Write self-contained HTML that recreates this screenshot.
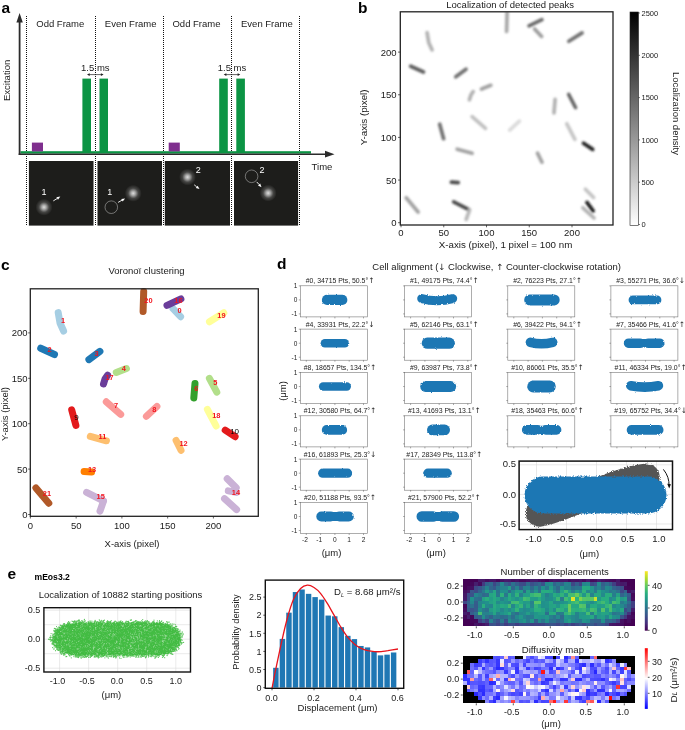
<!DOCTYPE html>
<html lang="en"><head><meta charset="utf-8"><title>Figure</title>
<style>html,body{margin:0;padding:0;background:#fff}body{width:685px;height:730px;overflow:hidden}svg{display:block}text{white-space:pre}</style>
</head><body>
<svg width="685" height="730" viewBox="0 0 685 730" font-family="'Liberation Sans', Arial, sans-serif" fill="#1a1a1a">
<defs>
<radialGradient id="spot"><stop offset="0" stop-color="#fff" stop-opacity=".85"/><stop offset=".25" stop-color="#fff" stop-opacity=".62"/><stop offset=".6" stop-color="#fff" stop-opacity=".18"/><stop offset="1" stop-color="#fff" stop-opacity="0"/></radialGradient>
<linearGradient id="gray" x1="0" y1="0" x2="0" y2="1"><stop offset="0" stop-color="#000"/><stop offset="1" stop-color="#fff"/></linearGradient>
<linearGradient id="bwr" x1="0" y1="0" x2="0" y2="1"><stop offset="0" stop-color="#f00"/><stop offset=".5" stop-color="#fff"/><stop offset="1" stop-color="#00f"/></linearGradient>
<linearGradient id="vir" x1="0" y1="1" x2="0" y2="0"><stop offset="0" stop-color="#440154"/><stop offset=".125" stop-color="#472d7b"/><stop offset=".25" stop-color="#3b528b"/><stop offset=".375" stop-color="#2c728e"/><stop offset=".5" stop-color="#21918c"/><stop offset=".625" stop-color="#28ae80"/><stop offset=".75" stop-color="#5ec962"/><stop offset=".875" stop-color="#addc30"/><stop offset="1" stop-color="#fde725"/></linearGradient>
<filter id="bl" filterUnits="userSpaceOnUse" x="395" y="5" width="225" height="225"><feGaussianBlur stdDeviation=".8"/></filter>
<filter id="rough" filterUnits="userSpaceOnUse" x="290" y="280" width="395" height="260"><feTurbulence type="fractalNoise" baseFrequency=".9" numOctaves="2" seed="3"/><feDisplacementMap in="SourceGraphic" scale="2.2" xChannelSelector="R" yChannelSelector="G"/></filter>
<filter id="rough2" filterUnits="userSpaceOnUse" x="510" y="455" width="170" height="80"><feTurbulence type="fractalNoise" baseFrequency=".7" numOctaves="2" seed="5"/><feDisplacementMap in="SourceGraphic" scale="3.6" xChannelSelector="R" yChannelSelector="G"/></filter>
</defs>
<rect x="0.00" y="0.00" width="685.00" height="730.00" fill="#fff"/>
<g id="pa">
<text x="1.6" y="13.0" font-size="15.5" font-weight="bold" fill="#000">a</text>
<line x1="26.50" y1="16.00" x2="26.50" y2="226.00" stroke="#111" stroke-width="1" stroke-dasharray="1 1" shape-rendering="crispEdges"/>
<line x1="95.50" y1="16.00" x2="95.50" y2="226.00" stroke="#111" stroke-width="1" stroke-dasharray="1 1" shape-rendering="crispEdges"/>
<line x1="163.50" y1="16.00" x2="163.50" y2="226.00" stroke="#111" stroke-width="1" stroke-dasharray="1 1" shape-rendering="crispEdges"/>
<line x1="231.50" y1="16.00" x2="231.50" y2="226.00" stroke="#111" stroke-width="1" stroke-dasharray="1 1" shape-rendering="crispEdges"/>
<line x1="299.50" y1="16.00" x2="299.50" y2="226.00" stroke="#111" stroke-width="1" stroke-dasharray="1 1" shape-rendering="crispEdges"/>
<rect x="28.90" y="161.00" width="64.60" height="64.60" fill="#1d1d1b"/>
<rect x="97.50" y="161.00" width="64.50" height="64.60" fill="#1d1d1b"/>
<rect x="164.80" y="161.00" width="65.20" height="64.60" fill="#1d1d1b"/>
<rect x="234.00" y="161.00" width="64.10" height="64.60" fill="#1d1d1b"/>
<rect x="20.50" y="151.20" width="290.50" height="2.40" fill="#0b9444"/>
<rect x="82.40" y="78.60" width="8.60" height="73.40" fill="#0b9444"/>
<rect x="99.50" y="78.60" width="8.50" height="73.40" fill="#0b9444"/>
<rect x="219.20" y="78.60" width="8.60" height="73.40" fill="#0b9444"/>
<rect x="236.30" y="78.60" width="8.60" height="73.40" fill="#0b9444"/>
<rect x="31.90" y="142.60" width="11.10" height="8.80" fill="#7f2f8e"/>
<rect x="168.70" y="142.60" width="11.10" height="8.80" fill="#7f2f8e"/>
<line x1="19.60" y1="20.00" x2="19.60" y2="155.00" stroke="#2b2b2b" stroke-width="1.8"/>
<polygon points="19.6,13 16.4,22.5 22.8,22.5" fill="#2b2b2b"/>
<line x1="18.70" y1="154.20" x2="327.00" y2="154.20" stroke="#2b2b2b" stroke-width="1.6"/>
<polygon points="334.5,154.2 325,150.8 325,157.6" fill="#2b2b2b"/>
<text x="60.3" y="27.3" font-size="9.5" text-anchor="middle">Odd Frame</text>
<text x="130.7" y="27.3" font-size="9.5" text-anchor="middle">Even Frame</text>
<text x="196.5" y="27.3" font-size="9.5" text-anchor="middle">Odd Frame</text>
<text x="266.9" y="27.3" font-size="9.5" text-anchor="middle">Even Frame</text>
<text x="95.3" y="70.7" font-size="9.5" text-anchor="middle">1.5 ms</text>
<line x1="88.30" y1="74.60" x2="102.30" y2="74.60" stroke="#222" stroke-width="0.7"/>
<polygon points="87.0,74.6 89.7,73.3 89.7,75.9" fill="#222"/>
<polygon points="103.6,74.6 100.89999999999999,73.3 100.89999999999999,75.9" fill="#222"/>
<text x="232.0" y="70.7" font-size="9.5" text-anchor="middle">1.5 ms</text>
<line x1="225.00" y1="74.60" x2="239.00" y2="74.60" stroke="#222" stroke-width="0.7"/>
<polygon points="223.7,74.6 226.4,73.3 226.4,75.9" fill="#222"/>
<polygon points="240.3,74.6 237.6,73.3 237.6,75.9" fill="#222"/>
<text x="10.5" y="80.4" font-size="9.5" text-anchor="middle" transform="rotate(-90 10.5 80.4)">Excitation</text>
<text x="322.0" y="170.4" font-size="9.5" text-anchor="middle">Time</text>
<circle cx="44" cy="207.2" r="8.5" fill="url(#spot)"/>
<text x="44.0" y="194.8" font-size="9" text-anchor="middle" fill="#fff">1</text>
<line x1="53.30" y1="200.90" x2="57.23" y2="198.48" stroke="#fff" stroke-width="0.9"/>
<polygon points="60.3,196.6 58.0,199.8 56.4,197.2" fill="#fff"/>
<circle cx="111.3" cy="207.2" r="6.3" fill="none" stroke="#ddd" stroke-width=".45"/>
<circle cx="133.2" cy="193.3" r="8.5" fill="url(#spot)"/>
<text x="109.8" y="194.8" font-size="9" text-anchor="middle" fill="#fff">1</text>
<line x1="118.10" y1="202.40" x2="121.97" y2="200.19" stroke="#fff" stroke-width="0.9"/>
<polygon points="125.1,198.4 122.7,201.5 121.2,198.9" fill="#fff"/>
<circle cx="187.5" cy="177.1" r="8.5" fill="url(#spot)"/>
<text x="198.2" y="172.8" font-size="9" text-anchor="middle" fill="#fff">2</text>
<line x1="194.20" y1="184.80" x2="196.70" y2="186.83" stroke="#fff" stroke-width="0.9"/>
<polygon points="199.5,189.1 195.8,188.0 197.6,185.7" fill="#fff"/>
<circle cx="251.6" cy="176.3" r="6.3" fill="none" stroke="#ddd" stroke-width=".45"/>
<circle cx="268.2" cy="193.1" r="8.5" fill="url(#spot)"/>
<text x="262.1" y="172.8" font-size="9" text-anchor="middle" fill="#fff">2</text>
<line x1="256.70" y1="181.90" x2="259.08" y2="184.53" stroke="#fff" stroke-width="0.9"/>
<polygon points="261.5,187.2 258.0,185.5 260.2,183.5" fill="#fff"/>
</g>
<g id="pb">
<text x="358.0" y="12.8" font-size="15.5" font-weight="bold" fill="#000">b</text>
<text x="510.2" y="7.6" font-size="9.5" text-anchor="middle">Localization of detected peaks</text>
<clipPath id="cb"><rect x="400.3" y="11.8" width="212.7" height="213.2"/></clipPath>
<g clip-path="url(#cb)" filter="url(#bl)" fill="none" stroke-linecap="round">
<path d="M534.6 29.0 L541.6 36.4" stroke="#9e9e9e" stroke-width="3.7"/>
<path d="M427.1 32.7 L428.7 42.4 L432.1 49.9" stroke="#b2b2b2" stroke-width="3.7"/>
<path d="M410.7 66.2 L423.5 72.0" stroke="#606060" stroke-width="3.7"/>
<path d="M455.8 76.8 L466.0 69.2" stroke="#727272" stroke-width="3.7"/>
<path d="M481.5 89.0 L490.8 85.3" stroke="#a3a3a3" stroke-width="3.7"/>
<path d="M568.7 94.5 L575.5 107.5" stroke="#666666" stroke-width="3.7"/>
<path d="M555.1 99.4 L554.0 112.8" stroke="#b2b2b2" stroke-width="3.7"/>
<path d="M472.1 116.7 L485.5 128.4" stroke="#c1c1c1" stroke-width="3.7"/>
<path d="M509.7 130.1 L519.4 121.1" stroke="#dbdbdb" stroke-width="3.7"/>
<path d="M439.7 124.2 L443.6 138.7" stroke="#727272" stroke-width="3.7"/>
<path d="M583.5 143.3 L592.7 149.4" stroke="#262626" stroke-width="3.7"/>
<path d="M457.2 149.2 L472.1 153.3" stroke="#a3a3a3" stroke-width="3.7"/>
<path d="M537.5 153.1 L542.0 162.2" stroke="#a3a3a3" stroke-width="3.7"/>
<path d="M451.4 182.2 L458.2 182.7" stroke="#4c4c4c" stroke-width="3.7"/>
<path d="M585.4 189.2 L593.6 197.5" stroke="#c4c4c4" stroke-width="3.7"/>
<path d="M587.0 202.5 L593.1 210.9" stroke="#1c1c1c" stroke-width="3.7"/>
<path d="M582.9 207.8 L594.0 218.0" stroke="#b4b4b4" stroke-width="3.7"/>
<path d="M453.7 201.9 L469.3 209.8" stroke="#4a4a4a" stroke-width="3.7"/>
<path d="M469.5 210.2 L466.2 219.4" stroke="#b8b8b8" stroke-width="3.7"/>
<path d="M529.0 25.8 L541.9 19.7" stroke="#6b6b6b" stroke-width="3.7"/>
<path d="M469.4 99.8 L470.9 95.1 L473.2 91.6" stroke="#b2b2b2" stroke-width="3.7"/>
<path d="M566.8 123.8 L574.9 139.3" stroke="#c6c6c6" stroke-width="3.7"/>
<path d="M568.8 41.2 L582.1 32.9" stroke="#727272" stroke-width="3.7"/>
<path d="M507.1 12.7 L506.6 31.5" stroke="#a8a8a8" stroke-width="3.7"/>
<path d="M406.2 197.8 L418.1 212.0" stroke="#a3a3a3" stroke-width="3.7"/>
</g>
<rect x="400.3" y="11.8" width="212.7" height="213.2" fill="none" stroke="#222" stroke-width="1.3"/>
<line x1="401.00" y1="225.00" x2="401.00" y2="227.30" stroke="#222" stroke-width="0.7"/>
<line x1="398.00" y1="222.70" x2="400.30" y2="222.70" stroke="#222" stroke-width="0.7"/>
<text x="401.0" y="236.4" font-size="9.5" text-anchor="middle">0</text>
<text x="396.5" y="226.1" font-size="9.5" text-anchor="end">0</text>
<line x1="443.75" y1="225.00" x2="443.75" y2="227.30" stroke="#222" stroke-width="0.7"/>
<line x1="398.00" y1="180.05" x2="400.30" y2="180.05" stroke="#222" stroke-width="0.7"/>
<text x="443.8" y="236.4" font-size="9.5" text-anchor="middle">50</text>
<text x="396.5" y="183.5" font-size="9.5" text-anchor="end">50</text>
<line x1="486.50" y1="225.00" x2="486.50" y2="227.30" stroke="#222" stroke-width="0.7"/>
<line x1="398.00" y1="137.40" x2="400.30" y2="137.40" stroke="#222" stroke-width="0.7"/>
<text x="486.5" y="236.4" font-size="9.5" text-anchor="middle">100</text>
<text x="396.5" y="140.8" font-size="9.5" text-anchor="end">100</text>
<line x1="529.25" y1="225.00" x2="529.25" y2="227.30" stroke="#222" stroke-width="0.7"/>
<line x1="398.00" y1="94.75" x2="400.30" y2="94.75" stroke="#222" stroke-width="0.7"/>
<text x="529.2" y="236.4" font-size="9.5" text-anchor="middle">150</text>
<text x="396.5" y="98.2" font-size="9.5" text-anchor="end">150</text>
<line x1="572.00" y1="225.00" x2="572.00" y2="227.30" stroke="#222" stroke-width="0.7"/>
<line x1="398.00" y1="52.10" x2="400.30" y2="52.10" stroke="#222" stroke-width="0.7"/>
<text x="572.0" y="236.4" font-size="9.5" text-anchor="middle">200</text>
<text x="396.5" y="55.5" font-size="9.5" text-anchor="end">200</text>
<text x="367.5" y="117.3" font-size="9.8" text-anchor="middle" transform="rotate(-90 367.5 117.3)">Y-axis (pixel)</text>
<text x="505.5" y="247.9" font-size="9.75" text-anchor="middle">X-axis (pixel), 1 pixel = 100 nm</text>
<rect x="630" y="12" width="8.5" height="213.5" fill="url(#gray)" stroke="#222" stroke-width=".6"/>
<line x1="638.50" y1="13.00" x2="640.00" y2="13.00" stroke="#222" stroke-width="0.6"/>
<text x="641.5" y="15.7" font-size="7.5">2500</text>
<line x1="638.50" y1="55.30" x2="640.00" y2="55.30" stroke="#222" stroke-width="0.6"/>
<text x="641.5" y="58.0" font-size="7.5">2000</text>
<line x1="638.50" y1="97.60" x2="640.00" y2="97.60" stroke="#222" stroke-width="0.6"/>
<text x="641.5" y="100.3" font-size="7.5">1500</text>
<line x1="638.50" y1="139.90" x2="640.00" y2="139.90" stroke="#222" stroke-width="0.6"/>
<text x="641.5" y="142.6" font-size="7.5">1000</text>
<line x1="638.50" y1="182.20" x2="640.00" y2="182.20" stroke="#222" stroke-width="0.6"/>
<text x="641.5" y="184.9" font-size="7.5">500</text>
<line x1="638.50" y1="224.50" x2="640.00" y2="224.50" stroke="#222" stroke-width="0.6"/>
<text x="641.5" y="227.2" font-size="7.5">0</text>
<text x="673.0" y="113.5" font-size="9.5" text-anchor="middle" transform="rotate(90 673.0 113.5)">Localization density</text>
</g>
<g id="pc">
<text x="1.0" y="269.5" font-size="15.5" font-weight="bold" fill="#000">c</text>
<text x="146.5" y="273.9" font-size="9.5" text-anchor="middle">Voronoï clustering</text>
<g fill="none" stroke-linecap="round" stroke-linejoin="round">
<path d="M173.0 308.7 L180.6 316.7" stroke="#a6cee3" stroke-width="7"/>
<path d="M58.2 312.6 L60.0 323.0 L63.6 331.0" stroke="#a6cee3" stroke-width="7"/>
<path d="M40.7 348.2 L54.5 354.5" stroke="#1f78b4" stroke-width="7"/>
<path d="M88.9 359.6 L99.9 351.4" stroke="#1f78b4" stroke-width="7"/>
<path d="M116.3 372.5 L126.4 368.5" stroke="#b2df8a" stroke-width="7"/>
<path d="M209.4 378.3 L216.8 392.2" stroke="#b2df8a" stroke-width="7"/>
<path d="M195.0 383.4 L193.8 397.9" stroke="#33a02c" stroke-width="7"/>
<path d="M106.3 401.8 L120.7 414.4" stroke="#fb9a99" stroke-width="7"/>
<path d="M146.4 416.3 L156.9 406.5" stroke="#fb9a99" stroke-width="7"/>
<path d="M71.7 409.8 L75.9 425.4" stroke="#e31a1c" stroke-width="7"/>
<path d="M225.2 430.1 L235.1 436.7" stroke="#e31a1c" stroke-width="7"/>
<path d="M90.3 436.4 L106.4 440.8" stroke="#fdbf6f" stroke-width="7"/>
<path d="M176.1 440.5 L181.0 450.3" stroke="#fdbf6f" stroke-width="7"/>
<path d="M84.1 471.5 L91.6 472.0" stroke="#ff7f00" stroke-width="7"/>
<path d="M227.2 478.8 L236.2 487.8" stroke="#cab2d6" stroke-width="7"/>
<path d="M228.3 490.9 L236.1 492.4" stroke="#cab2d6" stroke-width="7"/>
<path d="M224.5 498.6 L236.6 509.6" stroke="#cab2d6" stroke-width="7"/>
<path d="M86.6 492.4 L103.4 500.8" stroke="#cab2d6" stroke-width="7"/>
<path d="M103.5 501.1 L100.0 511.1" stroke="#cab2d6" stroke-width="7"/>
<path d="M167.0 305.4 L180.9 298.9" stroke="#6a3d9a" stroke-width="7"/>
<path d="M103.5 384.0 L105.0 379.0 L107.6 375.2" stroke="#6a3d9a" stroke-width="7"/>
<path d="M207.4 409.4 L216.1 426.0" stroke="#ffff99" stroke-width="7"/>
<path d="M209.5 321.8 L223.8 312.8" stroke="#ffff99" stroke-width="7"/>
<path d="M143.7 291.4 L143.1 311.5" stroke="#b15928" stroke-width="7"/>
<path d="M35.9 488.0 L48.8 503.2" stroke="#b15928" stroke-width="7"/>
</g>
<text x="179.5" y="313.4" font-size="7.4" text-anchor="middle" font-weight="bold" fill="#f2141e">0</text>
<text x="63.1" y="322.7" font-size="7.4" text-anchor="middle" font-weight="bold" fill="#f2141e">1</text>
<text x="49.5" y="352.3" font-size="7.4" text-anchor="middle" font-weight="bold" fill="#f2141e">2</text>
<text x="96.6" y="356.2" font-size="7.4" text-anchor="middle" font-weight="bold" fill="#f2141e">3</text>
<text x="123.7" y="371.3" font-size="7.4" text-anchor="middle" font-weight="bold" fill="#f2141e">4</text>
<text x="215.4" y="385.3" font-size="7.4" text-anchor="middle" font-weight="bold" fill="#f2141e">5</text>
<text x="196.4" y="391.4" font-size="7.4" text-anchor="middle" font-weight="bold" fill="#f2141e">6</text>
<text x="116.0" y="408.1" font-size="7.4" text-anchor="middle" font-weight="bold" fill="#f2141e">7</text>
<text x="154.3" y="411.9" font-size="7.4" text-anchor="middle" font-weight="bold" fill="#f2141e">8</text>
<text x="76.5" y="420.4" font-size="8" text-anchor="middle" fill="#000">9</text>
<text x="234.6" y="434.0" font-size="8" text-anchor="middle" fill="#000">10</text>
<text x="102.4" y="439.4" font-size="7.4" text-anchor="middle" font-weight="bold" fill="#f2141e">11</text>
<text x="183.5" y="445.8" font-size="7.4" text-anchor="middle" font-weight="bold" fill="#f2141e">12</text>
<text x="92.0" y="472.3" font-size="7.4" text-anchor="middle" font-weight="bold" fill="#f2141e">13</text>
<text x="235.9" y="495.1" font-size="7.4" text-anchor="middle" font-weight="bold" fill="#f2141e">14</text>
<text x="100.7" y="499.2" font-size="7.4" text-anchor="middle" font-weight="bold" fill="#f2141e">15</text>
<text x="178.4" y="302.5" font-size="7.4" text-anchor="middle" font-weight="bold" fill="#f2141e">16</text>
<text x="109.5" y="380.3" font-size="7.4" text-anchor="middle" font-weight="bold" fill="#f2141e">17</text>
<text x="216.3" y="417.5" font-size="7.4" text-anchor="middle" font-weight="bold" fill="#f2141e">18</text>
<text x="221.4" y="318.3" font-size="7.4" text-anchor="middle" font-weight="bold" fill="#f2141e">19</text>
<text x="148.4" y="302.5" font-size="7.4" text-anchor="middle" font-weight="bold" fill="#f2141e">20</text>
<text x="46.9" y="496.2" font-size="7.4" text-anchor="middle" font-weight="bold" fill="#f2141e">21</text>
<rect x="30.3" y="288.8" width="228.0" height="227.49999999999994" fill="none" stroke="#222" stroke-width="1.3"/>
<line x1="30.40" y1="516.30" x2="30.40" y2="518.50" stroke="#222" stroke-width="0.7"/>
<line x1="28.10" y1="514.50" x2="30.30" y2="514.50" stroke="#222" stroke-width="0.7"/>
<text x="30.4" y="528.9" font-size="9.5" text-anchor="middle">0</text>
<text x="27.5" y="517.9" font-size="9.5" text-anchor="end">0</text>
<line x1="76.15" y1="516.30" x2="76.15" y2="518.50" stroke="#222" stroke-width="0.7"/>
<line x1="28.10" y1="469.10" x2="30.30" y2="469.10" stroke="#222" stroke-width="0.7"/>
<text x="76.2" y="528.9" font-size="9.5" text-anchor="middle">50</text>
<text x="27.5" y="472.5" font-size="9.5" text-anchor="end">50</text>
<line x1="121.90" y1="516.30" x2="121.90" y2="518.50" stroke="#222" stroke-width="0.7"/>
<line x1="28.10" y1="423.70" x2="30.30" y2="423.70" stroke="#222" stroke-width="0.7"/>
<text x="121.9" y="528.9" font-size="9.5" text-anchor="middle">100</text>
<text x="27.5" y="427.1" font-size="9.5" text-anchor="end">100</text>
<line x1="167.65" y1="516.30" x2="167.65" y2="518.50" stroke="#222" stroke-width="0.7"/>
<line x1="28.10" y1="378.30" x2="30.30" y2="378.30" stroke="#222" stroke-width="0.7"/>
<text x="167.7" y="528.9" font-size="9.5" text-anchor="middle">150</text>
<text x="27.5" y="381.7" font-size="9.5" text-anchor="end">150</text>
<line x1="213.40" y1="516.30" x2="213.40" y2="518.50" stroke="#222" stroke-width="0.7"/>
<line x1="28.10" y1="332.90" x2="30.30" y2="332.90" stroke="#222" stroke-width="0.7"/>
<text x="213.4" y="528.9" font-size="9.5" text-anchor="middle">200</text>
<text x="27.5" y="336.3" font-size="9.5" text-anchor="end">200</text>
<text x="7.6" y="414.0" font-size="9.5" text-anchor="middle" transform="rotate(-90 7.6 414.0)">Y-axis (pixel)</text>
<text x="132.0" y="547.0" font-size="9.5" text-anchor="middle">X-axis (pixel)</text>
</g>
<g id="pd">
<text x="277.0" y="269.2" font-size="15.5" font-weight="bold" fill="#000">d</text>
<text x="496.7" y="269.7" font-size="9.5" text-anchor="middle">Cell alignment (<tspan font-family="DejaVu Sans, sans-serif" font-size="8.5">↓</tspan> Clockwise, <tspan font-family="DejaVu Sans, sans-serif" font-size="8.5">↑</tspan> Counter-clockwise rotation)</text>
<rect x="300.3" y="285.8" width="67.0" height="31.1" fill="#fff" stroke="#777" stroke-width=".6"/>
<line x1="306.30" y1="316.90" x2="306.30" y2="318.40" stroke="#555" stroke-width="0.5"/>
<line x1="320.60" y1="316.90" x2="320.60" y2="318.40" stroke="#555" stroke-width="0.5"/>
<line x1="334.90" y1="316.90" x2="334.90" y2="318.40" stroke="#555" stroke-width="0.5"/>
<line x1="349.20" y1="316.90" x2="349.20" y2="318.40" stroke="#555" stroke-width="0.5"/>
<line x1="363.50" y1="316.90" x2="363.50" y2="318.40" stroke="#555" stroke-width="0.5"/>
<line x1="298.80" y1="285.90" x2="300.30" y2="285.90" stroke="#555" stroke-width="0.5"/>
<text x="297.3" y="288.2" font-size="6.5" text-anchor="end" fill="#222">1</text>
<line x1="298.80" y1="299.90" x2="300.30" y2="299.90" stroke="#555" stroke-width="0.5"/>
<text x="297.3" y="302.2" font-size="6.5" text-anchor="end" fill="#222">0</text>
<line x1="298.80" y1="313.90" x2="300.30" y2="313.90" stroke="#555" stroke-width="0.5"/>
<text x="297.3" y="316.2" font-size="6.5" text-anchor="end" fill="#222">-1</text>
<text x="340.1" y="283.3" font-size="6.9" text-anchor="middle" fill="#222">#0, 34715 Pts, 50.5°<tspan font-family="DejaVu Sans, sans-serif" font-size="7.6">↑</tspan></text>
<rect x="404.6" y="285.8" width="67.0" height="31.1" fill="#fff" stroke="#777" stroke-width=".6"/>
<line x1="410.60" y1="316.90" x2="410.60" y2="318.40" stroke="#555" stroke-width="0.5"/>
<line x1="424.90" y1="316.90" x2="424.90" y2="318.40" stroke="#555" stroke-width="0.5"/>
<line x1="439.20" y1="316.90" x2="439.20" y2="318.40" stroke="#555" stroke-width="0.5"/>
<line x1="453.50" y1="316.90" x2="453.50" y2="318.40" stroke="#555" stroke-width="0.5"/>
<line x1="467.80" y1="316.90" x2="467.80" y2="318.40" stroke="#555" stroke-width="0.5"/>
<line x1="403.10" y1="285.90" x2="404.60" y2="285.90" stroke="#555" stroke-width="0.5"/>
<line x1="403.10" y1="299.90" x2="404.60" y2="299.90" stroke="#555" stroke-width="0.5"/>
<line x1="403.10" y1="313.90" x2="404.60" y2="313.90" stroke="#555" stroke-width="0.5"/>
<text x="444.4" y="283.3" font-size="6.9" text-anchor="middle" fill="#222">#1, 49175 Pts, 74.4°<tspan font-family="DejaVu Sans, sans-serif" font-size="7.6">↑</tspan></text>
<rect x="507.8" y="285.8" width="67.0" height="31.1" fill="#fff" stroke="#777" stroke-width=".6"/>
<line x1="513.80" y1="316.90" x2="513.80" y2="318.40" stroke="#555" stroke-width="0.5"/>
<line x1="528.10" y1="316.90" x2="528.10" y2="318.40" stroke="#555" stroke-width="0.5"/>
<line x1="542.40" y1="316.90" x2="542.40" y2="318.40" stroke="#555" stroke-width="0.5"/>
<line x1="556.70" y1="316.90" x2="556.70" y2="318.40" stroke="#555" stroke-width="0.5"/>
<line x1="571.00" y1="316.90" x2="571.00" y2="318.40" stroke="#555" stroke-width="0.5"/>
<line x1="506.30" y1="285.90" x2="507.80" y2="285.90" stroke="#555" stroke-width="0.5"/>
<line x1="506.30" y1="299.90" x2="507.80" y2="299.90" stroke="#555" stroke-width="0.5"/>
<line x1="506.30" y1="313.90" x2="507.80" y2="313.90" stroke="#555" stroke-width="0.5"/>
<text x="547.6" y="283.3" font-size="6.9" text-anchor="middle" fill="#222">#2, 76223 Pts, 27.1°<tspan font-family="DejaVu Sans, sans-serif" font-size="7.6">↑</tspan></text>
<rect x="610.9" y="285.8" width="67.0" height="31.1" fill="#fff" stroke="#777" stroke-width=".6"/>
<line x1="616.90" y1="316.90" x2="616.90" y2="318.40" stroke="#555" stroke-width="0.5"/>
<line x1="631.20" y1="316.90" x2="631.20" y2="318.40" stroke="#555" stroke-width="0.5"/>
<line x1="645.50" y1="316.90" x2="645.50" y2="318.40" stroke="#555" stroke-width="0.5"/>
<line x1="659.80" y1="316.90" x2="659.80" y2="318.40" stroke="#555" stroke-width="0.5"/>
<line x1="674.10" y1="316.90" x2="674.10" y2="318.40" stroke="#555" stroke-width="0.5"/>
<line x1="609.40" y1="285.90" x2="610.90" y2="285.90" stroke="#555" stroke-width="0.5"/>
<line x1="609.40" y1="299.90" x2="610.90" y2="299.90" stroke="#555" stroke-width="0.5"/>
<line x1="609.40" y1="313.90" x2="610.90" y2="313.90" stroke="#555" stroke-width="0.5"/>
<text x="650.7" y="283.3" font-size="6.9" text-anchor="middle" fill="#222">#3, 55271 Pts, 36.6°<tspan font-family="DejaVu Sans, sans-serif" font-size="7.6">↓</tspan></text>
<rect x="300.3" y="329.1" width="67.0" height="31.1" fill="#fff" stroke="#777" stroke-width=".6"/>
<line x1="306.30" y1="360.22" x2="306.30" y2="361.72" stroke="#555" stroke-width="0.5"/>
<line x1="320.60" y1="360.22" x2="320.60" y2="361.72" stroke="#555" stroke-width="0.5"/>
<line x1="334.90" y1="360.22" x2="334.90" y2="361.72" stroke="#555" stroke-width="0.5"/>
<line x1="349.20" y1="360.22" x2="349.20" y2="361.72" stroke="#555" stroke-width="0.5"/>
<line x1="363.50" y1="360.22" x2="363.50" y2="361.72" stroke="#555" stroke-width="0.5"/>
<line x1="298.80" y1="329.22" x2="300.30" y2="329.22" stroke="#555" stroke-width="0.5"/>
<text x="297.3" y="331.6" font-size="6.5" text-anchor="end" fill="#222">1</text>
<line x1="298.80" y1="343.22" x2="300.30" y2="343.22" stroke="#555" stroke-width="0.5"/>
<text x="297.3" y="345.6" font-size="6.5" text-anchor="end" fill="#222">0</text>
<line x1="298.80" y1="357.22" x2="300.30" y2="357.22" stroke="#555" stroke-width="0.5"/>
<text x="297.3" y="359.6" font-size="6.5" text-anchor="end" fill="#222">-1</text>
<text x="340.1" y="326.6" font-size="6.9" text-anchor="middle" fill="#222">#4, 33931 Pts, 22.2°<tspan font-family="DejaVu Sans, sans-serif" font-size="7.6">↓</tspan></text>
<rect x="404.6" y="329.1" width="67.0" height="31.1" fill="#fff" stroke="#777" stroke-width=".6"/>
<line x1="410.60" y1="360.22" x2="410.60" y2="361.72" stroke="#555" stroke-width="0.5"/>
<line x1="424.90" y1="360.22" x2="424.90" y2="361.72" stroke="#555" stroke-width="0.5"/>
<line x1="439.20" y1="360.22" x2="439.20" y2="361.72" stroke="#555" stroke-width="0.5"/>
<line x1="453.50" y1="360.22" x2="453.50" y2="361.72" stroke="#555" stroke-width="0.5"/>
<line x1="467.80" y1="360.22" x2="467.80" y2="361.72" stroke="#555" stroke-width="0.5"/>
<line x1="403.10" y1="329.22" x2="404.60" y2="329.22" stroke="#555" stroke-width="0.5"/>
<line x1="403.10" y1="343.22" x2="404.60" y2="343.22" stroke="#555" stroke-width="0.5"/>
<line x1="403.10" y1="357.22" x2="404.60" y2="357.22" stroke="#555" stroke-width="0.5"/>
<text x="444.4" y="326.6" font-size="6.9" text-anchor="middle" fill="#222">#5, 62146 Pts, 63.1°<tspan font-family="DejaVu Sans, sans-serif" font-size="7.6">↑</tspan></text>
<rect x="507.8" y="329.1" width="67.0" height="31.1" fill="#fff" stroke="#777" stroke-width=".6"/>
<line x1="513.80" y1="360.22" x2="513.80" y2="361.72" stroke="#555" stroke-width="0.5"/>
<line x1="528.10" y1="360.22" x2="528.10" y2="361.72" stroke="#555" stroke-width="0.5"/>
<line x1="542.40" y1="360.22" x2="542.40" y2="361.72" stroke="#555" stroke-width="0.5"/>
<line x1="556.70" y1="360.22" x2="556.70" y2="361.72" stroke="#555" stroke-width="0.5"/>
<line x1="571.00" y1="360.22" x2="571.00" y2="361.72" stroke="#555" stroke-width="0.5"/>
<line x1="506.30" y1="329.22" x2="507.80" y2="329.22" stroke="#555" stroke-width="0.5"/>
<line x1="506.30" y1="343.22" x2="507.80" y2="343.22" stroke="#555" stroke-width="0.5"/>
<line x1="506.30" y1="357.22" x2="507.80" y2="357.22" stroke="#555" stroke-width="0.5"/>
<text x="547.6" y="326.6" font-size="6.9" text-anchor="middle" fill="#222">#6, 39422 Pts, 94.1°<tspan font-family="DejaVu Sans, sans-serif" font-size="7.6">↑</tspan></text>
<rect x="610.9" y="329.1" width="67.0" height="31.1" fill="#fff" stroke="#777" stroke-width=".6"/>
<line x1="616.90" y1="360.22" x2="616.90" y2="361.72" stroke="#555" stroke-width="0.5"/>
<line x1="631.20" y1="360.22" x2="631.20" y2="361.72" stroke="#555" stroke-width="0.5"/>
<line x1="645.50" y1="360.22" x2="645.50" y2="361.72" stroke="#555" stroke-width="0.5"/>
<line x1="659.80" y1="360.22" x2="659.80" y2="361.72" stroke="#555" stroke-width="0.5"/>
<line x1="674.10" y1="360.22" x2="674.10" y2="361.72" stroke="#555" stroke-width="0.5"/>
<line x1="609.40" y1="329.22" x2="610.90" y2="329.22" stroke="#555" stroke-width="0.5"/>
<line x1="609.40" y1="343.22" x2="610.90" y2="343.22" stroke="#555" stroke-width="0.5"/>
<line x1="609.40" y1="357.22" x2="610.90" y2="357.22" stroke="#555" stroke-width="0.5"/>
<text x="650.7" y="326.6" font-size="6.9" text-anchor="middle" fill="#222">#7, 35466 Pts, 41.6°<tspan font-family="DejaVu Sans, sans-serif" font-size="7.6">↑</tspan></text>
<rect x="300.3" y="372.4" width="67.0" height="31.1" fill="#fff" stroke="#777" stroke-width=".6"/>
<line x1="306.30" y1="403.54" x2="306.30" y2="405.04" stroke="#555" stroke-width="0.5"/>
<line x1="320.60" y1="403.54" x2="320.60" y2="405.04" stroke="#555" stroke-width="0.5"/>
<line x1="334.90" y1="403.54" x2="334.90" y2="405.04" stroke="#555" stroke-width="0.5"/>
<line x1="349.20" y1="403.54" x2="349.20" y2="405.04" stroke="#555" stroke-width="0.5"/>
<line x1="363.50" y1="403.54" x2="363.50" y2="405.04" stroke="#555" stroke-width="0.5"/>
<line x1="298.80" y1="372.54" x2="300.30" y2="372.54" stroke="#555" stroke-width="0.5"/>
<text x="297.3" y="374.9" font-size="6.5" text-anchor="end" fill="#222">1</text>
<line x1="298.80" y1="386.54" x2="300.30" y2="386.54" stroke="#555" stroke-width="0.5"/>
<text x="297.3" y="388.9" font-size="6.5" text-anchor="end" fill="#222">0</text>
<line x1="298.80" y1="400.54" x2="300.30" y2="400.54" stroke="#555" stroke-width="0.5"/>
<text x="297.3" y="402.9" font-size="6.5" text-anchor="end" fill="#222">-1</text>
<text x="340.1" y="369.9" font-size="6.9" text-anchor="middle" fill="#222">#8, 18657 Pts, 134.5°<tspan font-family="DejaVu Sans, sans-serif" font-size="7.6">↑</tspan></text>
<rect x="404.6" y="372.4" width="67.0" height="31.1" fill="#fff" stroke="#777" stroke-width=".6"/>
<line x1="410.60" y1="403.54" x2="410.60" y2="405.04" stroke="#555" stroke-width="0.5"/>
<line x1="424.90" y1="403.54" x2="424.90" y2="405.04" stroke="#555" stroke-width="0.5"/>
<line x1="439.20" y1="403.54" x2="439.20" y2="405.04" stroke="#555" stroke-width="0.5"/>
<line x1="453.50" y1="403.54" x2="453.50" y2="405.04" stroke="#555" stroke-width="0.5"/>
<line x1="467.80" y1="403.54" x2="467.80" y2="405.04" stroke="#555" stroke-width="0.5"/>
<line x1="403.10" y1="372.54" x2="404.60" y2="372.54" stroke="#555" stroke-width="0.5"/>
<line x1="403.10" y1="386.54" x2="404.60" y2="386.54" stroke="#555" stroke-width="0.5"/>
<line x1="403.10" y1="400.54" x2="404.60" y2="400.54" stroke="#555" stroke-width="0.5"/>
<text x="444.4" y="369.9" font-size="6.9" text-anchor="middle" fill="#222">#9, 63987 Pts, 73.8°<tspan font-family="DejaVu Sans, sans-serif" font-size="7.6">↑</tspan></text>
<rect x="507.8" y="372.4" width="67.0" height="31.1" fill="#fff" stroke="#777" stroke-width=".6"/>
<line x1="513.80" y1="403.54" x2="513.80" y2="405.04" stroke="#555" stroke-width="0.5"/>
<line x1="528.10" y1="403.54" x2="528.10" y2="405.04" stroke="#555" stroke-width="0.5"/>
<line x1="542.40" y1="403.54" x2="542.40" y2="405.04" stroke="#555" stroke-width="0.5"/>
<line x1="556.70" y1="403.54" x2="556.70" y2="405.04" stroke="#555" stroke-width="0.5"/>
<line x1="571.00" y1="403.54" x2="571.00" y2="405.04" stroke="#555" stroke-width="0.5"/>
<line x1="506.30" y1="372.54" x2="507.80" y2="372.54" stroke="#555" stroke-width="0.5"/>
<line x1="506.30" y1="386.54" x2="507.80" y2="386.54" stroke="#555" stroke-width="0.5"/>
<line x1="506.30" y1="400.54" x2="507.80" y2="400.54" stroke="#555" stroke-width="0.5"/>
<text x="547.6" y="369.9" font-size="6.9" text-anchor="middle" fill="#222">#10, 86061 Pts, 35.5°<tspan font-family="DejaVu Sans, sans-serif" font-size="7.6">↑</tspan></text>
<rect x="610.9" y="372.4" width="67.0" height="31.1" fill="#fff" stroke="#777" stroke-width=".6"/>
<line x1="616.90" y1="403.54" x2="616.90" y2="405.04" stroke="#555" stroke-width="0.5"/>
<line x1="631.20" y1="403.54" x2="631.20" y2="405.04" stroke="#555" stroke-width="0.5"/>
<line x1="645.50" y1="403.54" x2="645.50" y2="405.04" stroke="#555" stroke-width="0.5"/>
<line x1="659.80" y1="403.54" x2="659.80" y2="405.04" stroke="#555" stroke-width="0.5"/>
<line x1="674.10" y1="403.54" x2="674.10" y2="405.04" stroke="#555" stroke-width="0.5"/>
<line x1="609.40" y1="372.54" x2="610.90" y2="372.54" stroke="#555" stroke-width="0.5"/>
<line x1="609.40" y1="386.54" x2="610.90" y2="386.54" stroke="#555" stroke-width="0.5"/>
<line x1="609.40" y1="400.54" x2="610.90" y2="400.54" stroke="#555" stroke-width="0.5"/>
<text x="650.7" y="369.9" font-size="6.9" text-anchor="middle" fill="#222">#11, 46334 Pts, 19.0°<tspan font-family="DejaVu Sans, sans-serif" font-size="7.6">↑</tspan></text>
<rect x="300.3" y="415.8" width="67.0" height="31.1" fill="#fff" stroke="#777" stroke-width=".6"/>
<line x1="306.30" y1="446.86" x2="306.30" y2="448.36" stroke="#555" stroke-width="0.5"/>
<line x1="320.60" y1="446.86" x2="320.60" y2="448.36" stroke="#555" stroke-width="0.5"/>
<line x1="334.90" y1="446.86" x2="334.90" y2="448.36" stroke="#555" stroke-width="0.5"/>
<line x1="349.20" y1="446.86" x2="349.20" y2="448.36" stroke="#555" stroke-width="0.5"/>
<line x1="363.50" y1="446.86" x2="363.50" y2="448.36" stroke="#555" stroke-width="0.5"/>
<line x1="298.80" y1="415.86" x2="300.30" y2="415.86" stroke="#555" stroke-width="0.5"/>
<text x="297.3" y="418.2" font-size="6.5" text-anchor="end" fill="#222">1</text>
<line x1="298.80" y1="429.86" x2="300.30" y2="429.86" stroke="#555" stroke-width="0.5"/>
<text x="297.3" y="432.2" font-size="6.5" text-anchor="end" fill="#222">0</text>
<line x1="298.80" y1="443.86" x2="300.30" y2="443.86" stroke="#555" stroke-width="0.5"/>
<text x="297.3" y="446.2" font-size="6.5" text-anchor="end" fill="#222">-1</text>
<text x="340.1" y="413.2" font-size="6.9" text-anchor="middle" fill="#222">#12, 30580 Pts, 64.7°<tspan font-family="DejaVu Sans, sans-serif" font-size="7.6">↑</tspan></text>
<rect x="404.6" y="415.8" width="67.0" height="31.1" fill="#fff" stroke="#777" stroke-width=".6"/>
<line x1="410.60" y1="446.86" x2="410.60" y2="448.36" stroke="#555" stroke-width="0.5"/>
<line x1="424.90" y1="446.86" x2="424.90" y2="448.36" stroke="#555" stroke-width="0.5"/>
<line x1="439.20" y1="446.86" x2="439.20" y2="448.36" stroke="#555" stroke-width="0.5"/>
<line x1="453.50" y1="446.86" x2="453.50" y2="448.36" stroke="#555" stroke-width="0.5"/>
<line x1="467.80" y1="446.86" x2="467.80" y2="448.36" stroke="#555" stroke-width="0.5"/>
<line x1="403.10" y1="415.86" x2="404.60" y2="415.86" stroke="#555" stroke-width="0.5"/>
<line x1="403.10" y1="429.86" x2="404.60" y2="429.86" stroke="#555" stroke-width="0.5"/>
<line x1="403.10" y1="443.86" x2="404.60" y2="443.86" stroke="#555" stroke-width="0.5"/>
<text x="444.4" y="413.2" font-size="6.9" text-anchor="middle" fill="#222">#13, 41693 Pts, 13.1°<tspan font-family="DejaVu Sans, sans-serif" font-size="7.6">↑</tspan></text>
<rect x="507.8" y="415.8" width="67.0" height="31.1" fill="#fff" stroke="#777" stroke-width=".6"/>
<line x1="513.80" y1="446.86" x2="513.80" y2="448.36" stroke="#555" stroke-width="0.5"/>
<line x1="528.10" y1="446.86" x2="528.10" y2="448.36" stroke="#555" stroke-width="0.5"/>
<line x1="542.40" y1="446.86" x2="542.40" y2="448.36" stroke="#555" stroke-width="0.5"/>
<line x1="556.70" y1="446.86" x2="556.70" y2="448.36" stroke="#555" stroke-width="0.5"/>
<line x1="571.00" y1="446.86" x2="571.00" y2="448.36" stroke="#555" stroke-width="0.5"/>
<line x1="506.30" y1="415.86" x2="507.80" y2="415.86" stroke="#555" stroke-width="0.5"/>
<line x1="506.30" y1="429.86" x2="507.80" y2="429.86" stroke="#555" stroke-width="0.5"/>
<line x1="506.30" y1="443.86" x2="507.80" y2="443.86" stroke="#555" stroke-width="0.5"/>
<text x="547.6" y="413.2" font-size="6.9" text-anchor="middle" fill="#222">#18, 35463 Pts, 60.6°<tspan font-family="DejaVu Sans, sans-serif" font-size="7.6">↑</tspan></text>
<rect x="610.9" y="415.8" width="67.0" height="31.1" fill="#fff" stroke="#777" stroke-width=".6"/>
<line x1="616.90" y1="446.86" x2="616.90" y2="448.36" stroke="#555" stroke-width="0.5"/>
<line x1="631.20" y1="446.86" x2="631.20" y2="448.36" stroke="#555" stroke-width="0.5"/>
<line x1="645.50" y1="446.86" x2="645.50" y2="448.36" stroke="#555" stroke-width="0.5"/>
<line x1="659.80" y1="446.86" x2="659.80" y2="448.36" stroke="#555" stroke-width="0.5"/>
<line x1="674.10" y1="446.86" x2="674.10" y2="448.36" stroke="#555" stroke-width="0.5"/>
<line x1="609.40" y1="415.86" x2="610.90" y2="415.86" stroke="#555" stroke-width="0.5"/>
<line x1="609.40" y1="429.86" x2="610.90" y2="429.86" stroke="#555" stroke-width="0.5"/>
<line x1="609.40" y1="443.86" x2="610.90" y2="443.86" stroke="#555" stroke-width="0.5"/>
<text x="650.7" y="413.2" font-size="6.9" text-anchor="middle" fill="#222">#19, 65752 Pts, 34.4°<tspan font-family="DejaVu Sans, sans-serif" font-size="7.6">↓</tspan></text>
<rect x="300.3" y="459.1" width="67.0" height="31.1" fill="#fff" stroke="#777" stroke-width=".6"/>
<line x1="306.30" y1="490.18" x2="306.30" y2="491.68" stroke="#555" stroke-width="0.5"/>
<line x1="320.60" y1="490.18" x2="320.60" y2="491.68" stroke="#555" stroke-width="0.5"/>
<line x1="334.90" y1="490.18" x2="334.90" y2="491.68" stroke="#555" stroke-width="0.5"/>
<line x1="349.20" y1="490.18" x2="349.20" y2="491.68" stroke="#555" stroke-width="0.5"/>
<line x1="363.50" y1="490.18" x2="363.50" y2="491.68" stroke="#555" stroke-width="0.5"/>
<line x1="298.80" y1="459.18" x2="300.30" y2="459.18" stroke="#555" stroke-width="0.5"/>
<text x="297.3" y="461.5" font-size="6.5" text-anchor="end" fill="#222">1</text>
<line x1="298.80" y1="473.18" x2="300.30" y2="473.18" stroke="#555" stroke-width="0.5"/>
<text x="297.3" y="475.5" font-size="6.5" text-anchor="end" fill="#222">0</text>
<line x1="298.80" y1="487.18" x2="300.30" y2="487.18" stroke="#555" stroke-width="0.5"/>
<text x="297.3" y="489.5" font-size="6.5" text-anchor="end" fill="#222">-1</text>
<text x="340.1" y="456.6" font-size="6.9" text-anchor="middle" fill="#222">#16, 61893 Pts, 25.3°<tspan font-family="DejaVu Sans, sans-serif" font-size="7.6">↓</tspan></text>
<rect x="404.6" y="459.1" width="67.0" height="31.1" fill="#fff" stroke="#777" stroke-width=".6"/>
<line x1="410.60" y1="490.18" x2="410.60" y2="491.68" stroke="#555" stroke-width="0.5"/>
<line x1="424.90" y1="490.18" x2="424.90" y2="491.68" stroke="#555" stroke-width="0.5"/>
<line x1="439.20" y1="490.18" x2="439.20" y2="491.68" stroke="#555" stroke-width="0.5"/>
<line x1="453.50" y1="490.18" x2="453.50" y2="491.68" stroke="#555" stroke-width="0.5"/>
<line x1="467.80" y1="490.18" x2="467.80" y2="491.68" stroke="#555" stroke-width="0.5"/>
<line x1="403.10" y1="459.18" x2="404.60" y2="459.18" stroke="#555" stroke-width="0.5"/>
<line x1="403.10" y1="473.18" x2="404.60" y2="473.18" stroke="#555" stroke-width="0.5"/>
<line x1="403.10" y1="487.18" x2="404.60" y2="487.18" stroke="#555" stroke-width="0.5"/>
<text x="444.4" y="456.6" font-size="6.9" text-anchor="middle" fill="#222">#17, 28349 Pts, 113.8°<tspan font-family="DejaVu Sans, sans-serif" font-size="7.6">↑</tspan></text>
<rect x="300.3" y="502.4" width="67.0" height="31.1" fill="#fff" stroke="#777" stroke-width=".6"/>
<line x1="306.30" y1="533.50" x2="306.30" y2="535.00" stroke="#555" stroke-width="0.5"/>
<text x="305.0" y="542.3" font-size="6.6" text-anchor="middle" fill="#222">-2</text>
<line x1="320.60" y1="533.50" x2="320.60" y2="535.00" stroke="#555" stroke-width="0.5"/>
<text x="319.3" y="542.3" font-size="6.6" text-anchor="middle" fill="#222">-1</text>
<line x1="334.90" y1="533.50" x2="334.90" y2="535.00" stroke="#555" stroke-width="0.5"/>
<text x="334.9" y="542.3" font-size="6.6" text-anchor="middle" fill="#222">0</text>
<line x1="349.20" y1="533.50" x2="349.20" y2="535.00" stroke="#555" stroke-width="0.5"/>
<text x="349.2" y="542.3" font-size="6.6" text-anchor="middle" fill="#222">1</text>
<line x1="363.50" y1="533.50" x2="363.50" y2="535.00" stroke="#555" stroke-width="0.5"/>
<text x="363.5" y="542.3" font-size="6.6" text-anchor="middle" fill="#222">2</text>
<line x1="298.80" y1="502.50" x2="300.30" y2="502.50" stroke="#555" stroke-width="0.5"/>
<text x="297.3" y="504.8" font-size="6.5" text-anchor="end" fill="#222">1</text>
<line x1="298.80" y1="516.50" x2="300.30" y2="516.50" stroke="#555" stroke-width="0.5"/>
<text x="297.3" y="518.8" font-size="6.5" text-anchor="end" fill="#222">0</text>
<line x1="298.80" y1="530.50" x2="300.30" y2="530.50" stroke="#555" stroke-width="0.5"/>
<text x="297.3" y="532.8" font-size="6.5" text-anchor="end" fill="#222">-1</text>
<text x="340.1" y="499.9" font-size="6.9" text-anchor="middle" fill="#222">#20, 51188 Pts, 93.5°<tspan font-family="DejaVu Sans, sans-serif" font-size="7.6">↑</tspan></text>
<rect x="404.6" y="502.4" width="67.0" height="31.1" fill="#fff" stroke="#777" stroke-width=".6"/>
<line x1="410.60" y1="533.50" x2="410.60" y2="535.00" stroke="#555" stroke-width="0.5"/>
<text x="409.3" y="542.3" font-size="6.6" text-anchor="middle" fill="#222">-2</text>
<line x1="424.90" y1="533.50" x2="424.90" y2="535.00" stroke="#555" stroke-width="0.5"/>
<text x="423.6" y="542.3" font-size="6.6" text-anchor="middle" fill="#222">-1</text>
<line x1="439.20" y1="533.50" x2="439.20" y2="535.00" stroke="#555" stroke-width="0.5"/>
<text x="439.2" y="542.3" font-size="6.6" text-anchor="middle" fill="#222">0</text>
<line x1="453.50" y1="533.50" x2="453.50" y2="535.00" stroke="#555" stroke-width="0.5"/>
<text x="453.5" y="542.3" font-size="6.6" text-anchor="middle" fill="#222">1</text>
<line x1="467.80" y1="533.50" x2="467.80" y2="535.00" stroke="#555" stroke-width="0.5"/>
<text x="467.8" y="542.3" font-size="6.6" text-anchor="middle" fill="#222">2</text>
<line x1="403.10" y1="502.50" x2="404.60" y2="502.50" stroke="#555" stroke-width="0.5"/>
<line x1="403.10" y1="516.50" x2="404.60" y2="516.50" stroke="#555" stroke-width="0.5"/>
<line x1="403.10" y1="530.50" x2="404.60" y2="530.50" stroke="#555" stroke-width="0.5"/>
<text x="444.4" y="499.9" font-size="6.9" text-anchor="middle" fill="#222">#21, 57900 Pts, 52.2°<tspan font-family="DejaVu Sans, sans-serif" font-size="7.6">↑</tspan></text>
<g filter="url(#rough)" stroke="#1f77b4" stroke-linecap="round" fill="none"><path d="M327.0 299.9 L342.3 299.9" stroke-width="10.2"/><path d="M421.7 298.6 Q437.2 303.1 452.7 298.6" stroke-width="9.0"/><path d="M529.7 299.9 L554.2 299.9" stroke-width="11.0"/><path d="M632.9 299.9 L657.1 299.9" stroke-width="8.6"/><path d="M324.9 343.2 L344.8 343.2" stroke-width="8.6"/><path d="M427.3 343.2 L449.3 343.2" stroke-width="11.2"/><path d="M530.4 342.4 Q541.5 345.2 552.7 342.4" stroke-width="9.6"/><path d="M628.6 343.2 L659.7 343.2" stroke-width="8.4"/><path d="M628.6 343.2 L640.0 343.2 M648.3 343.2 L659.7 343.2" stroke-width="9.6"/><path d="M323.1 386.5 L346.8 386.5" stroke-width="8.4"/><path d="M425.6 386.5 L450.7 386.5" stroke-width="10.8"/><path d="M533.2 386.5 L549.8 386.5" stroke-width="11.8"/><path d="M630.8 385.7 Q644.6 388.5 658.4 385.7" stroke-width="9.6"/><path d="M326.7 429.9 L342.2 429.9" stroke-width="9.8"/><path d="M432.3 429.9 L444.7 429.9" stroke-width="10.6"/><path d="M526.7 429.9 L556.6 429.9" stroke-width="8.4"/><path d="M526.7 429.9 L537.5 429.9 M545.8 429.9 L556.6 429.9" stroke-width="9.6"/><path d="M631.6 429.9 L658.6 429.9" stroke-width="9.8"/><path d="M322.7 473.2 L347.6 473.2" stroke-width="9.2"/><path d="M427.9 473.2 L447.2 473.2" stroke-width="9.2"/><path d="M321.3 516.5 L348.8 516.5" stroke-width="8.8"/><path d="M321.3 516.5 L330.7 516.5 M339.4 516.5 L348.8 516.5" stroke-width="10.0"/><path d="M421.7 516.5 L453.9 516.5" stroke-width="9.200000000000001"/><path d="M421.7 516.5 L433.2 516.5 M442.4 516.5 L453.9 516.5" stroke-width="10.4"/></g>
<text x="286.4" y="391.0" font-size="9.5" text-anchor="middle" transform="rotate(-90 286.4 391.0)">(μm)</text>
<text x="331.5" y="555.9" font-size="9.5" text-anchor="middle">(μm)</text>
<text x="436.0" y="555.9" font-size="9.5" text-anchor="middle">(μm)</text>
<rect x="519.10" y="461.10" width="153.40" height="68.50" fill="#fff"/>
<line x1="536.50" y1="461.10" x2="536.50" y2="529.60" stroke="#d9d9d9" stroke-width="0.6"/>
<line x1="566.50" y1="461.10" x2="566.50" y2="529.60" stroke="#d9d9d9" stroke-width="0.6"/>
<line x1="596.50" y1="461.10" x2="596.50" y2="529.60" stroke="#d9d9d9" stroke-width="0.6"/>
<line x1="626.50" y1="461.10" x2="626.50" y2="529.60" stroke="#d9d9d9" stroke-width="0.6"/>
<line x1="656.50" y1="461.10" x2="656.50" y2="529.60" stroke="#d9d9d9" stroke-width="0.6"/>
<line x1="519.10" y1="464.80" x2="672.50" y2="464.80" stroke="#d9d9d9" stroke-width="0.6"/>
<line x1="519.10" y1="494.40" x2="672.50" y2="494.40" stroke="#d9d9d9" stroke-width="0.6"/>
<line x1="519.10" y1="524.00" x2="672.50" y2="524.00" stroke="#d9d9d9" stroke-width="0.6"/>
<clipPath id="cg"><rect x="519.1" y="461.1" width="153.4" height="68.5"/></clipPath>
<g clip-path="url(#cg)">
<path d="M539.5 513 C566 509 612 481 646 477.3" stroke="#555" stroke-width="27.5" stroke-linecap="round" fill="none" filter="url(#rough2)"/>
<path d="M543 495 L648 495" stroke="#1f77b4" stroke-width="37" stroke-linecap="round" fill="none" filter="url(#rough2)"/>
</g>
<path d="M663.4 469.4 Q669.5 477 669 486" stroke="#111" stroke-width="1" fill="none"/>
<polygon points="669.2,488.5 667.2,483.8 670.9,484.2" fill="#111"/>
<rect x="519.1" y="461.1" width="153.39999999999998" height="68.5" fill="none" stroke="#111" stroke-width="1.5"/>
<text x="533.7" y="541.6" font-size="9.5" text-anchor="middle">-1.0</text>
<text x="565.0" y="541.6" font-size="9.5" text-anchor="middle">-0.5</text>
<text x="596.3" y="541.6" font-size="9.5" text-anchor="middle">0.0</text>
<text x="627.6" y="541.6" font-size="9.5" text-anchor="middle">0.5</text>
<text x="658.9" y="541.6" font-size="9.5" text-anchor="middle">1.0</text>
<text x="516.0" y="466.9" font-size="9.5" text-anchor="end">0.5</text>
<text x="516.0" y="497.8" font-size="9.5" text-anchor="end">0.0</text>
<text x="516.0" y="527.4" font-size="9.5" text-anchor="end">-0.5</text>
<text x="589.3" y="556.9" font-size="9.5" text-anchor="middle">(μm)</text>
</g>
<g id="pe">
<text x="7.5" y="579.0" font-size="15.5" font-weight="bold" fill="#000">e</text>
<text x="34.5" y="580.0" font-size="8.6" font-weight="bold" fill="#000">mEos3.2</text>
<text x="120.5" y="598.2" font-size="9.5" text-anchor="middle">Localization of 10882 starting positions</text>
<rect x="43.90" y="607.70" width="146.60" height="64.30" fill="#fff"/>
<line x1="59.60" y1="607.70" x2="59.60" y2="672.00" stroke="#dcdcdc" stroke-width="0.6"/>
<line x1="88.65" y1="607.70" x2="88.65" y2="672.00" stroke="#dcdcdc" stroke-width="0.6"/>
<line x1="117.70" y1="607.70" x2="117.70" y2="672.00" stroke="#dcdcdc" stroke-width="0.6"/>
<line x1="146.75" y1="607.70" x2="146.75" y2="672.00" stroke="#dcdcdc" stroke-width="0.6"/>
<line x1="175.80" y1="607.70" x2="175.80" y2="672.00" stroke="#dcdcdc" stroke-width="0.6"/>
<line x1="43.90" y1="610.20" x2="190.50" y2="610.20" stroke="#dcdcdc" stroke-width="0.6"/>
<line x1="43.90" y1="624.70" x2="190.50" y2="624.70" stroke="#dcdcdc" stroke-width="0.6"/>
<line x1="43.90" y1="639.20" x2="190.50" y2="639.20" stroke="#dcdcdc" stroke-width="0.6"/>
<line x1="43.90" y1="653.70" x2="190.50" y2="653.70" stroke="#dcdcdc" stroke-width="0.6"/>
<line x1="43.90" y1="668.20" x2="190.50" y2="668.20" stroke="#dcdcdc" stroke-width="0.6"/>
<rect x="52.4" y="622.5" width="129.0" height="33.0" rx="26.0" ry="16.5" fill="#35b835" opacity=".5"/>
<path d="M92.4 624.3h0M57.5 640.5h0M55.5 639.3h0M107.7 620.9h0M106.4 652.7h0M78.4 644.4h0M127.6 634.7h0M67.5 622.9h0M160.8 625.6h0M136.2 633.6h0M142.0 636.0h0M128.8 637.0h0M157.8 647.4h0M127.2 640.1h0M148.8 630.1h0M63.8 635.6h0M68.5 638.5h0M140.3 650.1h0M169.1 631.2h0M130.0 642.4h0M87.0 634.2h0M50.5 637.4h0M65.4 628.4h0M167.5 629.7h0M68.4 625.4h0M79.8 638.4h0M98.7 641.8h0M143.4 639.7h0M155.8 654.7h0M101.9 634.8h0M135.6 620.6h0M76.4 624.8h0M61.5 633.3h0M168.9 643.8h0M82.5 632.6h0M112.2 638.3h0M61.6 632.4h0M162.6 624.8h0M179.6 640.2h0M83.7 633.4h0M154.7 640.4h0M93.2 627.4h0M161.1 649.1h0M119.4 632.9h0M98.1 627.3h0M74.7 626.6h0M138.2 651.6h0M151.7 638.1h0M157.1 632.0h0M179.0 648.4h0M159.5 624.1h0M123.7 623.5h0M177.2 636.2h0M162.2 626.9h0M88.1 628.1h0M83.5 635.6h0M173.9 632.9h0M128.5 656.0h0M175.0 639.1h0M71.4 637.9h0M124.8 631.7h0M124.6 650.9h0M125.3 628.4h0M154.7 639.3h0M132.5 639.2h0M143.7 637.0h0M57.5 628.1h0M140.5 650.9h0M68.9 648.1h0M69.8 636.1h0M94.5 626.2h0M134.1 639.5h0M62.0 629.2h0M155.7 629.4h0M83.3 624.3h0M126.7 647.4h0M55.4 646.9h0M94.5 641.2h0M84.6 623.4h0M80.5 622.6h0M89.8 649.9h0M116.9 625.5h0M149.3 641.1h0M113.4 657.3h0M161.2 636.2h0M163.4 634.5h0M163.1 647.7h0M103.7 632.6h0M82.9 624.9h0M86.6 628.2h0M111.3 624.6h0M123.4 628.3h0M90.4 633.0h0M100.4 637.9h0M75.3 639.2h0M84.1 621.8h0M79.8 642.6h0M151.7 645.6h0M169.6 634.4h0M171.4 644.3h0M160.3 623.9h0M117.5 653.1h0M162.3 642.5h0M142.3 647.1h0M134.7 644.3h0M151.4 639.1h0M82.5 621.1h0M148.8 626.6h0M114.0 646.7h0M133.2 645.0h0M67.9 628.7h0M89.7 641.8h0M143.6 646.4h0M119.2 637.5h0M111.2 652.4h0M109.9 629.3h0M67.1 640.0h0M65.8 652.4h0M170.7 647.5h0M172.2 638.4h0M89.4 623.9h0M91.3 653.3h0M151.8 653.2h0M87.7 633.6h0M106.9 629.6h0M61.5 653.1h0M177.4 628.5h0M118.4 626.0h0M123.7 648.2h0M149.2 636.9h0M137.0 630.0h0M95.2 630.5h0M89.2 641.4h0M70.7 624.8h0M173.3 638.9h0M66.8 626.1h0M94.9 621.8h0M83.3 641.9h0M151.6 635.3h0M120.3 633.8h0M64.9 639.1h0M167.3 627.1h0M81.9 634.8h0M171.9 637.9h0M81.9 622.6h0M120.0 646.6h0M147.7 645.2h0M111.0 641.2h0M156.1 627.8h0M137.1 630.8h0M82.4 644.7h0M128.4 634.3h0M170.2 638.0h0M141.2 635.6h0M140.2 656.9h0M142.3 626.3h0M150.1 639.2h0M79.5 627.3h0M73.4 627.4h0M102.1 626.9h0M93.2 625.8h0M100.0 633.7h0M161.6 652.5h0M54.2 637.9h0M160.2 650.2h0M83.1 649.4h0M94.5 629.4h0M133.2 629.0h0M91.4 629.6h0M101.1 628.5h0M116.0 657.0h0M159.0 649.0h0M154.8 643.5h0M91.8 633.2h0M81.8 620.7h0M124.2 631.7h0M146.1 636.8h0M105.3 644.1h0M151.4 653.6h0M64.2 653.3h0M126.2 633.7h0M75.1 628.4h0M92.8 634.6h0M117.9 627.7h0M113.4 652.4h0M167.8 636.9h0M155.5 657.7h0M130.3 644.0h0M98.7 623.9h0M82.8 643.2h0M141.7 625.8h0M75.7 651.4h0M123.9 644.8h0M70.2 647.2h0M86.8 630.9h0M90.8 641.8h0M98.0 626.3h0M106.3 652.5h0M170.1 637.4h0M98.9 639.2h0M86.8 639.9h0M62.5 638.6h0M173.1 644.1h0M69.7 651.0h0M103.6 653.5h0M72.8 627.2h0M119.4 634.1h0M81.7 648.4h0M130.7 641.1h0M90.0 635.6h0M106.6 645.7h0M115.4 627.9h0M155.8 637.2h0M113.2 622.5h0M107.3 621.9h0M160.7 626.1h0M70.4 651.1h0M56.5 632.7h0M69.5 655.7h0M160.8 624.0h0M175.3 626.7h0M117.7 631.4h0M72.7 624.8h0M141.9 655.6h0M156.5 622.8h0M135.8 633.1h0M124.6 642.4h0M102.2 651.5h0M153.7 636.6h0M82.7 644.8h0M128.8 645.9h0M133.0 636.2h0M96.7 622.5h0M78.6 642.5h0M75.8 644.2h0M168.5 650.9h0M125.6 632.7h0M81.9 655.9h0M121.3 635.1h0M55.5 650.7h0M124.0 657.5h0M75.1 643.5h0M136.6 652.2h0M90.4 630.6h0M171.0 650.9h0M112.1 649.2h0M78.8 622.4h0M144.0 653.5h0M84.4 641.3h0M157.0 640.0h0M80.2 649.2h0M151.1 631.7h0M93.1 628.0h0M135.1 647.1h0M144.4 654.0h0M148.1 642.0h0M76.9 644.2h0M174.0 624.1h0M143.7 644.6h0M97.9 652.3h0M76.0 622.7h0M165.2 652.1h0M162.1 644.5h0M75.9 631.4h0M146.9 633.5h0M108.1 650.5h0M145.3 640.6h0M115.6 638.6h0M73.0 638.8h0M163.0 628.9h0M86.8 627.0h0M116.7 622.6h0M156.8 644.4h0M103.2 634.6h0M76.1 629.1h0M117.1 633.9h0M79.9 637.4h0M152.3 649.6h0M95.8 631.7h0M164.6 645.8h0M71.0 636.4h0M127.9 623.3h0M170.4 628.0h0M89.3 647.5h0M68.9 624.6h0M92.8 639.9h0M93.0 625.9h0M61.5 634.1h0M157.9 648.8h0M74.7 644.8h0M76.1 634.3h0M102.9 651.2h0M117.0 644.6h0M67.1 643.4h0M150.4 656.1h0M127.2 649.5h0M79.2 648.3h0M155.0 647.4h0M141.9 644.9h0M90.9 644.4h0M105.7 650.9h0M134.9 628.5h0M110.7 644.1h0M141.3 657.1h0M138.4 650.7h0M122.9 624.8h0M178.1 639.8h0M127.3 640.7h0M118.6 644.8h0M119.9 635.2h0M76.6 646.7h0M105.9 647.3h0M84.3 627.4h0M178.1 640.1h0M158.8 634.5h0M65.4 650.6h0M135.6 637.7h0M136.2 652.4h0M112.5 630.4h0M64.8 653.0h0M165.6 629.2h0M82.6 635.9h0M81.5 630.7h0M107.0 644.8h0M156.4 623.9h0M179.7 645.6h0M155.3 632.6h0M173.1 651.3h0M171.3 643.6h0M164.0 626.3h0M121.2 649.2h0M170.1 641.3h0M80.0 623.9h0M55.5 637.6h0M115.7 638.9h0M112.4 641.6h0M164.2 633.7h0M134.3 632.2h0M98.3 637.9h0M154.5 626.9h0M106.1 641.3h0M88.1 652.8h0M117.4 629.4h0M93.4 631.3h0M128.9 644.7h0M132.0 645.6h0M173.9 643.7h0M134.5 647.2h0M142.1 626.9h0M111.0 650.0h0M174.5 645.5h0M161.7 651.0h0M83.3 630.7h0M91.7 636.1h0M76.9 624.4h0M81.1 648.8h0M166.3 648.6h0M134.8 647.8h0M137.8 652.3h0M90.6 648.6h0M167.1 638.4h0M98.5 642.1h0M141.5 624.1h0M97.9 645.1h0M105.5 634.2h0M145.2 652.8h0M131.0 631.0h0M170.8 633.8h0M106.1 642.6h0M160.2 654.4h0M85.5 653.7h0M142.6 656.4h0M59.2 641.3h0M75.3 649.5h0M79.9 643.5h0M112.1 626.7h0M151.8 651.2h0M79.8 642.3h0M170.4 639.9h0M129.3 625.9h0M72.5 647.4h0M125.9 634.9h0M99.4 622.5h0M156.8 624.6h0M95.3 639.8h0M115.0 641.8h0M155.7 635.9h0M154.0 652.4h0M72.5 621.5h0M124.9 654.6h0M130.5 634.7h0M102.0 636.8h0M67.5 649.7h0M141.5 630.5h0M152.7 622.4h0M83.1 623.2h0M70.8 628.0h0M134.7 637.0h0M161.8 638.1h0M67.2 627.3h0M146.6 641.2h0M168.4 629.2h0M69.0 629.4h0M93.9 625.0h0M91.6 655.9h0M140.3 626.9h0M87.2 628.8h0M159.6 632.3h0M73.2 636.3h0M77.7 642.0h0M72.4 650.4h0M74.7 621.3h0M132.0 638.8h0M76.0 643.7h0M160.2 642.5h0M56.5 648.8h0M94.0 653.4h0M113.6 654.6h0M73.3 652.9h0M70.1 633.6h0M119.1 623.1h0M160.9 654.3h0M146.3 634.0h0M116.2 639.6h0M78.5 625.7h0M82.2 652.3h0M60.8 647.4h0M120.1 647.5h0M168.3 648.1h0M64.5 638.7h0M86.3 623.1h0M66.4 642.9h0M67.9 642.1h0M70.2 652.7h0M101.4 635.7h0M120.5 634.6h0M155.4 632.2h0M94.0 636.3h0M106.1 644.6h0M135.4 652.0h0M84.3 646.5h0M82.2 639.9h0M137.4 623.1h0M180.3 639.6h0M112.2 640.4h0M64.6 623.5h0M103.9 630.1h0M59.6 640.9h0M132.2 641.9h0M75.4 647.8h0M123.6 643.7h0M90.6 628.2h0M118.6 634.1h0M80.6 641.4h0M154.7 624.7h0M168.5 636.5h0M101.3 636.5h0M150.1 624.5h0M96.4 646.4h0M165.5 652.5h0M150.1 649.2h0M113.5 651.0h0M105.5 650.9h0M131.8 633.9h0M111.0 648.4h0M101.7 641.3h0M92.2 651.1h0M116.8 636.6h0M89.7 624.1h0M92.4 653.4h0M125.9 638.9h0M154.9 640.6h0M119.3 639.7h0M101.5 633.0h0M120.4 622.2h0M103.1 641.6h0M108.6 644.2h0M95.1 640.3h0M71.1 631.4h0M162.2 639.5h0M171.7 647.0h0M69.1 630.2h0M117.6 625.9h0M135.0 643.3h0M104.6 651.1h0M164.5 642.6h0M74.7 638.9h0M84.4 645.2h0M120.0 652.6h0M159.5 620.6h0M154.5 631.6h0M96.6 625.1h0M95.9 636.9h0M166.2 631.2h0M160.8 630.8h0M81.2 634.4h0M78.2 631.0h0M114.7 651.3h0M71.5 633.1h0M63.4 640.4h0M103.4 620.7h0M162.2 632.8h0M74.0 629.9h0M69.1 647.6h0M84.9 653.1h0M109.0 653.1h0M69.5 632.8h0M179.6 639.2h0M110.3 623.5h0M98.6 628.3h0M76.9 654.6h0M118.7 640.8h0M154.7 634.2h0M126.3 631.1h0M92.0 645.8h0M125.5 633.2h0M78.9 623.3h0M86.6 634.9h0M65.8 629.6h0M141.9 645.9h0M104.7 645.7h0M81.9 653.6h0M134.8 625.6h0M174.3 648.8h0M74.9 630.7h0M72.4 653.3h0M147.0 628.7h0M142.5 632.7h0M163.4 650.6h0M157.4 626.8h0M102.1 649.4h0M150.1 652.9h0M106.9 639.5h0M65.1 650.0h0M145.1 651.8h0M123.0 628.5h0M97.1 635.3h0M90.6 623.7h0M140.6 628.0h0M119.0 636.7h0M96.3 630.6h0M67.1 641.7h0M160.7 641.0h0M70.9 646.0h0M111.5 650.2h0M63.3 630.2h0M74.8 647.5h0M63.1 631.6h0M97.9 625.1h0M125.7 622.6h0M107.8 626.0h0M82.3 628.3h0M88.6 625.8h0M156.5 652.9h0M92.8 625.8h0M91.9 633.5h0M98.7 652.9h0M161.3 647.6h0M178.7 638.8h0M69.3 630.6h0M58.6 646.9h0M53.0 636.5h0M166.3 651.1h0M86.8 645.8h0M105.9 632.2h0M140.0 652.7h0M70.3 630.4h0M125.7 632.6h0M59.2 631.6h0M132.1 630.5h0M179.8 638.2h0M89.0 632.4h0M99.1 642.4h0M121.1 641.7h0M82.4 638.5h0M78.9 642.1h0M118.7 642.7h0M167.4 641.1h0M101.9 625.2h0M125.7 650.5h0M77.0 630.6h0M106.6 655.3h0M168.6 641.6h0M94.9 650.1h0M162.2 623.2h0M53.4 643.4h0M123.7 651.7h0M176.0 646.4h0M74.2 636.8h0M128.2 622.8h0M62.7 651.6h0M124.4 630.2h0M100.3 624.1h0M122.2 647.0h0M68.4 639.1h0M161.1 646.5h0M113.5 624.6h0M102.1 654.7h0M57.9 631.8h0M171.7 642.7h0M71.0 633.2h0M127.6 634.3h0M85.3 629.5h0M83.8 641.9h0M125.3 650.4h0M155.0 644.6h0M97.8 629.8h0M89.7 650.1h0M118.1 644.7h0M124.0 635.1h0M94.3 631.6h0M114.3 633.4h0M80.0 632.7h0M109.3 641.9h0M90.3 648.5h0M128.5 621.4h0M155.0 636.0h0M56.8 638.3h0M85.7 628.8h0M70.3 629.3h0M77.7 634.8h0M131.2 654.3h0M74.7 648.8h0M169.1 632.3h0M73.6 640.6h0M136.3 656.8h0M92.8 649.5h0M103.7 646.5h0M55.4 635.4h0M134.5 632.0h0M130.5 628.8h0M148.1 631.8h0M122.3 642.7h0M138.8 643.3h0M150.4 628.8h0M153.5 650.6h0M86.1 640.0h0M138.5 650.5h0M55.8 639.1h0M68.2 625.5h0M175.5 624.8h0M155.6 628.2h0M116.8 644.7h0M158.7 637.3h0M56.5 645.1h0M134.6 627.4h0M83.9 636.2h0M75.6 649.9h0M126.6 624.6h0M168.2 629.2h0M161.8 629.9h0M114.9 655.4h0M142.3 643.1h0M127.9 655.1h0M170.2 633.1h0M167.4 625.7h0M59.9 632.3h0M79.6 636.1h0M66.3 636.0h0M142.7 624.2h0M117.0 622.7h0M116.4 656.6h0M149.1 629.5h0M84.2 620.9h0M118.1 635.1h0M138.2 640.8h0M147.2 634.8h0M101.0 635.2h0M99.8 628.1h0M92.5 645.1h0M151.1 653.8h0M134.9 649.2h0M146.4 634.5h0M132.6 646.4h0M134.8 640.8h0M132.5 629.1h0M113.2 648.3h0M113.6 627.3h0M176.3 640.2h0M120.7 652.2h0M71.4 652.5h0M136.4 652.8h0M163.1 652.3h0M68.8 628.6h0M97.0 651.7h0M110.3 621.7h0M113.9 651.5h0M68.2 646.6h0M119.8 628.0h0M94.7 634.0h0M75.3 642.0h0M72.2 648.2h0M92.4 628.2h0M60.1 644.7h0M75.4 635.8h0M133.3 633.6h0M108.9 633.4h0M88.4 635.1h0M160.1 632.8h0M127.8 656.8h0M139.9 631.8h0M152.5 633.9h0M111.6 653.3h0M113.2 655.4h0M115.7 639.5h0M140.6 649.1h0M154.3 650.3h0M146.2 638.3h0M143.5 635.6h0M67.6 632.0h0M83.9 631.1h0M166.8 641.3h0M167.9 651.7h0M83.1 626.5h0M122.0 633.7h0M115.4 642.5h0M158.8 626.4h0M121.5 635.2h0M92.4 629.5h0M87.9 647.8h0M129.7 637.1h0M109.2 654.9h0M107.7 644.8h0M158.7 638.9h0M141.2 630.4h0M76.2 622.2h0M139.0 628.8h0M142.7 624.5h0M88.2 627.8h0M91.7 641.5h0M174.2 631.6h0M68.5 651.6h0M136.5 627.4h0M60.4 637.5h0M107.2 646.5h0M87.8 632.6h0M116.4 657.1h0M114.8 654.3h0M122.6 621.7h0M79.0 656.8h0M178.7 645.6h0M93.7 636.9h0M150.6 625.5h0M60.7 641.2h0M130.2 637.4h0M65.7 642.3h0M99.5 645.9h0M164.5 654.7h0M63.7 638.8h0M63.7 637.6h0M121.8 639.3h0M74.9 635.0h0M65.1 628.1h0M117.1 655.4h0M178.5 638.5h0M126.7 646.9h0M151.7 624.5h0M88.0 655.4h0M127.8 627.8h0M156.4 647.9h0M81.6 643.2h0M160.6 632.4h0M111.6 656.7h0M178.1 635.3h0M141.8 624.4h0M66.9 626.3h0M157.4 638.1h0M135.9 626.4h0M165.0 651.0h0M147.1 632.7h0M173.2 649.3h0M158.9 642.8h0M162.1 650.9h0M156.9 628.6h0M79.7 626.3h0M80.3 638.7h0M142.7 647.8h0M156.4 651.3h0M59.5 645.4h0M94.6 643.0h0M105.6 643.4h0M94.0 627.0h0M164.8 644.0h0M59.6 629.4h0M108.8 645.8h0M64.2 646.7h0M161.8 625.7h0M180.5 633.2h0M171.1 643.6h0M102.2 639.0h0M162.9 624.8h0M110.6 652.0h0M96.4 622.2h0M167.3 639.6h0M58.0 644.2h0M135.2 633.8h0M163.4 646.7h0M109.6 649.5h0M148.7 649.5h0M92.6 623.8h0M151.3 644.9h0M153.4 630.2h0M159.3 646.4h0M86.0 624.8h0M162.2 651.3h0M66.8 639.7h0M69.9 649.0h0M73.4 631.0h0M74.8 631.5h0M62.5 628.9h0M75.8 656.2h0M163.8 644.8h0M91.2 624.4h0M112.8 641.5h0M152.0 629.6h0M174.9 640.2h0M135.0 628.9h0M152.2 646.5h0M159.7 622.7h0M143.6 650.5h0M102.0 651.8h0M73.2 654.6h0M119.8 646.1h0M66.0 632.2h0M104.8 639.1h0M140.2 642.3h0M127.1 629.5h0M157.0 653.2h0M140.7 649.7h0M161.5 645.3h0M65.6 647.6h0M132.5 629.6h0M131.3 652.6h0M77.0 627.4h0M97.4 647.4h0M164.0 631.7h0M134.9 623.8h0M55.6 636.7h0M62.8 627.4h0M94.7 631.9h0M77.7 651.3h0M164.1 652.0h0M117.5 635.8h0M135.0 648.4h0M103.0 639.5h0M66.0 637.1h0M145.9 637.1h0M73.8 634.9h0M74.4 648.9h0M108.4 626.3h0M74.7 629.2h0M147.4 620.6h0M135.0 629.1h0M70.1 644.6h0M110.7 622.3h0M68.8 650.7h0M113.6 652.5h0M62.5 641.7h0M76.5 628.6h0M173.7 647.8h0M100.8 652.1h0M128.8 633.9h0M162.8 651.0h0M57.3 631.6h0M170.5 638.4h0M76.0 628.2h0M100.6 622.4h0M64.9 626.4h0M128.8 644.7h0M54.9 637.8h0M140.9 648.0h0M137.7 647.1h0M79.2 634.5h0M161.9 644.6h0M80.8 657.1h0M175.2 629.0h0M159.6 624.8h0M124.7 652.5h0M133.6 643.0h0M87.8 634.7h0M160.2 637.2h0M137.8 626.7h0M165.5 653.6h0M98.5 630.7h0M67.9 643.5h0M63.2 647.1h0M119.7 637.1h0M132.3 645.2h0M149.2 651.5h0M163.8 648.1h0M142.0 653.7h0M108.8 647.7h0M89.2 632.6h0M60.6 636.6h0M85.5 628.5h0M175.4 631.8h0M91.0 644.3h0M121.2 645.3h0M177.8 635.1h0M76.9 630.1h0M142.9 647.0h0M152.1 628.4h0M129.6 645.6h0M144.0 630.8h0M154.4 625.5h0M89.5 635.2h0M109.2 648.6h0M177.0 632.4h0M166.2 651.7h0M129.0 645.8h0M100.6 645.4h0M78.4 620.7h0M97.9 648.4h0M156.9 628.6h0M120.1 622.7h0M158.0 630.0h0M153.7 627.4h0M77.8 634.1h0M136.6 637.8h0M63.5 637.3h0M71.6 627.7h0M120.4 628.1h0M167.6 626.9h0M91.6 626.6h0M114.3 625.6h0M138.2 639.6h0M112.8 649.1h0M79.9 639.0h0M137.9 624.1h0M98.5 655.9h0M78.9 643.1h0M58.8 627.1h0M108.4 623.9h0M151.5 642.5h0M103.3 646.5h0M163.3 626.5h0M110.9 627.5h0M92.1 635.1h0M69.9 652.8h0M131.8 628.8h0M125.5 647.9h0M68.1 623.8h0M128.2 655.2h0M80.0 625.0h0M110.3 635.2h0M139.4 654.1h0M121.0 653.7h0M138.2 639.5h0M81.3 645.6h0M126.7 625.6h0M82.9 627.9h0M120.2 646.5h0M150.4 644.2h0M140.8 651.6h0M113.5 646.5h0M137.4 625.6h0M156.6 627.8h0M149.6 633.1h0M154.0 623.4h0M77.3 629.2h0M66.3 635.1h0M58.2 642.5h0M127.6 632.9h0M108.2 625.4h0M163.5 645.0h0M153.9 630.6h0M161.6 643.2h0M169.0 642.7h0M85.3 620.9h0M71.5 647.2h0M79.4 629.1h0M94.0 639.9h0M105.4 638.1h0M60.1 644.2h0M84.0 651.3h0M94.9 638.7h0M176.5 641.5h0M68.8 647.1h0M147.1 627.6h0M74.0 647.7h0M157.4 627.7h0M139.6 641.7h0M74.2 642.5h0M135.5 628.1h0M106.3 640.4h0M87.8 644.9h0M132.8 655.9h0M90.6 645.8h0M69.3 627.5h0M162.4 648.1h0M157.8 631.0h0M111.6 626.3h0M117.8 639.9h0M147.0 640.2h0M114.6 628.6h0M78.2 631.4h0M146.4 650.4h0M133.4 622.4h0M135.9 629.7h0M112.2 644.0h0M108.2 621.6h0M87.4 650.3h0M121.3 653.0h0M71.5 650.1h0M94.4 623.2h0M87.5 637.5h0M149.4 623.4h0M94.5 628.4h0M166.2 631.5h0M150.9 632.3h0M105.6 652.5h0M92.9 653.6h0M84.4 633.4h0M96.5 633.9h0M79.0 656.2h0M160.4 628.6h0M100.3 653.3h0M122.3 632.1h0M95.4 653.4h0M150.9 646.4h0M110.7 632.3h0M156.1 654.5h0M94.7 628.5h0M79.0 621.0h0M150.4 626.3h0M103.3 651.7h0M90.5 644.6h0M90.7 654.7h0M62.1 642.7h0M119.5 638.3h0M169.8 646.0h0M97.8 633.3h0M147.1 636.0h0M120.2 652.5h0M97.0 627.3h0M158.8 627.2h0M146.1 657.1h0M89.3 631.8h0M73.4 641.0h0M140.3 624.0h0M153.0 654.5h0M175.8 626.7h0M125.2 624.0h0M159.1 635.8h0M83.4 629.6h0M118.7 637.7h0M151.4 628.0h0M119.2 625.4h0M147.6 649.5h0M146.2 629.4h0M108.9 621.6h0M158.2 646.5h0M111.3 644.8h0M94.1 650.2h0M75.0 624.8h0M133.3 630.7h0M77.8 621.6h0M91.3 639.2h0M114.1 636.5h0M74.9 642.9h0M106.5 632.8h0M101.9 624.4h0M148.7 632.9h0M175.3 634.9h0M88.9 641.3h0M98.3 653.8h0M129.4 646.4h0M178.7 641.1h0M114.1 638.8h0M171.8 632.7h0M176.6 644.8h0M93.6 634.3h0M156.6 628.9h0M101.3 633.2h0M122.3 629.6h0M161.6 624.7h0M159.4 624.2h0M124.0 656.7h0M176.0 636.2h0M151.4 654.1h0M145.9 644.5h0M69.9 625.6h0M82.6 627.8h0M72.4 624.4h0M157.3 642.2h0M169.9 643.2h0M174.6 641.6h0M71.7 634.1h0M105.0 646.1h0M148.6 635.2h0M91.4 633.8h0M91.6 649.8h0M132.3 624.7h0M115.3 629.6h0M68.1 650.0h0M173.5 642.6h0M61.7 629.6h0M168.5 636.6h0M83.1 648.7h0M61.0 638.7h0M77.2 645.5h0M159.8 649.9h0M167.4 634.9h0M113.1 623.0h0M67.5 646.5h0M65.6 644.7h0M82.0 652.2h0M112.6 648.2h0M95.1 657.2h0M66.4 652.2h0M73.2 639.0h0M156.6 628.5h0M121.5 653.9h0M142.2 649.3h0M111.8 652.6h0M124.4 635.0h0M66.5 637.8h0M84.6 633.4h0M153.3 642.8h0M170.6 633.4h0M64.6 629.9h0M122.9 654.2h0M97.5 643.4h0M76.0 639.3h0M163.7 646.1h0M172.9 642.8h0M84.6 655.0h0M85.0 624.2h0M69.8 648.5h0M97.3 655.8h0M67.1 624.6h0M129.2 651.6h0M117.3 642.1h0M104.8 640.8h0M55.5 635.8h0M152.6 628.2h0M81.0 621.9h0M101.3 632.1h0M78.3 646.1h0M110.3 639.1h0M131.4 625.6h0M58.8 631.9h0M137.6 635.8h0M68.9 630.8h0M173.9 647.7h0M165.2 645.2h0M147.0 639.4h0M140.5 636.2h0M78.4 634.7h0M59.6 646.9h0M94.0 629.2h0M78.3 634.8h0M107.3 624.5h0M61.3 639.1h0M74.4 646.1h0M159.8 630.3h0M160.6 637.9h0M114.6 623.3h0M144.3 642.3h0M63.1 631.5h0M128.4 648.4h0M144.1 633.4h0M167.6 644.7h0M168.6 648.1h0M100.3 646.2h0M156.7 654.3h0M126.1 626.3h0M114.5 632.2h0M118.4 642.7h0M86.0 639.1h0M105.6 645.9h0M121.3 629.6h0M145.2 650.8h0M99.5 630.2h0M145.9 652.4h0M149.0 626.9h0M97.2 630.9h0M152.3 648.8h0M79.9 650.9h0M141.4 644.7h0M79.3 632.2h0M158.0 649.0h0M98.7 629.3h0M168.0 636.4h0M69.3 629.8h0M165.9 631.9h0M171.2 635.9h0M154.8 633.7h0M172.9 636.5h0M130.1 628.7h0M101.6 633.9h0M99.1 650.0h0M141.9 644.2h0M88.2 626.4h0M173.8 627.8h0M127.3 631.5h0M92.6 645.1h0M118.3 623.1h0M90.7 635.5h0M80.8 654.0h0M129.0 633.8h0M158.1 652.0h0M155.3 638.1h0M55.0 634.0h0M134.3 650.7h0M123.6 634.3h0M61.9 628.9h0M111.6 626.9h0M107.5 639.3h0M145.0 639.7h0M70.9 639.4h0M99.1 654.2h0M169.4 633.0h0M132.9 641.7h0M63.3 645.6h0M92.9 631.8h0M94.5 635.5h0M97.6 634.9h0M139.5 645.9h0M103.8 627.8h0M111.0 652.9h0M116.5 637.8h0M71.4 645.1h0M83.4 645.1h0M132.6 625.2h0M91.0 641.1h0M114.6 643.9h0M90.3 646.5h0M133.1 650.8h0M78.3 636.6h0M126.2 649.6h0M138.1 622.5h0M148.6 629.2h0M72.0 652.8h0M162.8 646.9h0M167.3 626.5h0M64.2 624.7h0M158.0 629.8h0M160.1 648.8h0M132.5 654.2h0M144.6 637.5h0M110.8 626.3h0M86.5 649.3h0M81.8 647.2h0M78.5 627.1h0M98.6 639.4h0M169.2 633.0h0M95.7 648.8h0M103.8 640.0h0M175.1 637.8h0M156.8 626.3h0M96.5 652.1h0M85.8 644.7h0M99.8 642.3h0M82.7 652.9h0M131.0 644.3h0M155.4 630.3h0M156.7 646.5h0M108.1 646.3h0M73.7 622.2h0M118.2 624.3h0M167.9 634.3h0M72.8 642.3h0M113.4 640.6h0M117.4 653.1h0M176.7 626.4h0M154.1 641.9h0M77.6 650.8h0M148.4 627.6h0M137.5 633.6h0M56.5 645.0h0M68.7 641.1h0M54.4 628.4h0M82.2 630.6h0M99.0 651.1h0M63.3 627.4h0M176.8 634.5h0M108.7 636.4h0M162.9 638.0h0M103.9 655.4h0M139.3 641.5h0M127.3 628.3h0M134.6 644.5h0M112.7 623.5h0M146.5 648.6h0M136.7 645.6h0M130.4 632.1h0M140.6 630.1h0M89.9 640.9h0M63.5 648.7h0M98.6 625.5h0M117.1 635.4h0M120.1 630.6h0M100.7 636.3h0M163.1 634.5h0M86.2 622.6h0M109.8 654.7h0M108.6 650.0h0M68.6 639.8h0M125.4 635.5h0M109.2 656.5h0M128.9 647.8h0M65.0 637.9h0M68.4 627.3h0M66.4 652.5h0M82.4 628.1h0M53.9 649.2h0M178.7 635.1h0M167.4 622.2h0M143.8 642.7h0M86.0 638.9h0M108.2 629.8h0M89.0 629.5h0M79.2 622.8h0M117.4 648.2h0M104.7 655.5h0M132.5 626.6h0M137.4 652.0h0M83.4 643.9h0M111.7 648.0h0M139.2 622.4h0M137.7 646.9h0M106.5 633.7h0M150.3 645.3h0M126.6 639.6h0M80.9 649.2h0M84.6 651.1h0M90.8 633.5h0M164.5 653.5h0M71.1 624.5h0M76.9 632.1h0M68.9 648.1h0M165.3 631.8h0M89.5 629.2h0M146.1 642.4h0M81.6 630.0h0M64.7 653.6h0M146.2 652.0h0M123.8 652.1h0M122.4 629.2h0M74.0 647.7h0M155.7 644.4h0M61.6 632.0h0M176.9 645.1h0M111.6 649.9h0M62.7 644.0h0M81.9 646.7h0M109.3 651.3h0M58.0 637.0h0M114.2 635.3h0M104.9 653.7h0M128.9 628.0h0M115.7 634.6h0M117.6 631.6h0M106.2 653.1h0M83.8 644.1h0M122.8 633.8h0M158.6 643.1h0M139.8 629.6h0M162.2 655.6h0M127.6 633.9h0M153.2 643.9h0M174.4 641.8h0M113.8 644.6h0M145.4 657.8h0M91.9 654.8h0M158.6 628.0h0M78.9 647.6h0M131.6 631.7h0M81.8 639.7h0M95.5 651.7h0M125.0 650.5h0M102.6 641.0h0M56.3 631.8h0M66.0 630.8h0M128.1 623.1h0M117.9 624.0h0M161.5 627.1h0M160.0 627.6h0M168.0 652.7h0M153.9 650.5h0M142.4 646.7h0M126.2 629.6h0M122.8 623.7h0M171.0 628.2h0M141.0 623.1h0M153.9 630.9h0M86.6 650.4h0M160.7 624.7h0M95.9 655.0h0M57.6 649.6h0M140.2 621.5h0M139.6 654.7h0M81.0 651.1h0M156.4 640.3h0M65.1 634.2h0M86.6 649.0h0M92.6 629.9h0M136.1 638.2h0M126.2 654.2h0M83.4 622.3h0M154.2 624.6h0M164.1 655.5h0M64.6 644.7h0M175.7 645.7h0M119.0 630.1h0M176.2 638.1h0M168.7 635.4h0M99.4 652.8h0M152.0 637.7h0M74.7 651.6h0M99.6 635.4h0M98.2 622.5h0M119.5 642.5h0M105.5 625.2h0M129.5 640.8h0M82.2 631.2h0M95.5 650.9h0M80.3 650.8h0M122.1 640.4h0M56.6 646.0h0M138.4 627.4h0M134.3 629.7h0M79.8 625.8h0M160.8 637.0h0M95.7 651.9h0M138.3 634.5h0M121.4 644.8h0M93.9 627.7h0M156.2 648.2h0M79.7 647.6h0M147.9 632.7h0M127.1 652.2h0M101.4 650.3h0M76.3 650.9h0M152.4 638.6h0M154.6 627.2h0M153.6 644.7h0M149.3 646.1h0M121.8 643.1h0M74.9 631.1h0M60.7 632.6h0M127.7 625.3h0M63.6 649.6h0M60.8 628.6h0M86.8 649.5h0M125.4 628.7h0M92.0 626.3h0M85.3 626.9h0M98.4 623.0h0M82.2 642.3h0M89.8 640.1h0M148.0 632.4h0M157.4 641.6h0M93.2 623.6h0M80.5 640.5h0M96.1 638.9h0M74.1 644.3h0M68.1 640.2h0M167.1 623.3h0M153.7 637.7h0M94.4 634.7h0M75.2 640.9h0M151.6 643.2h0M147.9 631.3h0M104.5 649.5h0M177.1 634.1h0M112.9 652.1h0M148.5 643.4h0M175.8 636.4h0M160.6 629.6h0M175.7 629.4h0M76.6 624.2h0M139.8 642.5h0M104.9 657.8h0M115.9 638.6h0M118.6 651.7h0M169.2 635.6h0M80.6 637.3h0M126.6 655.4h0M64.6 635.6h0M175.4 638.3h0M144.4 648.7h0M89.3 648.6h0M124.5 643.0h0M70.7 632.5h0M151.0 645.2h0M119.1 641.6h0M137.5 645.6h0M116.1 649.8h0M65.3 635.9h0M107.5 641.6h0M101.8 635.9h0M147.7 634.6h0M129.7 633.4h0M87.1 637.5h0M80.9 628.7h0M158.1 637.7h0M79.9 651.5h0M105.9 628.5h0M148.9 623.1h0M95.0 642.1h0M108.5 652.2h0M147.5 631.9h0M62.8 635.2h0M136.1 632.4h0M64.7 641.5h0M89.9 644.0h0M119.0 628.7h0M85.7 650.9h0M83.8 636.4h0M70.4 626.1h0M77.1 632.0h0M153.0 635.0h0M102.5 650.5h0M106.5 656.7h0M100.4 629.4h0M170.5 633.1h0M111.4 640.1h0M72.0 632.1h0M107.6 620.9h0M76.8 652.6h0M92.8 628.4h0M86.3 632.5h0M157.0 647.3h0M138.3 622.8h0M70.2 628.8h0M161.7 642.6h0M83.0 653.6h0M138.2 633.0h0M88.7 622.2h0M142.2 629.8h0M132.5 632.7h0M108.0 657.1h0M70.3 644.4h0M118.4 625.5h0M62.8 625.3h0M118.8 638.0h0M148.5 655.5h0M91.6 624.0h0M156.1 623.4h0M165.7 646.9h0M142.8 651.3h0M69.0 645.7h0M66.0 624.9h0M65.0 634.2h0M124.1 635.0h0M59.6 631.9h0M121.9 651.1h0M63.7 628.7h0M169.0 631.5h0M158.0 651.4h0M91.5 624.1h0M143.8 633.6h0M68.8 652.9h0M160.3 632.3h0M118.7 649.3h0M96.5 647.1h0M167.1 649.9h0M97.8 629.5h0M158.7 630.8h0M160.0 640.2h0M122.4 635.2h0M66.7 646.2h0M159.5 647.1h0M155.7 624.4h0M154.5 624.6h0M172.6 649.4h0M114.0 629.7h0M156.2 646.6h0M149.1 638.4h0M98.0 655.0h0M110.0 641.6h0M121.0 658.3h0M172.1 648.0h0M165.5 624.3h0M146.6 652.6h0M92.1 629.0h0M125.1 636.7h0M131.2 632.6h0M64.9 635.7h0M55.3 640.2h0M141.1 641.6h0M89.1 648.9h0M146.7 637.8h0M133.1 625.8h0M115.3 625.4h0M94.4 656.2h0M89.8 625.4h0M129.3 652.7h0M122.9 648.8h0M84.1 641.5h0M169.3 628.8h0M82.8 633.4h0M80.3 647.8h0M144.2 632.6h0M111.2 651.4h0M176.2 640.4h0M140.5 653.4h0M125.1 653.6h0M127.3 624.1h0M108.5 625.8h0M129.6 636.0h0M60.2 648.0h0M82.9 651.9h0M169.9 625.3h0M152.2 643.2h0M57.8 647.2h0M78.4 636.4h0M92.5 631.3h0M70.0 634.9h0M92.4 651.4h0M61.5 644.3h0M140.5 633.6h0M132.4 649.8h0M113.1 646.8h0M106.2 625.8h0M124.8 631.8h0M135.0 649.0h0M177.9 636.3h0M167.9 626.5h0M113.6 649.3h0M176.6 646.1h0M75.5 654.0h0M122.7 629.0h0M170.0 639.0h0M89.0 643.6h0M62.6 650.7h0M120.3 635.7h0M149.7 647.4h0M135.1 631.1h0M175.4 640.3h0M94.7 632.7h0M148.3 652.0h0M157.5 623.1h0M119.1 627.9h0M64.1 631.6h0M158.8 642.4h0M58.8 649.5h0M92.5 632.3h0M55.8 636.3h0M119.7 650.2h0M104.9 649.3h0M170.8 631.0h0M149.9 642.1h0M126.2 621.2h0M90.7 623.2h0M147.0 648.7h0M76.0 648.3h0M133.5 627.6h0M102.3 629.3h0M167.6 644.6h0M71.3 629.1h0M136.0 642.6h0M157.5 623.3h0M78.3 645.6h0M50.2 638.8h0M83.4 634.1h0M92.5 635.4h0M150.0 638.7h0M79.8 655.8h0M75.9 652.4h0M64.4 639.0h0M63.7 631.4h0M141.0 644.4h0M99.9 620.9h0M58.0 650.3h0M95.5 626.4h0M161.2 653.0h0M141.0 627.8h0M61.3 651.5h0M66.3 629.7h0M136.0 640.0h0M152.0 626.8h0M70.9 628.2h0M58.1 632.7h0M138.6 621.7h0M129.6 640.2h0M60.5 641.8h0M58.6 650.5h0M129.3 640.2h0M178.9 634.6h0M122.5 653.3h0M154.4 640.6h0M153.0 627.1h0M108.5 627.7h0M78.1 647.8h0M106.7 647.7h0M84.1 646.1h0M178.1 636.8h0M90.3 622.4h0M95.8 639.0h0M101.4 623.6h0M96.3 631.4h0M116.0 651.4h0M65.8 626.7h0M102.9 634.2h0M108.5 642.2h0M136.6 643.0h0M121.7 642.4h0M151.0 633.7h0M86.8 656.6h0M85.7 655.5h0M85.1 638.5h0M63.5 626.8h0M57.8 635.4h0M146.5 651.3h0M171.1 633.0h0M113.0 655.4h0M83.2 624.3h0M127.2 654.3h0M114.2 637.7h0M118.1 643.6h0M180.0 643.0h0M168.6 624.9h0M66.4 639.5h0M111.4 637.7h0M147.2 640.6h0M109.9 628.8h0M62.0 637.2h0M156.6 625.8h0M60.6 649.5h0M79.0 620.0h0M58.0 634.3h0M96.7 648.1h0M119.1 640.7h0M128.0 636.7h0M162.8 647.0h0M153.3 637.9h0M130.7 623.0h0M65.4 643.6h0M172.0 641.6h0M154.6 639.7h0M78.3 645.4h0M62.3 628.5h0M123.4 633.0h0M128.2 628.0h0M166.3 633.5h0M72.6 642.4h0M113.2 647.9h0M118.0 631.2h0M161.5 637.6h0M87.5 628.8h0M121.4 627.4h0M116.8 632.9h0M94.2 636.5h0M69.7 633.3h0M142.0 642.6h0M77.6 628.8h0M136.4 642.1h0M119.3 629.8h0M177.6 638.5h0M96.6 626.3h0M118.2 638.0h0M153.4 621.7h0M144.8 643.1h0M163.5 643.3h0M70.3 647.7h0M167.7 645.1h0M59.6 637.5h0M94.9 624.0h0M72.7 631.9h0M177.5 638.7h0M145.3 625.3h0M122.4 655.9h0M92.8 645.8h0M111.4 629.6h0M146.7 627.6h0M114.7 645.6h0M154.7 630.8h0M115.0 654.5h0M114.4 645.9h0M72.8 647.2h0M90.5 653.8h0M118.4 647.8h0M100.8 641.2h0M173.6 645.5h0M166.3 629.9h0M137.9 643.4h0M84.6 653.0h0M152.6 653.3h0M104.5 633.2h0M169.1 646.8h0M123.2 655.0h0M97.1 646.8h0M116.5 628.9h0M140.6 632.3h0M118.9 622.4h0M57.8 639.1h0M153.4 633.3h0M137.2 634.3h0M132.0 640.1h0M171.8 631.7h0M155.6 645.2h0M98.0 637.9h0M74.5 644.7h0M125.4 649.0h0M123.5 652.6h0M134.8 646.1h0M94.4 631.7h0M156.0 630.2h0M101.4 653.9h0M135.0 636.5h0M113.9 623.9h0M117.8 651.5h0M67.7 628.9h0M152.4 636.3h0M103.3 639.9h0M123.7 632.8h0M176.3 630.6h0M91.5 640.4h0M140.5 635.3h0M87.9 637.2h0M147.3 645.4h0M73.0 625.7h0M94.8 656.1h0M81.6 625.7h0M142.2 642.3h0M160.0 646.4h0M131.9 645.6h0M60.1 633.3h0M99.3 644.8h0M155.0 654.3h0M99.1 639.5h0M76.6 623.4h0M168.9 643.9h0M108.0 635.8h0M123.6 629.5h0M168.4 642.1h0M88.3 642.2h0M162.9 626.8h0M124.5 631.7h0M115.1 640.0h0M75.6 625.8h0M158.9 627.8h0M116.5 622.7h0M178.1 634.4h0M105.8 639.2h0M170.1 642.3h0M86.9 625.9h0M164.3 633.9h0M124.2 626.4h0M149.6 624.8h0M138.2 643.7h0M139.2 639.9h0M77.5 635.1h0M128.1 627.2h0M71.5 647.0h0M142.3 634.7h0M162.1 650.1h0M141.8 653.3h0M110.6 634.6h0M138.4 640.7h0M60.9 653.4h0M170.0 627.5h0M152.2 646.5h0M130.3 641.2h0M118.0 640.7h0M104.6 647.0h0M122.9 632.8h0M60.2 640.6h0M167.8 625.7h0M159.6 638.2h0M73.4 632.1h0M148.4 636.8h0M167.9 634.5h0M78.5 638.3h0M97.7 645.8h0M165.7 639.7h0M85.2 639.5h0M90.0 656.0h0M79.8 643.1h0M119.7 645.2h0M123.6 631.0h0M72.8 625.8h0M86.7 637.6h0M125.2 649.3h0M86.0 644.0h0M113.3 640.3h0M70.8 653.2h0M90.9 653.7h0M98.4 658.0h0M153.3 624.8h0M59.1 637.8h0M150.1 638.7h0M164.6 625.2h0M171.8 641.7h0M71.0 631.5h0M74.7 643.8h0M154.1 642.1h0M135.3 628.0h0M103.8 648.3h0M66.9 630.6h0M146.7 631.8h0M113.7 649.5h0M118.3 628.9h0M83.5 626.7h0M171.8 633.3h0M149.6 629.3h0M63.0 639.8h0M140.6 630.2h0M170.4 630.8h0M167.0 655.0h0M163.7 628.4h0M142.8 637.6h0M127.1 648.9h0M103.0 638.9h0M77.4 629.0h0M165.0 647.3h0M118.3 642.1h0M76.0 637.6h0M82.8 652.6h0M158.4 651.5h0M142.0 622.6h0M74.1 647.9h0M156.8 642.4h0M94.6 623.4h0M150.2 641.6h0M80.9 638.0h0M53.6 636.9h0M157.9 631.2h0M90.5 635.7h0M138.0 655.1h0M117.8 653.7h0M130.5 651.0h0M84.8 643.5h0M110.8 640.6h0M171.2 629.9h0M82.1 639.1h0M82.7 637.9h0M68.9 623.2h0M158.6 654.9h0M159.2 653.4h0M89.1 652.4h0M174.6 649.7h0M60.5 645.1h0M140.0 646.2h0M113.6 626.9h0M135.1 647.0h0M119.0 642.8h0M152.4 640.4h0M119.2 627.0h0M119.8 654.6h0M76.5 639.3h0M127.9 637.3h0M143.1 655.0h0M156.4 646.6h0M83.4 631.2h0M115.7 630.4h0M149.4 633.6h0M159.1 631.4h0M159.5 635.5h0M111.9 648.6h0M174.8 650.2h0M94.7 625.4h0M65.7 645.4h0M81.7 646.8h0M169.5 630.3h0M144.2 624.1h0M138.2 641.0h0M86.8 635.8h0M67.5 642.9h0M151.5 625.5h0M52.9 641.2h0M73.6 625.3h0M157.2 630.0h0M69.6 623.9h0M123.0 651.5h0M117.9 650.1h0M86.2 626.9h0M145.1 624.5h0M52.8 637.6h0M153.7 648.2h0M172.1 633.2h0M119.1 650.3h0M52.0 641.0h0M94.0 634.6h0M90.8 649.4h0M110.8 653.5h0M119.1 649.3h0M101.2 625.1h0M132.1 645.4h0M63.1 642.0h0M171.1 645.9h0M126.6 649.6h0M148.4 646.0h0M115.1 650.3h0M57.7 635.6h0M177.9 632.4h0M67.6 627.2h0M179.9 635.9h0M65.8 652.0h0M89.1 640.1h0M103.7 621.9h0M122.4 633.0h0M145.7 643.4h0M108.1 640.1h0M125.8 621.8h0M152.1 652.1h0M100.4 647.9h0M71.7 632.8h0M137.5 650.6h0M59.0 640.0h0M142.9 625.5h0M105.5 637.6h0M57.8 629.7h0M172.4 633.2h0M146.3 636.8h0M125.8 631.1h0M53.3 644.7h0M105.8 640.8h0M180.3 640.1h0M74.9 651.1h0M144.0 641.1h0M111.2 620.6h0M79.1 627.1h0M128.3 638.5h0M164.9 652.0h0M115.8 639.0h0M63.7 627.4h0M115.7 637.0h0M176.8 635.0h0M62.0 649.6h0M70.7 654.8h0M74.2 638.0h0M66.7 629.2h0M94.1 657.0h0M80.5 631.0h0M61.6 646.3h0M114.6 627.2h0M81.2 648.9h0M65.5 630.0h0M82.8 626.0h0M130.1 639.8h0M121.0 631.2h0M66.8 649.4h0M164.0 646.1h0M128.0 643.0h0M159.0 632.2h0M131.8 649.3h0M110.1 623.2h0M84.2 629.0h0M133.3 649.4h0M108.1 637.0h0M97.1 650.7h0M88.8 647.9h0M92.0 649.9h0M85.5 633.9h0M120.7 630.4h0M135.1 648.1h0M102.5 654.0h0M120.1 627.6h0M118.0 640.6h0M120.2 650.9h0M122.4 641.9h0M94.9 643.5h0M100.4 646.6h0M98.7 640.1h0M164.0 629.3h0M102.0 645.4h0M129.0 637.3h0M81.7 632.2h0M71.6 638.4h0M125.9 646.9h0M151.7 644.2h0M138.7 638.3h0M79.4 645.3h0M162.1 636.7h0M116.6 633.6h0M143.6 644.3h0M88.2 642.3h0M78.7 625.2h0M86.9 646.3h0M90.5 623.6h0M97.9 648.5h0M65.8 643.6h0M170.4 623.9h0M172.8 647.3h0M56.8 644.0h0M149.8 651.4h0M133.7 633.4h0M108.9 631.1h0M103.1 635.7h0M121.3 634.3h0M120.6 632.9h0M141.0 646.3h0M113.8 641.6h0M116.1 638.0h0M149.7 648.9h0M155.3 633.8h0M155.5 634.0h0M107.6 643.4h0M123.2 657.0h0M171.3 642.0h0M147.9 648.2h0M169.3 648.3h0M116.8 639.6h0M115.4 637.2h0M72.1 650.4h0M130.4 641.6h0M89.2 646.5h0M156.2 638.7h0M171.9 640.0h0M162.8 655.4h0M163.0 633.2h0M98.3 632.4h0M157.3 641.5h0M89.0 650.1h0M100.5 639.0h0M82.2 653.8h0M109.6 644.9h0M73.1 640.8h0M83.9 649.1h0M150.6 649.5h0M128.0 646.8h0M133.1 635.1h0M171.9 643.0h0M134.1 635.3h0M90.6 628.6h0M62.2 629.2h0M99.3 644.9h0M140.5 624.3h0M128.0 648.4h0M54.1 646.1h0M176.1 647.0h0M104.3 620.3h0M152.1 644.8h0M118.4 645.5h0M102.7 653.1h0M103.8 646.5h0M95.3 636.2h0M76.6 632.9h0M73.5 638.1h0M127.8 650.5h0M115.0 625.9h0M141.6 627.3h0M89.5 631.8h0M168.9 651.2h0M111.0 626.5h0M74.6 653.5h0M118.8 651.6h0M150.8 629.0h0M147.6 638.7h0M58.2 641.3h0M112.7 651.2h0M122.0 642.6h0M161.1 647.6h0M82.6 639.2h0M109.7 624.7h0M124.7 649.1h0M134.0 656.4h0M93.7 624.9h0M71.6 640.7h0M82.6 621.8h0M68.4 634.8h0M111.8 624.9h0M169.1 631.6h0M152.6 638.3h0M67.9 648.3h0M118.5 653.6h0M107.7 622.4h0M130.2 629.9h0M143.5 648.6h0M74.3 622.0h0M106.9 625.7h0M131.8 654.2h0M143.0 645.2h0M160.3 644.3h0M114.9 639.2h0M151.6 640.9h0M78.1 645.3h0M136.8 632.6h0M161.8 653.3h0M109.5 640.5h0M176.1 643.5h0M139.0 626.2h0M142.8 624.9h0M158.8 637.9h0M177.8 647.2h0M99.2 647.6h0M70.6 637.2h0M77.0 657.3h0M135.1 645.0h0M134.6 641.1h0M73.1 638.0h0M133.3 628.2h0M118.7 636.1h0M88.0 637.0h0M74.8 631.3h0M91.6 639.9h0M117.7 653.6h0M140.9 623.5h0M103.9 641.3h0M63.9 632.1h0M150.0 650.9h0M72.5 637.4h0M71.7 632.7h0M111.5 640.2h0M60.7 643.1h0M152.4 648.0h0M68.5 650.1h0M125.7 649.3h0M81.4 647.0h0M84.4 655.9h0M170.3 650.8h0M111.1 642.7h0M105.3 655.8h0M119.8 624.1h0M133.6 634.6h0M123.3 646.7h0M165.5 623.7h0M99.9 646.2h0M86.0 631.8h0M140.6 642.9h0M100.4 635.0h0M108.9 648.0h0M74.3 652.2h0M130.8 620.3h0M87.3 655.0h0M83.1 634.9h0M145.9 630.0h0M117.4 628.0h0M151.3 639.2h0M95.9 642.0h0M101.3 641.5h0M72.8 654.7h0M123.2 635.2h0M170.2 631.4h0M75.2 654.9h0M152.2 634.4h0M143.3 641.9h0M69.7 632.4h0M173.5 637.6h0M62.6 644.9h0M143.8 630.5h0M84.8 648.4h0M174.3 635.4h0M159.8 628.8h0M115.4 636.7h0M78.9 649.4h0M170.0 651.9h0M68.2 642.4h0M100.5 637.5h0M71.2 646.0h0M78.4 629.8h0M115.6 655.9h0M127.2 644.2h0M96.8 636.7h0M155.4 638.2h0M97.1 652.3h0M101.7 644.8h0M137.5 646.8h0M105.4 654.0h0M121.1 632.5h0M101.7 632.5h0M112.3 633.4h0M98.4 646.6h0M122.8 629.3h0M94.8 641.1h0M143.8 652.6h0M133.4 623.9h0M136.4 645.2h0M153.5 640.1h0M164.1 647.2h0M107.8 639.0h0M112.2 651.8h0M103.0 628.5h0M96.6 643.5h0M104.5 622.8h0M163.5 637.7h0M113.2 642.1h0M137.2 644.8h0M60.4 630.4h0M87.7 627.0h0M159.6 629.6h0M160.5 651.4h0M128.9 653.7h0M131.4 635.9h0M121.6 632.8h0M112.9 625.9h0M163.4 645.5h0M103.7 650.2h0M117.7 646.7h0M70.5 643.3h0M151.4 654.7h0M147.5 633.9h0M144.5 635.2h0M108.3 637.6h0M170.8 624.1h0M129.5 628.1h0M75.2 648.4h0M142.8 623.6h0M138.5 652.7h0M139.9 644.6h0M110.7 656.6h0M69.0 638.7h0M101.3 651.0h0M162.7 627.8h0M85.5 635.2h0M81.7 652.6h0M108.6 649.1h0M83.7 634.9h0M102.1 649.6h0M73.1 640.6h0M137.2 622.6h0M79.2 652.1h0M109.1 654.9h0M122.4 645.2h0M134.8 635.7h0M124.8 648.5h0M144.3 634.4h0M97.9 631.7h0M154.3 640.0h0M145.3 620.8h0M104.1 632.4h0M154.3 637.4h0M150.6 638.7h0M126.4 641.5h0M126.0 657.0h0M155.1 628.7h0M86.6 643.0h0M81.3 630.9h0M150.4 625.5h0M79.5 644.6h0M153.4 648.5h0M129.3 624.1h0M137.4 627.9h0M175.6 646.1h0M149.2 643.8h0M143.7 649.9h0M95.3 626.0h0M115.5 624.1h0M104.1 647.8h0M113.9 626.9h0M167.5 633.4h0M177.3 633.5h0M66.9 635.3h0M162.0 652.4h0M79.5 620.2h0M137.8 640.9h0M146.4 627.2h0M105.4 623.9h0M73.0 651.6h0M108.1 637.0h0M66.8 647.2h0M125.6 633.5h0M70.1 650.0h0M68.6 654.7h0M79.3 624.6h0M145.0 652.9h0M108.1 621.9h0M168.4 630.0h0M163.3 656.7h0M106.2 653.0h0M123.9 626.9h0M135.4 625.3h0M168.6 635.6h0M126.7 630.4h0M146.0 641.5h0M81.8 648.4h0M96.3 642.6h0M112.1 642.4h0M131.5 640.8h0M63.9 635.4h0M123.3 642.9h0M170.5 643.5h0M129.6 652.8h0M107.8 624.7h0M146.6 651.4h0M154.8 627.8h0M147.8 626.0h0M126.1 623.7h0M154.7 627.4h0M141.4 643.3h0M96.3 634.6h0M170.0 630.0h0M126.3 629.9h0M82.9 630.6h0M144.8 647.1h0M63.8 643.0h0M123.9 645.5h0M59.5 627.4h0M163.2 631.0h0M174.4 632.8h0M173.0 629.5h0M154.5 642.1h0M107.7 636.8h0M85.5 654.7h0M172.0 651.7h0M141.7 630.0h0M72.8 629.1h0M126.8 631.2h0M169.3 633.5h0M133.4 640.7h0M122.9 635.4h0M70.8 627.5h0M60.7 639.8h0M164.0 631.7h0M94.4 645.3h0M142.0 646.4h0M146.9 632.8h0M61.3 641.2h0M86.6 630.5h0M123.7 634.8h0M160.6 640.0h0M96.2 625.8h0M59.8 629.9h0M105.2 642.1h0M152.5 637.0h0M107.2 651.4h0M64.2 641.1h0M151.2 633.6h0M82.3 657.1h0M104.5 636.2h0M59.1 627.0h0M84.8 644.1h0M61.2 629.3h0M129.0 634.8h0M55.5 639.1h0M132.2 648.9h0M107.7 632.2h0M128.8 646.0h0M115.8 645.9h0M89.7 625.5h0M106.7 636.2h0M114.2 642.1h0M139.0 647.8h0M141.2 635.3h0M131.5 619.9h0M109.4 628.9h0M137.2 650.1h0M59.3 629.6h0M154.6 634.8h0M171.1 647.6h0M87.2 634.6h0M168.8 645.9h0M90.6 642.4h0M140.1 630.6h0M179.2 634.1h0M92.1 632.8h0M115.4 645.7h0M86.9 633.1h0M70.2 628.7h0M161.4 639.2h0M142.9 636.5h0M65.1 628.2h0M97.0 645.7h0M80.4 654.7h0M177.0 650.7h0M115.2 653.0h0M79.1 638.3h0M140.1 636.8h0M120.7 632.5h0M150.5 650.4h0M154.4 652.8h0M178.3 637.0h0M59.8 648.7h0M99.7 629.5h0M136.5 630.5h0M73.2 651.7h0M153.9 643.9h0M144.0 637.5h0M126.2 630.0h0M158.4 652.4h0M142.8 639.2h0M145.4 645.3h0M151.3 634.1h0M172.3 629.6h0M152.9 645.7h0M82.1 646.3h0M181.8 639.6h0M173.3 644.2h0M137.7 624.4h0M170.3 637.5h0M77.2 637.8h0M158.9 643.1h0M100.8 626.9h0M143.4 631.1h0M101.0 637.0h0M101.0 634.9h0M147.6 637.3h0M78.7 624.4h0M136.4 622.4h0M71.5 643.3h0M140.0 650.9h0M100.6 621.3h0M133.8 651.9h0M122.3 646.2h0M98.3 648.3h0M108.1 641.6h0M112.8 630.4h0M120.3 647.5h0M116.8 646.1h0M126.4 647.2h0M102.9 632.4h0M157.4 654.3h0M125.9 637.3h0M149.4 640.3h0M62.6 652.0h0M142.9 625.4h0M119.0 636.9h0M156.4 627.5h0M101.0 637.5h0M79.0 630.7h0M73.7 654.7h0M125.3 652.1h0M164.1 631.8h0M144.4 640.9h0M157.3 653.1h0M95.1 656.1h0M156.9 627.4h0M154.5 640.2h0M87.6 636.9h0M159.9 634.2h0M135.5 623.9h0M166.0 625.8h0M127.9 645.6h0M119.0 632.0h0M62.6 644.2h0M73.6 636.7h0M136.5 650.7h0M96.2 630.1h0M92.3 643.1h0M147.3 638.8h0M128.9 643.4h0M117.8 649.5h0M149.5 646.6h0M104.3 639.4h0M153.9 622.3h0M84.5 624.8h0M133.6 648.8h0M125.8 654.6h0M100.0 627.2h0M102.2 656.7h0M107.1 633.7h0M68.1 648.3h0M158.7 642.4h0M143.0 635.4h0M165.7 648.1h0M106.8 646.7h0M83.2 640.1h0M60.6 628.6h0M136.6 623.8h0M66.3 639.0h0M172.5 639.5h0M72.8 638.5h0M130.8 655.1h0M111.8 652.1h0M99.1 653.6h0M105.1 628.0h0M95.0 624.3h0M85.6 644.0h0M167.9 636.1h0M61.5 640.0h0M117.0 622.5h0M164.3 642.8h0M135.2 621.5h0M67.6 646.3h0M109.9 642.5h0M161.2 646.8h0M145.2 623.9h0M72.9 638.3h0M149.3 631.7h0M133.5 650.2h0M159.6 624.0h0M146.2 642.4h0M155.0 631.9h0M138.8 622.7h0M85.7 634.8h0M135.5 643.9h0M171.7 647.6h0M132.5 645.2h0M151.1 644.7h0M101.1 626.8h0M164.3 649.7h0M75.4 626.7h0M82.3 655.3h0M74.2 635.4h0M148.3 641.8h0M147.0 643.3h0M108.9 653.6h0M101.8 642.2h0M81.1 653.6h0M175.3 630.6h0M164.1 644.6h0M74.1 639.8h0M80.7 653.4h0M153.8 626.2h0M85.6 649.7h0M141.5 628.8h0M93.1 646.1h0M100.3 626.4h0M139.7 632.7h0M158.5 648.9h0M131.5 623.9h0M175.6 640.3h0M91.5 629.8h0M159.9 650.1h0M180.0 644.9h0M171.2 643.1h0M128.4 623.8h0M110.2 650.9h0M157.8 632.0h0M94.1 644.3h0M147.9 629.9h0M147.9 652.8h0M71.5 626.9h0M141.1 648.1h0M79.9 638.9h0M96.4 643.2h0M157.9 626.9h0M142.5 627.3h0M138.1 652.5h0M167.3 646.0h0M163.9 643.0h0M69.8 627.9h0M62.8 634.5h0M125.6 652.8h0M171.7 653.0h0M129.4 626.3h0M78.0 626.6h0M166.6 633.7h0M144.8 640.3h0M120.4 629.2h0M117.2 629.1h0M105.6 652.1h0M122.2 652.0h0M110.0 653.3h0M123.9 639.6h0M96.5 623.5h0M124.6 651.5h0M119.9 627.5h0M105.8 635.0h0M106.3 652.7h0M75.5 638.1h0M83.2 650.4h0M134.3 630.7h0M156.0 650.5h0M132.2 625.3h0M163.2 650.9h0M135.1 625.2h0M103.0 647.4h0M82.0 623.1h0M81.4 650.3h0M85.0 623.8h0M86.9 642.0h0M78.8 623.5h0M103.0 636.8h0M135.6 646.9h0M118.7 626.3h0M121.5 637.2h0M159.2 623.2h0M85.2 627.8h0M102.5 645.0h0M108.1 651.3h0M147.8 639.9h0M96.0 630.5h0M163.3 655.3h0M70.5 625.2h0M105.5 634.1h0M54.9 638.2h0M127.5 653.4h0M65.7 649.9h0M112.4 623.4h0M127.1 647.8h0M105.2 632.4h0M100.3 636.9h0M143.5 634.3h0M67.9 651.3h0M88.7 624.9h0M121.6 626.7h0M146.3 657.0h0M80.5 624.0h0M78.8 635.5h0M139.6 628.1h0M105.6 625.1h0M132.8 630.9h0M106.8 631.5h0M69.1 624.0h0M75.2 639.4h0M116.5 649.1h0M109.6 626.9h0M143.7 633.4h0M113.0 653.6h0M81.9 627.5h0M80.3 643.1h0M112.1 635.8h0M78.5 620.0h0M175.7 640.8h0M85.5 625.5h0M114.4 652.6h0M172.2 633.2h0M168.6 626.2h0M174.9 642.0h0M159.7 636.6h0M143.6 636.5h0M98.5 646.4h0M165.8 628.1h0M83.0 651.7h0M129.6 650.6h0M58.4 642.6h0M107.2 629.4h0M79.7 652.1h0M146.6 641.1h0M86.3 646.2h0M61.2 625.9h0M67.6 633.8h0M86.3 642.1h0M71.3 629.6h0M135.0 643.3h0M89.0 650.0h0M73.1 635.7h0M141.2 630.1h0M174.4 637.7h0M142.7 654.7h0M82.2 646.3h0M63.7 632.3h0M88.3 631.0h0M161.8 620.8h0M56.2 632.1h0M166.8 636.8h0M115.2 633.6h0M108.9 653.0h0M56.5 626.6h0M150.3 647.9h0M157.3 620.9h0M138.9 625.2h0M122.8 653.6h0M70.4 631.9h0M137.7 646.1h0M75.4 646.8h0M75.4 645.5h0M70.6 626.3h0M75.8 639.3h0M51.0 636.0h0M70.6 642.7h0M112.7 641.5h0M63.8 623.5h0M97.7 635.4h0M177.7 636.0h0M104.5 634.1h0M158.5 646.8h0M104.5 625.9h0M121.8 638.7h0M105.5 636.1h0M171.2 630.1h0M116.9 637.9h0M54.9 631.6h0M61.8 643.2h0M121.3 647.8h0M116.6 644.8h0M143.4 653.2h0M78.6 652.2h0M115.1 656.9h0M173.6 633.0h0M158.2 625.0h0M77.9 635.9h0M177.0 639.3h0M85.2 637.5h0M129.4 647.7h0M128.6 631.0h0M178.5 637.2h0M137.4 643.9h0M172.3 631.3h0M91.3 646.7h0M136.0 630.6h0M139.8 634.3h0M63.5 649.4h0M49.8 637.3h0M127.2 644.0h0M68.8 631.7h0M75.4 638.8h0M153.1 624.0h0M120.1 646.9h0M76.1 623.3h0M100.1 651.5h0M94.7 649.3h0M91.3 629.9h0M76.6 651.0h0M146.4 634.8h0M104.3 649.1h0M56.2 639.6h0M110.9 653.8h0M84.4 626.9h0M118.2 656.0h0M112.2 636.8h0M73.3 634.1h0M74.4 631.5h0M178.1 638.3h0M52.2 639.8h0M63.5 637.9h0M96.2 648.9h0M131.5 641.4h0M95.3 648.1h0M120.9 627.6h0M145.0 637.6h0M145.2 635.6h0M63.7 643.4h0M154.3 624.4h0M136.0 623.4h0M176.3 644.5h0M125.6 650.2h0M137.7 643.3h0M155.3 646.1h0M171.1 643.3h0M90.6 622.5h0M171.9 632.0h0M127.6 631.5h0M133.2 622.2h0M62.9 638.7h0M91.3 646.3h0M161.3 646.5h0M157.7 634.2h0M154.0 638.9h0M120.4 625.9h0M58.4 630.7h0M68.4 640.0h0M62.1 632.6h0M157.1 631.7h0M65.1 638.0h0M125.1 644.8h0M73.3 621.8h0M162.9 626.8h0M100.3 653.9h0M89.0 640.1h0M83.3 648.5h0M112.6 642.6h0M174.9 641.8h0M113.8 636.7h0M92.5 638.3h0M108.5 622.9h0M129.1 638.4h0M88.7 640.4h0M132.4 626.0h0M119.8 649.5h0M145.6 633.7h0M149.4 642.6h0M100.8 632.7h0M109.4 636.5h0M87.8 644.3h0M74.5 645.3h0M136.0 645.9h0M138.2 632.7h0M110.4 647.1h0M130.1 627.5h0M98.1 627.5h0M80.6 655.0h0M170.1 632.0h0M97.5 629.0h0M61.7 630.6h0M118.0 624.6h0M76.2 649.2h0M169.5 631.1h0M68.3 626.6h0M102.1 649.6h0M71.7 625.7h0M111.6 626.6h0M94.5 628.5h0M60.0 634.2h0M138.1 626.1h0M161.0 626.4h0M164.7 630.0h0M118.7 649.5h0M145.3 623.2h0M148.3 639.5h0M93.6 637.7h0M105.9 636.7h0M89.8 621.1h0M116.9 650.1h0M174.6 650.7h0M55.1 638.3h0M155.0 648.5h0M154.3 641.1h0M65.0 642.4h0M74.4 641.2h0M94.1 623.0h0M116.7 639.0h0M106.7 642.4h0M56.3 645.6h0M135.6 626.6h0M106.2 625.5h0M122.7 634.8h0M67.4 649.0h0M61.8 633.9h0M120.9 647.9h0M107.2 625.0h0M122.8 655.1h0M82.0 653.7h0M143.1 630.3h0M70.7 653.7h0M54.7 645.7h0M130.3 656.9h0M112.9 627.1h0M151.5 648.3h0M162.8 648.0h0M153.6 650.2h0M98.6 657.4h0M79.0 636.5h0M149.7 653.1h0M92.4 642.4h0M123.7 640.3h0M164.9 652.1h0M159.6 643.9h0M106.6 627.5h0M89.3 634.0h0M92.4 647.9h0M137.4 653.8h0M74.9 649.8h0M139.8 645.5h0M132.8 631.8h0M137.1 644.5h0M146.2 621.2h0M121.0 640.5h0M181.8 636.3h0M122.1 635.8h0M175.6 644.0h0M121.7 623.4h0M161.2 646.3h0M103.1 634.7h0M85.6 623.9h0M119.4 636.1h0M117.3 624.8h0M125.0 646.0h0M151.1 633.0h0M128.4 628.7h0M134.4 653.6h0M160.9 652.6h0M81.5 630.4h0M85.4 638.3h0M158.1 651.0h0M158.6 642.6h0M88.0 637.5h0M124.6 641.9h0M166.0 640.0h0M117.3 626.0h0M147.4 649.7h0M73.2 643.6h0M57.7 645.6h0M66.9 646.5h0M57.0 649.5h0M149.0 656.1h0M92.2 626.1h0M61.9 644.6h0M138.3 623.4h0M63.6 646.1h0M128.6 634.2h0M56.2 640.9h0M175.0 650.7h0M100.6 643.0h0M66.9 624.4h0M87.0 646.3h0M76.2 627.6h0M130.6 655.4h0M84.5 648.5h0M127.8 637.5h0M73.5 626.8h0M103.5 639.0h0M112.4 649.2h0M73.6 634.1h0M177.3 630.6h0M57.3 633.5h0M123.3 655.5h0M136.9 635.9h0M109.9 623.9h0M134.6 646.7h0M138.1 635.6h0M127.4 632.3h0M161.6 653.7h0M140.3 630.5h0M159.0 633.2h0M115.0 654.4h0M171.1 638.4h0M120.7 648.6h0M140.4 622.6h0M168.6 638.0h0M137.0 626.0h0M139.8 639.1h0M69.8 630.8h0M65.8 633.7h0M74.0 641.5h0M124.2 643.1h0M80.5 646.0h0M142.2 645.6h0M82.7 642.1h0M160.9 626.5h0M130.4 653.7h0M172.3 647.6h0M132.9 630.6h0M70.5 632.8h0M67.1 651.9h0M122.4 629.4h0M63.6 638.7h0M163.6 646.2h0M148.9 643.2h0M172.4 630.6h0M135.6 626.3h0M155.6 652.9h0M110.3 647.7h0M83.2 647.5h0M134.8 649.8h0M67.7 628.7h0M152.2 635.6h0M93.9 631.2h0M104.9 642.4h0M161.1 646.0h0M139.3 646.6h0M74.5 645.4h0M59.9 640.0h0M88.5 649.5h0M56.7 643.1h0M78.1 631.7h0M69.6 628.7h0M160.2 650.4h0M154.0 644.8h0M82.7 630.8h0M164.9 637.8h0M80.1 623.9h0M66.1 631.4h0M88.4 653.9h0M118.1 653.7h0M148.5 640.8h0M171.2 651.4h0M146.5 625.6h0M127.3 630.9h0M168.1 641.8h0M144.6 648.3h0M179.9 638.0h0M55.2 630.6h0M107.1 639.5h0M159.9 648.7h0M70.6 649.5h0M58.7 635.6h0M143.8 626.5h0M132.1 651.5h0M142.4 646.2h0M85.4 633.7h0M130.2 629.7h0M149.6 632.5h0M114.1 646.3h0M120.1 625.4h0M104.9 649.2h0M74.9 645.0h0M163.0 649.7h0M119.2 634.7h0M74.1 630.0h0M144.3 645.2h0M99.8 630.3h0M116.0 624.3h0M62.0 626.0h0M55.7 635.3h0M55.4 630.4h0M143.2 628.9h0M172.6 644.7h0M76.9 651.0h0M80.7 653.7h0M80.9 626.5h0M89.3 642.4h0M173.8 639.6h0M157.8 640.0h0M146.3 637.9h0M89.0 624.4h0M182.4 642.8h0M73.5 642.5h0M142.6 651.5h0M161.4 632.2h0M133.5 654.2h0M144.3 624.1h0M91.6 645.4h0M139.1 623.0h0M86.0 641.0h0M166.6 642.8h0M146.8 623.5h0M77.9 636.9h0M167.1 655.6h0M97.9 644.4h0M94.6 638.0h0M69.1 651.4h0M145.0 636.0h0M83.1 626.6h0M107.9 636.5h0M65.4 630.5h0M178.0 643.2h0M77.7 652.7h0M155.3 641.7h0M52.4 643.0h0M119.6 650.5h0M108.1 640.7h0M75.4 643.6h0M68.6 627.3h0M87.1 632.6h0M90.9 631.4h0M179.5 635.4h0M99.2 653.8h0M55.9 628.5h0M96.1 631.4h0M72.0 647.1h0M141.3 627.3h0M164.6 637.6h0M133.0 633.0h0M67.0 637.2h0M60.2 646.0h0M122.4 638.6h0M54.4 637.5h0M150.4 630.8h0M67.7 641.4h0M160.0 652.6h0M139.8 622.8h0M116.2 635.0h0M129.9 629.0h0M110.0 650.6h0M154.7 627.6h0M160.4 647.2h0M158.6 626.4h0M124.3 646.0h0M170.9 627.8h0M129.8 627.9h0M80.9 640.4h0M123.0 629.8h0M144.3 629.0h0M103.7 629.0h0M172.7 633.6h0M134.2 630.0h0M104.2 633.3h0M123.1 646.0h0M169.9 628.9h0M77.7 646.3h0M128.2 635.1h0M93.4 653.6h0M157.4 635.8h0M127.2 629.8h0M159.6 646.1h0M65.4 642.4h0M152.3 643.0h0M182.2 636.9h0M111.7 632.8h0M107.8 656.7h0M144.9 623.2h0M96.7 632.1h0M48.7 639.5h0M123.2 625.0h0M91.7 640.0h0M78.8 649.3h0M167.2 631.8h0M110.7 621.6h0M120.1 642.1h0M72.4 639.9h0M114.3 646.2h0M145.1 624.4h0M146.7 621.6h0M78.7 644.9h0M168.6 652.5h0M59.8 634.8h0M132.5 639.2h0M58.4 637.5h0M103.8 637.8h0M144.4 647.7h0M71.3 654.5h0M76.0 626.0h0M133.8 622.2h0M127.3 646.8h0M148.5 629.3h0M160.3 639.6h0M103.2 621.3h0M82.3 631.0h0M175.5 634.2h0M157.8 632.9h0M99.4 647.1h0M108.8 635.3h0M91.0 624.1h0M168.3 640.9h0M79.1 626.2h0M110.1 626.3h0M151.8 630.1h0M86.8 634.6h0M155.3 657.9h0M74.6 634.0h0M111.0 648.2h0M111.5 633.8h0M136.5 641.7h0M58.6 629.8h0M161.3 625.8h0M59.7 632.7h0M146.8 640.0h0M143.7 634.1h0M101.5 654.6h0M72.5 628.3h0M159.9 646.8h0M78.4 657.6h0M161.4 642.0h0M78.2 632.4h0M89.6 627.0h0M62.9 644.6h0M112.8 654.6h0M148.9 654.5h0M161.4 651.3h0M126.5 636.4h0M102.8 631.4h0M144.1 633.2h0M83.9 639.0h0M95.2 635.6h0M90.7 632.8h0M88.5 623.7h0M170.5 649.9h0M173.6 634.9h0M60.1 634.8h0M59.2 636.4h0M77.2 641.2h0M178.4 631.5h0M110.9 656.1h0M95.4 636.4h0M86.7 624.5h0M100.2 646.9h0M158.3 640.2h0M114.3 640.7h0M175.1 647.1h0M73.6 645.7h0M111.5 624.4h0M133.4 645.5h0M87.0 626.9h0M88.4 642.7h0M116.4 650.9h0M65.3 638.4h0M105.8 625.5h0M153.2 639.4h0M142.4 650.0h0M98.2 656.6h0M155.4 637.4h0M165.3 648.2h0M84.4 643.3h0M64.7 638.7h0M169.3 644.2h0M115.0 638.9h0M75.5 642.9h0M88.8 638.9h0M136.7 622.8h0M55.1 640.7h0M67.5 646.1h0M160.4 638.1h0M129.5 627.4h0M58.8 628.0h0M69.5 635.5h0M130.0 641.1h0M132.7 637.8h0M67.1 629.5h0M164.5 641.6h0M172.7 631.9h0M176.0 635.6h0M116.5 630.6h0M159.3 649.2h0M137.5 647.0h0M92.8 637.1h0M86.1 628.6h0M130.6 648.0h0M146.8 642.1h0M148.7 650.1h0M68.6 647.3h0M97.9 636.4h0M119.4 645.9h0M116.4 632.6h0M123.4 647.3h0M144.2 655.2h0M144.3 655.2h0M161.5 629.7h0M165.9 641.2h0M130.6 628.8h0M172.3 628.6h0M120.8 648.1h0M154.1 621.8h0M152.5 646.7h0M116.9 622.0h0M66.8 632.1h0M63.2 651.7h0M75.3 655.5h0M120.7 635.0h0M103.3 651.5h0M95.9 653.5h0M117.9 635.0h0M69.2 637.9h0M167.5 651.0h0M156.7 640.8h0M80.6 650.4h0M155.7 628.9h0M165.5 625.0h0M87.8 629.5h0M155.7 644.8h0M142.3 652.1h0M167.6 639.9h0M167.0 627.0h0M122.7 636.9h0M65.3 637.3h0M76.5 636.6h0M141.1 623.4h0M133.9 633.2h0M90.7 652.3h0M121.4 634.1h0M129.2 623.0h0M174.4 642.5h0M113.0 651.4h0M107.5 623.7h0M81.8 655.8h0M125.0 636.7h0M96.7 639.6h0M94.3 622.6h0M86.0 647.0h0M111.9 641.2h0M53.5 642.8h0M78.7 631.5h0M88.5 627.4h0M129.5 641.6h0M90.9 626.8h0M178.9 643.2h0M167.6 649.9h0M63.8 635.8h0M88.1 642.3h0M135.8 652.4h0M81.5 625.8h0M175.0 631.5h0M154.4 623.3h0M127.3 641.5h0M119.9 627.9h0M107.2 629.0h0M153.6 652.6h0M52.5 644.1h0M119.2 653.7h0M86.3 633.4h0M142.8 654.0h0M104.7 626.4h0M112.9 652.9h0M131.0 649.3h0M104.4 626.4h0M91.8 623.2h0M68.9 627.1h0M158.2 644.4h0M173.1 646.2h0M177.6 637.1h0M75.1 642.1h0M108.7 626.2h0M152.9 653.0h0M152.2 651.4h0M91.5 642.2h0M81.7 633.1h0M131.0 622.8h0M129.1 638.3h0M160.1 626.0h0M84.9 625.9h0M71.7 625.4h0M99.1 655.1h0M115.6 644.3h0M98.9 636.5h0M89.9 642.0h0M154.5 653.8h0M108.3 642.0h0M63.7 627.8h0M164.5 627.6h0M158.9 628.0h0M148.1 641.5h0M118.5 646.0h0M149.8 649.5h0M107.7 624.1h0M88.6 641.6h0M90.6 624.2h0M75.3 652.6h0M97.0 649.4h0M125.6 631.9h0M79.3 625.9h0M101.7 620.4h0M157.2 634.3h0M130.8 628.3h0M163.5 622.6h0M113.3 629.7h0M145.1 645.1h0M114.1 632.7h0M164.1 651.2h0M105.3 641.4h0M126.5 631.5h0M119.6 627.9h0M155.5 638.9h0M123.0 647.0h0M170.6 635.2h0M119.6 649.9h0M72.9 638.5h0M107.8 623.4h0M98.2 655.6h0M86.3 644.8h0M118.8 634.0h0M161.3 636.4h0M152.9 654.5h0M120.7 622.2h0M73.9 650.4h0M66.3 642.3h0M165.3 633.8h0M121.2 635.6h0M83.7 643.2h0M59.1 634.5h0M159.3 637.1h0M66.8 651.5h0M77.7 646.1h0M97.3 627.7h0M134.0 634.6h0M92.4 647.6h0M114.3 650.4h0M64.8 646.4h0M132.0 656.1h0M118.3 637.0h0M93.3 628.1h0M161.9 649.2h0M157.1 647.1h0M93.5 652.6h0M166.5 648.8h0M169.7 631.5h0M159.8 636.0h0M75.1 638.4h0M115.2 648.2h0M158.0 631.7h0M172.1 649.0h0M157.7 635.8h0M120.0 653.6h0M144.9 637.9h0M111.6 628.5h0M90.9 627.0h0M126.5 649.0h0M121.0 638.1h0M90.5 632.0h0M109.2 641.0h0M91.4 643.6h0M110.1 637.3h0M114.0 632.5h0M105.2 645.8h0M121.3 622.4h0M86.2 649.1h0M137.2 647.6h0M180.2 641.4h0M139.9 632.9h0M71.7 634.7h0M117.4 644.7h0M97.2 629.3h0M90.5 638.9h0M77.2 635.1h0M80.2 650.7h0M70.4 651.2h0M160.7 632.6h0M83.6 657.1h0M102.1 630.8h0M153.6 640.3h0M88.0 642.7h0M111.9 642.6h0M143.5 649.4h0M64.4 647.0h0M160.7 639.3h0M155.7 646.2h0M141.2 647.5h0M100.6 633.3h0M76.3 640.7h0M147.5 647.2h0M126.0 644.1h0M157.0 649.9h0M176.6 635.5h0M79.7 633.7h0M119.2 638.3h0M174.8 644.7h0M85.5 635.5h0M106.3 639.1h0M102.9 653.8h0M145.9 623.1h0M157.7 639.0h0M153.8 631.7h0M85.5 627.6h0M85.4 656.3h0M79.4 644.2h0M58.9 634.3h0M158.4 628.1h0M141.2 635.5h0M121.8 622.5h0M164.0 655.6h0M95.4 632.3h0M89.6 637.7h0M85.6 623.6h0M165.0 642.9h0M168.9 645.6h0M146.1 629.4h0M134.6 650.6h0M152.3 640.8h0M60.7 640.1h0M135.0 651.3h0M107.7 644.2h0M78.5 647.6h0M94.7 632.4h0M163.1 637.1h0M63.8 641.4h0M64.6 632.2h0M101.5 656.9h0M151.7 655.8h0M99.5 644.1h0M116.7 637.3h0M150.2 629.8h0M63.4 646.0h0M92.7 627.2h0M79.3 655.2h0M123.3 631.4h0M130.6 625.1h0M77.1 636.0h0M154.9 651.0h0M74.8 645.4h0M174.9 631.8h0M89.2 648.2h0M107.4 655.0h0M150.0 627.6h0M118.5 641.8h0M126.1 641.5h0M98.4 624.9h0M161.4 627.6h0M101.6 625.6h0M86.6 639.4h0M128.1 637.9h0M141.7 644.9h0M94.1 650.6h0M80.5 640.1h0M84.4 637.2h0M178.7 637.3h0M150.5 624.9h0M151.3 651.2h0M100.5 633.5h0M176.3 633.8h0M157.7 647.2h0M85.7 630.2h0M111.7 627.4h0M160.0 626.0h0M75.7 654.1h0M116.0 637.7h0M164.7 657.7h0M125.9 651.0h0M136.9 654.9h0M107.5 622.6h0M91.2 626.9h0M87.5 638.5h0M103.8 642.9h0M116.6 638.4h0M171.8 642.6h0M89.4 624.8h0M66.7 650.2h0M136.7 627.2h0M154.6 642.1h0M122.1 644.8h0M85.2 650.4h0M172.6 625.9h0M139.6 652.1h0M64.1 646.5h0M64.9 645.7h0M160.0 631.6h0M117.2 653.5h0M72.5 628.3h0M161.5 645.9h0M101.3 650.2h0M62.4 633.1h0M110.7 627.7h0M94.6 654.3h0M84.8 623.5h0M163.1 627.4h0M71.6 651.8h0M101.3 639.8h0M114.3 641.7h0M82.9 646.8h0M151.2 652.4h0M63.6 627.6h0M176.4 634.6h0M120.3 631.3h0M159.6 637.1h0M61.9 632.2h0M164.9 636.8h0M54.5 636.5h0M145.3 627.9h0M93.1 639.6h0M95.1 620.4h0M66.0 626.1h0M92.8 653.2h0M153.4 648.6h0M99.1 652.2h0M147.7 647.1h0M132.9 637.5h0M113.5 643.5h0M94.1 641.4h0M71.2 647.6h0M151.0 636.2h0M60.6 648.8h0M158.0 634.7h0M76.6 629.2h0M146.1 633.2h0M68.4 635.3h0M84.1 648.0h0M74.4 635.2h0M90.0 632.0h0M82.7 653.4h0M139.6 645.2h0M86.0 649.9h0M153.1 656.3h0M178.0 639.4h0M123.3 627.7h0M134.7 653.1h0M167.3 646.3h0M168.1 653.2h0M76.8 643.8h0M106.1 638.9h0M105.4 642.9h0M145.5 622.3h0M114.5 650.4h0M150.0 627.6h0M165.6 626.2h0M122.6 623.2h0M114.9 637.9h0M101.1 655.6h0M151.0 624.5h0M151.2 652.7h0M150.8 624.5h0M89.7 653.9h0M106.9 627.7h0M165.4 649.0h0M56.1 637.4h0M121.6 646.1h0M106.0 630.0h0M78.4 638.6h0M97.5 625.0h0M137.3 623.6h0M165.0 652.2h0M108.6 648.6h0M156.6 622.6h0M160.3 650.6h0M176.5 644.6h0M53.1 638.4h0M108.1 632.5h0M98.7 622.1h0M163.6 639.7h0M66.7 631.5h0M168.8 647.9h0M137.6 653.6h0M71.5 637.3h0M109.0 640.2h0M104.3 642.1h0M88.6 635.5h0M68.9 637.9h0M149.6 639.1h0M123.9 646.0h0M160.4 633.6h0M77.6 627.5h0M103.5 630.5h0M157.9 651.1h0M140.0 651.3h0M104.9 630.5h0M153.1 624.7h0M76.0 623.6h0M108.3 658.1h0M173.5 648.0h0M68.5 647.7h0M88.1 621.5h0M137.1 644.5h0M63.2 645.3h0M83.2 640.2h0M109.5 652.6h0M69.3 632.9h0M93.8 631.6h0M136.6 638.6h0M124.6 634.1h0M108.0 635.5h0M55.3 638.8h0M175.1 651.2h0M76.8 645.9h0M103.8 635.1h0M104.4 620.1h0M75.0 632.9h0M125.1 650.0h0M142.7 633.3h0M66.8 633.6h0M73.7 647.2h0M157.6 647.2h0M136.6 632.7h0M116.9 629.0h0M70.3 636.3h0M142.5 650.5h0M151.9 633.1h0M118.0 642.1h0M72.0 638.9h0M145.3 631.8h0M97.0 638.7h0M144.8 644.0h0M133.7 647.2h0M156.7 630.6h0M111.3 651.1h0M70.6 642.0h0M122.7 650.1h0M71.4 636.8h0M113.1 651.0h0M129.1 627.4h0M151.5 632.0h0M132.3 632.3h0M60.2 637.8h0M75.7 640.1h0M168.8 652.5h0M79.8 638.1h0M151.7 646.5h0M111.6 638.2h0M65.5 631.1h0M50.3 637.6h0M131.8 630.1h0M145.3 654.3h0M169.4 645.6h0M167.8 638.7h0M176.1 626.9h0M111.0 654.0h0M99.1 624.6h0M128.6 629.0h0M174.5 638.2h0M77.3 647.0h0M79.4 647.5h0M167.6 629.2h0M63.2 639.3h0M88.7 655.0h0M112.7 645.8h0M178.3 633.0h0M152.9 651.4h0M84.6 654.3h0M129.8 632.1h0M57.0 649.1h0M153.2 642.7h0M91.4 639.1h0M83.4 644.8h0M175.1 640.2h0M71.9 629.6h0M66.3 631.0h0M104.4 625.1h0M108.9 646.7h0M147.8 653.9h0M124.7 654.7h0M162.2 636.2h0M162.4 651.3h0M112.8 629.0h0M139.9 646.1h0M83.8 640.4h0M74.3 638.8h0M157.7 624.3h0M159.8 648.6h0M88.8 645.8h0M115.8 646.9h0M128.4 630.0h0M168.4 641.2h0M88.4 632.2h0M69.3 636.9h0M101.2 633.4h0M170.4 630.7h0M178.8 634.0h0M137.3 622.5h0M110.5 645.4h0M150.0 653.2h0M120.6 622.2h0M127.7 652.8h0M158.6 645.7h0M56.6 639.7h0M155.1 646.5h0M77.5 650.5h0M167.1 629.7h0M96.5 642.7h0M96.5 642.8h0M149.3 634.7h0M93.9 633.7h0M115.5 651.3h0M103.0 650.3h0M136.4 639.3h0M183.6 642.4h0M119.2 626.5h0M131.1 627.3h0M116.2 646.6h0M94.1 636.9h0M119.8 622.3h0M138.7 656.9h0M94.0 639.4h0M84.1 625.2h0M55.4 629.8h0M169.7 645.1h0M92.2 646.5h0M163.9 653.5h0M119.3 633.3h0M178.3 644.0h0M115.4 647.6h0M120.4 645.3h0M69.9 626.6h0M56.4 637.3h0M123.2 630.7h0M103.7 651.8h0M78.7 639.8h0M90.4 621.1h0M170.5 639.4h0M111.3 630.9h0M74.9 627.2h0M101.4 623.1h0M170.0 640.9h0M116.8 628.3h0M89.6 634.1h0M104.3 654.7h0M91.0 625.4h0M70.5 641.6h0M149.4 640.1h0M179.2 638.3h0M123.1 639.6h0M97.4 645.0h0M148.4 651.4h0M175.2 635.2h0M154.7 636.1h0M165.1 623.3h0M116.4 643.6h0M71.0 654.6h0M109.1 628.2h0M95.0 649.0h0M83.3 627.5h0M95.6 630.7h0M161.6 631.1h0M83.9 652.1h0M141.1 646.4h0M81.0 653.9h0M143.0 646.8h0M82.7 649.3h0M152.1 641.4h0M60.4 625.7h0M96.0 637.1h0M93.1 644.8h0M114.2 639.7h0M103.7 650.1h0M110.8 625.7h0M75.2 655.4h0M105.3 641.9h0M128.7 648.4h0M71.1 626.2h0M162.8 642.9h0M65.4 646.3h0M161.2 641.2h0M59.8 629.4h0M98.4 647.9h0M174.5 627.7h0M75.4 657.0h0M144.4 637.3h0M130.2 627.4h0M151.0 635.7h0M171.7 625.7h0M89.4 623.1h0M96.8 640.5h0M98.5 628.0h0M77.5 627.3h0M80.8 645.3h0M120.1 621.3h0M152.9 650.7h0M84.8 639.9h0M103.1 631.2h0M86.3 646.0h0M88.6 645.5h0M160.9 626.9h0M102.0 650.2h0M160.5 649.7h0M89.1 651.3h0M105.8 623.6h0M95.9 638.7h0M168.2 647.0h0M120.8 643.7h0M53.5 640.8h0M167.8 627.8h0M82.4 645.5h0M61.3 634.2h0M150.1 650.3h0M147.6 636.9h0M74.6 653.2h0M131.9 625.1h0M98.6 655.0h0M105.0 633.5h0M58.8 638.7h0M156.6 648.5h0M135.0 645.1h0M142.0 637.0h0M91.0 636.0h0M146.7 625.1h0M73.2 651.8h0M78.8 629.6h0M87.3 648.4h0M173.4 630.6h0M162.2 648.6h0M169.5 637.1h0M157.6 638.8h0M132.7 636.4h0M168.6 651.3h0M124.2 636.8h0M77.1 625.5h0M84.7 646.8h0M135.5 621.2h0M161.9 634.4h0M125.8 642.2h0M101.8 639.2h0M125.4 632.5h0M161.8 627.7h0M57.9 642.9h0M131.3 628.2h0M159.3 629.2h0M150.1 646.2h0M98.9 638.6h0M60.5 636.1h0M134.4 637.0h0M114.6 640.8h0M91.9 628.6h0M97.0 629.6h0M142.5 627.8h0M58.3 630.4h0M138.3 630.8h0M146.7 633.8h0M79.8 641.8h0M135.7 654.8h0M87.0 640.8h0M120.2 628.6h0M132.0 622.7h0M59.9 647.0h0M85.4 654.0h0M112.3 631.8h0M155.4 633.1h0M72.9 647.4h0M101.6 629.8h0M91.9 627.3h0M102.8 633.2h0M67.9 625.7h0M123.6 645.1h0M83.8 651.8h0M168.4 649.4h0M81.1 624.8h0M87.1 629.4h0M103.8 651.4h0M167.9 642.7h0M109.0 650.5h0M88.8 637.0h0M156.0 630.8h0M63.5 634.5h0M132.8 645.8h0M99.7 646.8h0M119.2 635.7h0M172.7 632.6h0M159.4 641.2h0M146.2 639.9h0M124.8 649.0h0M114.4 656.0h0M143.6 640.3h0M58.0 629.9h0M87.2 628.4h0M146.0 628.7h0M110.2 638.9h0M168.3 634.8h0M88.9 623.3h0M154.0 640.7h0M148.9 642.0h0M74.3 625.7h0M164.3 627.4h0M162.3 648.9h0M65.3 652.0h0M161.8 648.0h0M97.5 656.9h0M110.3 622.7h0M142.9 639.7h0M53.6 644.6h0M152.9 643.9h0M139.2 650.0h0M178.1 642.6h0M100.8 653.4h0M124.4 643.7h0M86.8 636.3h0M160.3 632.4h0M121.1 638.2h0M62.7 625.5h0M115.8 624.4h0M142.0 653.1h0M54.9 640.3h0M80.0 629.6h0M164.8 642.1h0M97.4 628.7h0M162.9 650.3h0M95.2 657.1h0M145.0 656.5h0M156.4 631.3h0M67.5 625.3h0M95.3 637.2h0M69.6 627.5h0M80.0 637.0h0M135.7 645.5h0M156.7 630.9h0M95.4 625.8h0M137.7 635.3h0M81.0 634.4h0M175.4 643.7h0M92.4 645.1h0M150.1 628.1h0M153.9 623.8h0M76.9 647.9h0M158.6 632.7h0M57.1 639.0h0M67.7 635.7h0M159.2 652.2h0M159.7 638.3h0M150.8 625.4h0M98.6 625.3h0M131.3 633.5h0M122.1 631.7h0M61.7 630.7h0M166.6 642.6h0M73.4 640.6h0M81.4 645.7h0M164.5 644.7h0M126.4 631.6h0M104.0 641.1h0M168.0 649.8h0M132.8 624.3h0M120.5 646.5h0M176.2 642.7h0M60.3 648.5h0M171.5 647.4h0M131.7 630.5h0M62.0 648.3h0M69.4 628.6h0M170.1 644.3h0M77.4 640.5h0M62.8 638.8h0M122.1 630.1h0M89.4 628.4h0M70.9 626.7h0M124.8 645.6h0M77.9 643.6h0M64.3 640.8h0M104.3 644.9h0M124.4 624.0h0M108.5 645.4h0M87.3 640.7h0M102.3 644.7h0M163.7 633.1h0M118.0 639.0h0M132.2 653.4h0M133.2 640.6h0M144.2 645.9h0M154.6 629.4h0M129.7 647.9h0M96.7 644.3h0M122.5 634.8h0M91.9 621.0h0M179.4 639.1h0M56.3 641.4h0M53.8 640.8h0M128.1 622.6h0M101.5 654.4h0M79.4 643.0h0M89.8 633.4h0M97.5 632.1h0M153.2 634.0h0M136.7 653.8h0M101.1 648.7h0M116.9 623.7h0M116.0 653.9h0M129.1 636.4h0M116.6 625.6h0M121.4 653.2h0M86.4 651.0h0M125.0 640.2h0M101.5 635.9h0M129.1 651.8h0M145.0 648.7h0M71.6 636.7h0M74.2 651.3h0M121.8 630.7h0M106.7 629.5h0M133.2 650.3h0M126.8 629.0h0M59.3 630.0h0M133.9 652.0h0M64.2 630.9h0M125.6 622.7h0M141.0 640.8h0M111.8 637.2h0M68.0 651.9h0M126.7 640.3h0M84.3 650.4h0M156.1 623.7h0M70.3 639.0h0M132.7 632.2h0M104.3 627.2h0M82.0 648.4h0M141.6 629.9h0M151.8 634.8h0M64.2 643.8h0M90.4 634.5h0M115.4 652.9h0M79.8 637.4h0M93.5 625.4h0M163.3 645.9h0M137.7 628.5h0M121.5 642.7h0M79.6 629.9h0M90.6 633.8h0M125.7 633.0h0M127.0 644.3h0M134.9 623.1h0M136.2 647.9h0M149.0 643.1h0M84.8 642.1h0M93.7 627.3h0M165.8 627.8h0M143.3 643.0h0M149.5 638.1h0M102.5 637.1h0M62.5 651.6h0M170.3 628.0h0M166.7 631.7h0M75.9 637.2h0M132.4 622.3h0M175.3 640.7h0M90.2 656.2h0M59.0 630.0h0M70.2 638.6h0M139.7 629.7h0M112.1 625.6h0M102.1 653.7h0M121.0 629.7h0M66.2 641.5h0M133.4 646.6h0M70.9 651.4h0M136.5 631.0h0M66.1 638.6h0M65.3 648.1h0M88.5 628.4h0M65.8 630.1h0M177.0 643.4h0M154.1 649.5h0M72.9 633.4h0M132.3 639.0h0M91.2 646.3h0M168.8 625.8h0M76.4 622.7h0M172.4 635.3h0M92.5 646.5h0M72.1 648.7h0M102.5 624.0h0M87.6 634.8h0M104.0 642.2h0M157.0 636.8h0M160.5 639.8h0M104.9 629.6h0M130.7 626.8h0M130.5 625.9h0M99.6 641.5h0M112.3 628.8h0M67.5 650.4h0M111.6 648.4h0M56.1 647.5h0M62.7 626.6h0M144.7 636.2h0M74.1 621.4h0M86.6 641.2h0M125.6 639.0h0M58.3 634.9h0M150.1 647.8h0M71.2 650.4h0M111.6 633.1h0M117.0 652.2h0M96.3 624.0h0M117.0 634.3h0M155.4 648.6h0M123.0 642.4h0M175.8 631.8h0M117.9 650.3h0M87.8 642.9h0M70.2 634.1h0M94.3 623.5h0M113.1 643.6h0M120.2 636.8h0M113.4 641.2h0M76.8 634.0h0M58.3 634.3h0M75.4 632.2h0M142.2 651.4h0M93.9 623.7h0M140.0 651.5h0M131.3 635.2h0M109.7 622.7h0M153.8 642.6h0M167.0 648.3h0M68.6 649.1h0M123.9 623.1h0M173.2 648.0h0M164.9 648.3h0M110.6 634.5h0M96.7 637.8h0M68.8 625.1h0M127.2 638.6h0M121.3 630.6h0M89.8 635.8h0M94.7 637.0h0M81.1 637.4h0M117.0 643.9h0M148.0 629.2h0M79.7 639.5h0M169.5 640.0h0M83.2 639.2h0M90.6 635.4h0M68.3 631.9h0M128.2 647.9h0M77.7 657.0h0M71.5 641.3h0M109.9 636.6h0M62.9 638.3h0M176.4 649.3h0M172.1 624.0h0M144.9 647.0h0M121.0 620.9h0M137.2 650.0h0M153.6 633.9h0M142.8 646.9h0M66.7 647.0h0M151.9 644.5h0M83.4 645.6h0M113.1 630.2h0M69.1 651.7h0M137.6 641.1h0M56.6 638.9h0M135.4 627.9h0M142.2 627.1h0M141.2 655.5h0M133.5 652.5h0M146.5 653.8h0M165.4 632.7h0M93.3 641.3h0M107.4 644.8h0M171.8 647.8h0M127.7 644.3h0M113.6 656.2h0M72.0 621.1h0M108.7 630.9h0M77.9 634.7h0M66.9 652.9h0M111.3 647.0h0M161.5 645.5h0M57.5 640.5h0M140.7 634.0h0M174.6 627.6h0M161.6 649.7h0M100.3 621.7h0M102.0 636.2h0M78.6 654.3h0M173.1 650.1h0M142.5 629.4h0M62.7 648.4h0M91.5 650.8h0M141.1 655.9h0M81.7 647.4h0M169.1 634.2h0M98.7 629.1h0M93.4 653.6h0M66.0 648.6h0M91.6 630.1h0M178.5 629.1h0M86.6 652.4h0M95.7 654.6h0M102.5 654.6h0M75.3 643.9h0M142.5 652.2h0M71.7 648.4h0M60.7 630.5h0M117.5 622.9h0M163.0 651.9h0M77.2 631.3h0M168.7 632.1h0M167.9 642.1h0M82.6 643.7h0M119.4 651.2h0M115.9 631.6h0M67.8 645.3h0M115.8 658.0h0M109.9 651.6h0M121.8 642.3h0M78.6 627.8h0M140.2 651.4h0M96.2 622.6h0M74.7 651.3h0M144.6 650.5h0M182.1 640.3h0M159.3 628.4h0M164.3 632.1h0M129.6 640.9h0M172.6 643.7h0M90.7 630.6h0M177.6 642.3h0M104.2 652.7h0M88.9 647.9h0M113.9 635.3h0M122.7 634.2h0M60.4 647.3h0M147.6 641.3h0M168.5 642.3h0M76.2 632.0h0M166.6 633.2h0M104.0 647.3h0M108.9 650.2h0M127.4 652.8h0M91.1 645.0h0M104.0 632.5h0M159.2 656.2h0M94.5 639.2h0M140.9 652.8h0M82.5 650.5h0M165.9 634.4h0M52.6 647.6h0M95.4 637.3h0M110.9 648.9h0M92.5 646.0h0M125.6 629.9h0M177.1 638.3h0M112.9 622.9h0M178.2 645.3h0M164.6 626.3h0M86.1 640.4h0M69.5 622.9h0M154.0 629.9h0M114.0 651.6h0M126.1 645.3h0M171.1 638.5h0M97.3 648.3h0M77.5 634.2h0M56.2 634.5h0M147.7 639.8h0M57.1 649.6h0M112.5 647.2h0M102.2 649.0h0M144.9 635.6h0M166.0 627.3h0M109.1 632.3h0M101.3 646.7h0M168.0 630.1h0M129.6 633.4h0M141.8 648.6h0M154.8 653.3h0M129.7 643.1h0M125.3 630.5h0M176.7 628.8h0M166.8 640.5h0M170.4 643.6h0M96.8 622.6h0M91.8 634.2h0M122.7 639.7h0M122.5 646.0h0M99.2 636.6h0M63.7 653.4h0M104.9 651.2h0M142.3 650.8h0M132.0 633.2h0M75.3 637.9h0M129.1 622.4h0M157.0 642.5h0M66.4 647.3h0M167.4 631.6h0M174.4 636.9h0M142.0 621.5h0M85.6 624.6h0M79.1 654.1h0M132.1 631.5h0M88.3 622.2h0M121.0 636.5h0M177.9 634.5h0M128.8 633.8h0M178.7 646.0h0M147.4 631.5h0M147.0 649.6h0M89.7 650.3h0M77.6 640.8h0M71.9 642.3h0M63.0 639.1h0M142.0 639.2h0M173.6 640.9h0M156.7 628.8h0M87.6 639.5h0M64.4 629.0h0M128.8 636.1h0M113.8 632.2h0M68.4 634.2h0M160.5 625.6h0M71.0 654.1h0M142.5 650.6h0M142.4 627.9h0M146.5 642.7h0M105.0 651.7h0M136.7 620.8h0M145.7 651.1h0M63.3 630.9h0M77.5 632.8h0M95.0 645.2h0M122.0 651.6h0M171.5 654.0h0M115.5 644.8h0M52.7 635.6h0M148.9 634.2h0M125.9 641.3h0M57.5 639.9h0M103.0 643.7h0M62.9 642.6h0M132.5 627.5h0M80.4 640.2h0M71.1 641.1h0M67.6 645.0h0M64.4 625.3h0M167.6 623.8h0M153.6 640.4h0M175.7 642.4h0M156.9 646.3h0M159.4 651.0h0M107.3 633.7h0M106.3 646.2h0M76.0 641.7h0M111.4 625.0h0M139.3 649.1h0M66.4 635.0h0M54.9 639.1h0M142.4 623.1h0M103.1 631.5h0M148.9 641.3h0M60.9 634.1h0M116.8 648.3h0M113.0 625.5h0M79.5 636.1h0M114.1 627.5h0M75.5 625.5h0M52.6 639.5h0M156.9 625.9h0M58.2 639.8h0M99.2 638.3h0M145.4 646.1h0M106.5 630.6h0M162.9 650.8h0M176.0 641.0h0M107.2 623.1h0M68.9 630.4h0M106.1 633.8h0M74.1 652.3h0M104.1 654.1h0M52.9 644.0h0M116.8 628.3h0M126.3 637.0h0M173.2 635.5h0M137.9 634.3h0M65.3 634.7h0M169.5 637.1h0M53.1 641.8h0M141.7 631.0h0M135.9 656.2h0M135.1 638.0h0M114.6 630.5h0M134.5 641.1h0M180.1 633.9h0M144.8 638.2h0M167.7 640.6h0M155.4 630.3h0M125.6 635.5h0M172.9 632.0h0M173.6 640.9h0M79.5 632.5h0M158.7 635.2h0M130.1 638.4h0M112.6 630.3h0M171.4 635.7h0M118.2 630.8h0M175.8 628.3h0M142.6 642.7h0M81.5 648.6h0M67.8 631.8h0M86.4 650.0h0M94.1 651.3h0M145.2 650.9h0M172.0 634.7h0M65.7 643.8h0M112.3 637.9h0M147.6 642.9h0M141.1 639.0h0M103.9 639.3h0M120.6 626.6h0M125.5 645.0h0M152.8 621.6h0M85.1 644.6h0M98.1 650.9h0M82.4 640.7h0M84.7 657.4h0M127.6 626.5h0M92.1 647.5h0M69.5 632.7h0M130.0 652.3h0M160.6 631.2h0M143.8 632.1h0M156.9 639.4h0M75.4 621.1h0M167.7 637.6h0M174.6 640.8h0M147.7 627.7h0M125.7 643.6h0M77.6 647.4h0M115.8 649.7h0M76.0 630.9h0M98.4 624.4h0M95.0 626.1h0M67.0 638.0h0M81.2 658.2h0M117.9 652.5h0M67.3 630.9h0M169.0 628.7h0M115.5 627.5h0M138.0 624.2h0M61.4 638.0h0M152.9 631.2h0M122.9 640.7h0M59.2 641.3h0M118.9 638.7h0M148.7 641.5h0M169.3 626.8h0M126.1 647.5h0M59.7 639.1h0M74.5 632.3h0M137.3 625.3h0M84.4 619.4h0M149.1 650.2h0M80.7 648.6h0M178.1 636.8h0M114.1 643.5h0M110.9 635.7h0M115.3 648.9h0M142.2 636.4h0M61.3 633.0h0M168.8 633.9h0M52.5 643.8h0M59.1 642.4h0M116.8 653.7h0M168.9 622.4h0M142.0 630.5h0M150.7 639.5h0M179.3 634.1h0M132.8 625.1h0M117.1 651.6h0M66.4 630.3h0M119.1 629.6h0M120.4 635.9h0M93.2 625.6h0M174.7 638.8h0M62.8 642.5h0M66.1 638.0h0M92.4 631.3h0M79.4 653.6h0M87.9 636.4h0M79.5 632.7h0M166.1 639.0h0M134.3 637.1h0M100.8 636.6h0M98.6 637.6h0M159.6 654.3h0M93.0 643.5h0M137.5 645.7h0M93.8 651.4h0M91.3 631.8h0M165.2 651.8h0M74.9 635.1h0M82.4 650.6h0M178.8 640.1h0M91.5 625.6h0M68.6 646.2h0M153.9 644.4h0M162.2 648.0h0M84.8 634.2h0M125.8 647.0h0M77.1 646.5h0M91.7 650.0h0M78.3 652.9h0M161.7 647.1h0M149.6 652.1h0M156.5 631.5h0M102.5 624.2h0M59.5 631.4h0M101.0 647.2h0M152.4 645.9h0M111.8 624.5h0M99.3 619.8h0M160.6 643.1h0M87.3 635.3h0M133.0 625.2h0M135.9 654.1h0M154.0 642.6h0M172.0 645.3h0M97.6 621.7h0M173.4 637.5h0M172.2 638.4h0M103.1 638.8h0M146.3 656.7h0M87.0 639.5h0M85.5 642.3h0M128.7 643.2h0M82.9 653.6h0M113.1 643.9h0M54.1 631.5h0M169.5 645.6h0M66.8 632.3h0M167.9 627.2h0M124.1 644.0h0M99.8 643.0h0M150.0 639.6h0M58.1 636.6h0M104.7 628.6h0M79.4 635.7h0M70.0 656.0h0M142.1 639.3h0M82.7 628.4h0M154.0 640.4h0M137.0 624.8h0M85.0 634.3h0M80.6 624.3h0M62.5 640.0h0M96.3 645.8h0M111.1 644.0h0M170.8 638.7h0M74.1 630.3h0M59.2 643.8h0M155.9 627.3h0M166.7 649.3h0M140.5 634.2h0M79.5 643.9h0M117.1 644.7h0M156.1 644.2h0M76.4 645.3h0M69.8 636.1h0M105.3 630.4h0M123.6 644.5h0M153.0 635.3h0M142.1 636.2h0M151.5 637.7h0M94.8 640.9h0M162.6 647.5h0M165.1 650.2h0M84.6 649.4h0M156.0 648.5h0M155.9 626.8h0M124.8 629.7h0M176.8 641.6h0M91.8 648.6h0M147.3 641.5h0M151.1 652.8h0M77.8 625.8h0M102.0 639.1h0M87.7 656.4h0M75.1 626.7h0M136.7 638.4h0M114.5 622.5h0M145.5 628.6h0M182.1 633.0h0M112.2 630.2h0M65.5 638.6h0M161.3 634.8h0M103.9 648.7h0M121.0 622.6h0M105.5 646.8h0M81.1 626.8h0M155.2 649.4h0M128.1 643.4h0M135.4 643.4h0M154.3 638.7h0M86.0 627.9h0M130.1 630.5h0M148.4 655.6h0M164.6 643.7h0M173.3 629.9h0M129.6 630.2h0M158.9 650.0h0M62.0 626.5h0M143.9 632.5h0M150.6 632.5h0M59.5 629.7h0M138.1 628.2h0M138.0 657.2h0M117.5 643.9h0M66.1 627.2h0M119.6 623.3h0M176.6 638.2h0M93.8 644.2h0M129.0 632.5h0M122.1 643.5h0M60.7 650.0h0M56.5 633.4h0M103.8 643.0h0M68.4 632.0h0M151.4 649.7h0M70.7 630.9h0M106.4 635.4h0M155.5 649.0h0M155.2 638.0h0M156.7 640.8h0M60.4 645.9h0M161.4 621.4h0M84.2 640.3h0M100.2 638.7h0M130.8 640.0h0M120.0 656.0h0M84.8 652.8h0M159.0 637.6h0M63.6 644.5h0M139.0 623.8h0M137.4 645.1h0M111.2 655.8h0M102.3 638.7h0M169.8 637.7h0M92.7 649.6h0M81.7 653.8h0M63.4 634.5h0M126.1 640.3h0M100.5 635.6h0M123.4 654.6h0M94.2 623.7h0M140.9 629.7h0M125.4 649.7h0M163.5 632.6h0M109.2 626.0h0M173.8 634.5h0M148.6 632.7h0M159.0 628.9h0M63.0 645.6h0M155.9 649.7h0M99.8 647.5h0M90.0 629.8h0M146.3 624.1h0M164.8 637.2h0M132.2 632.7h0M132.3 646.9h0M116.6 635.0h0M61.8 625.6h0M155.1 644.1h0M169.7 624.3h0M93.4 650.8h0M147.7 649.3h0M132.5 638.5h0M140.2 652.9h0M55.0 634.3h0M105.6 641.4h0M109.8 648.4h0M79.6 627.7h0M150.3 651.6h0M60.2 630.2h0M114.2 630.6h0M109.6 624.7h0M79.9 625.0h0M167.6 646.5h0M64.4 642.2h0M149.2 642.1h0M112.9 653.5h0M170.7 636.5h0M99.4 652.0h0M150.4 642.7h0M157.2 655.0h0M103.1 634.9h0M157.0 639.5h0M167.0 624.8h0M159.2 639.9h0M74.3 647.8h0M130.9 635.0h0M154.0 632.9h0M123.1 644.7h0M114.3 624.1h0M151.2 656.7h0M95.8 639.5h0M171.6 651.4h0M152.4 646.4h0M104.8 639.4h0M69.3 635.2h0M93.9 639.6h0M119.8 655.5h0M100.9 646.6h0M93.8 632.7h0M157.3 644.6h0M89.5 642.4h0M132.0 645.9h0M165.8 643.9h0M86.8 642.0h0M73.8 635.3h0M145.9 626.9h0M111.9 635.4h0M92.0 624.0h0M63.3 640.2h0M68.5 652.8h0M122.0 643.3h0M130.0 631.0h0M111.0 628.6h0M117.1 628.9h0M60.3 641.2h0M108.4 632.6h0M118.7 631.5h0M152.5 655.2h0M128.3 624.2h0M170.0 626.0h0M123.5 634.4h0M126.0 654.8h0M81.6 640.7h0M145.8 631.4h0M118.9 653.3h0M105.9 650.7h0M94.8 643.7h0M91.7 650.7h0M115.4 647.3h0M139.8 653.4h0M97.3 640.1h0M87.2 639.1h0M121.8 641.4h0M97.0 625.5h0M142.7 648.8h0M93.9 632.0h0M81.2 635.4h0M141.1 643.2h0M159.1 635.1h0M98.6 634.3h0M174.1 649.2h0M147.9 632.4h0M129.1 643.0h0M125.2 647.4h0M162.3 639.8h0M71.5 630.4h0M92.3 640.9h0M94.7 637.6h0M143.8 650.8h0M162.4 627.1h0M96.2 655.9h0M131.1 630.1h0M121.7 635.6h0M111.1 645.2h0M91.2 642.6h0M141.6 622.5h0M127.1 654.7h0M160.1 642.1h0M176.3 631.8h0M164.1 626.5h0M169.0 650.7h0M108.4 633.7h0M167.4 646.1h0M96.9 624.5h0M154.1 650.6h0M95.9 653.4h0M113.6 643.6h0M60.0 642.9h0M57.0 638.2h0M102.1 643.7h0M101.8 633.3h0M175.7 631.2h0M93.9 639.5h0M87.6 636.8h0M89.0 623.1h0M76.2 655.5h0M142.7 619.5h0M84.6 623.8h0M153.5 628.9h0M69.8 644.7h0M114.8 651.4h0M86.0 635.9h0M138.7 653.8h0M135.4 640.5h0M87.3 647.5h0M112.7 643.1h0M104.5 654.9h0M86.1 630.6h0M157.7 647.9h0M145.0 628.5h0M170.8 639.7h0M154.4 648.2h0M67.6 623.8h0M123.7 642.7h0M113.6 640.8h0M100.5 622.5h0M75.0 637.5h0M61.8 639.9h0M113.3 638.9h0M182.2 635.8h0M167.8 649.2h0M76.6 640.6h0M98.4 652.6h0M151.1 632.4h0M66.4 638.9h0M71.3 639.6h0M106.0 645.3h0M103.6 632.1h0M94.7 648.7h0M113.6 640.9h0M149.1 634.9h0M109.6 622.0h0M148.3 621.5h0M77.5 650.0h0M68.3 648.1h0M121.6 622.5h0M101.1 639.7h0M162.6 648.6h0M139.0 632.2h0M78.4 656.1h0M132.5 648.8h0M120.9 631.2h0M151.8 623.5h0M131.5 655.9h0M119.3 638.5h0M104.1 644.7h0M84.4 645.2h0M172.7 624.0h0M176.5 632.6h0M118.7 629.1h0M78.5 650.6h0M95.3 635.8h0M119.2 624.5h0M70.1 627.9h0M147.1 639.5h0M126.4 642.1h0M64.2 641.0h0M79.7 651.9h0M71.7 629.1h0M170.9 648.6h0M171.0 645.2h0M175.2 635.1h0M168.7 641.6h0M102.6 637.3h0M144.6 621.7h0M83.6 656.9h0M103.0 637.6h0M164.6 649.1h0M158.9 649.6h0M76.6 640.9h0M91.5 623.1h0M92.8 654.5h0M85.8 652.7h0M100.9 638.7h0M131.0 652.0h0M119.7 650.8h0M66.7 627.0h0M127.3 641.5h0M59.6 640.5h0M61.0 628.0h0M70.6 639.0h0M59.5 633.5h0M150.1 635.3h0M123.7 627.7h0M156.6 639.3h0M93.5 633.6h0M156.9 643.1h0M143.6 637.5h0M179.1 640.3h0M168.7 628.6h0M140.8 650.5h0M116.2 626.4h0M161.0 627.0h0M177.6 629.5h0M100.7 625.1h0M151.3 650.7h0M93.3 638.2h0M104.7 633.0h0M96.7 632.0h0M129.9 628.2h0M134.9 644.8h0M85.2 644.8h0M131.7 641.5h0M161.5 633.7h0M169.0 640.8h0M102.2 621.9h0M99.1 642.1h0M79.4 654.5h0M87.1 642.3h0M123.5 649.8h0M168.7 633.2h0M113.5 652.9h0M111.6 633.5h0M138.5 623.0h0M94.4 628.1h0M146.1 642.7h0M164.9 632.8h0M166.6 638.8h0M106.7 642.1h0M76.7 650.1h0M133.9 624.3h0M78.9 637.1h0M131.6 625.2h0M171.4 645.5h0M155.0 656.4h0M85.6 623.5h0M145.0 634.5h0M88.5 628.9h0M120.4 624.2h0M56.1 638.5h0M93.1 644.3h0M108.3 641.2h0M135.5 654.4h0M127.1 636.8h0M117.4 625.0h0M112.0 627.5h0M172.4 640.6h0M172.3 645.7h0M143.4 647.3h0M82.3 653.1h0M82.1 638.1h0M153.7 648.9h0M81.3 623.6h0M110.1 628.6h0M136.1 635.5h0M75.1 650.2h0M128.2 645.2h0M75.3 627.8h0M98.4 634.0h0M94.4 623.0h0M100.0 632.1h0M157.9 655.5h0M149.7 647.6h0M161.1 633.9h0M162.1 648.8h0M110.5 643.5h0M65.9 642.6h0M55.5 630.2h0M71.7 645.5h0M77.5 640.4h0M139.9 628.4h0M158.7 650.8h0M164.7 647.6h0M75.7 639.0h0M178.7 631.1h0M104.4 627.6h0M164.0 644.4h0M137.7 633.5h0M159.8 632.4h0M148.2 627.1h0M145.8 650.7h0M69.0 629.7h0M170.0 631.2h0M64.8 631.7h0M145.3 625.1h0M139.6 651.9h0M163.9 643.0h0M101.3 653.9h0M181.4 644.1h0M115.6 648.1h0M121.4 626.7h0M108.3 629.5h0M130.3 637.1h0M110.1 629.7h0M102.5 655.3h0M141.6 650.6h0M143.8 623.4h0M107.9 635.3h0M140.3 637.6h0M171.9 640.0h0M107.9 645.9h0M110.9 648.4h0M120.8 645.8h0M139.8 643.6h0M119.3 627.8h0M84.3 645.0h0M156.6 644.4h0M69.9 633.2h0M72.5 645.1h0M123.4 649.9h0M100.4 644.9h0M147.1 647.1h0M110.8 641.8h0M165.2 643.1h0M132.1 638.1h0M121.5 653.9h0M177.4 646.1h0M103.1 637.7h0M154.2 652.7h0M123.6 642.6h0M122.3 630.4h0M52.1 643.1h0M146.7 645.2h0M92.2 653.4h0M141.4 628.6h0M116.8 630.4h0M96.4 637.8h0M78.7 638.8h0M68.5 637.1h0M88.2 653.2h0M94.2 628.8h0M94.5 622.7h0M178.7 639.8h0M159.3 621.7h0M151.0 648.2h0M108.1 624.5h0M81.0 628.8h0M124.6 639.9h0M104.3 635.9h0M153.8 650.0h0M145.6 654.7h0M142.9 624.8h0M179.5 635.7h0M81.5 643.8h0M81.5 630.4h0M103.1 622.7h0M89.4 629.1h0M73.9 651.5h0M179.5 644.7h0M170.4 627.8h0M175.1 638.0h0M157.6 635.3h0M66.7 641.2h0M165.5 631.7h0M101.4 644.6h0M90.0 638.3h0M84.1 630.3h0M70.9 636.5h0M158.0 655.7h0M99.6 643.9h0M84.4 634.0h0M174.2 648.0h0M122.8 633.0h0M161.0 633.7h0M77.7 638.8h0M78.5 626.3h0M54.9 631.0h0M127.1 623.5h0M54.4 639.8h0M128.8 643.9h0M124.4 624.4h0M55.3 632.0h0M160.6 643.6h0M87.6 654.3h0M161.0 628.8h0M138.4 633.3h0M153.6 645.0h0M91.3 654.3h0M183.2 633.9h0M118.9 636.3h0M176.5 650.0h0M133.7 646.4h0M120.1 650.7h0M94.0 633.4h0M130.2 638.0h0M65.0 626.3h0M162.1 625.0h0M77.9 635.8h0M80.5 645.2h0M135.0 638.0h0M104.6 629.7h0M59.9 642.7h0M127.4 647.7h0M120.3 646.0h0M76.4 633.3h0M135.9 652.6h0M87.2 633.6h0M147.2 646.0h0M180.9 640.9h0M80.8 634.6h0M144.6 646.9h0M131.1 653.3h0M80.2 630.9h0M125.5 650.6h0M143.7 656.5h0M73.3 644.6h0M161.5 640.1h0M123.4 631.0h0M66.0 644.0h0M73.3 649.5h0M76.5 621.2h0M115.9 632.5h0M90.9 652.0h0M136.2 647.6h0M147.5 624.5h0M96.3 633.3h0M105.7 628.4h0M80.8 643.1h0M83.3 653.1h0M168.2 634.2h0M79.4 622.7h0M174.8 636.5h0M92.3 631.0h0M125.1 627.1h0M128.5 633.7h0M85.5 638.4h0M137.8 640.6h0M101.8 651.8h0M113.8 653.8h0M157.0 649.1h0M152.6 645.9h0M92.1 653.4h0M76.9 656.5h0M157.5 626.0h0M129.8 649.5h0M57.3 631.3h0M162.8 647.1h0M111.5 651.6h0M73.3 642.0h0M175.4 635.2h0M111.0 632.5h0M144.9 643.8h0M137.3 629.0h0M105.2 627.7h0M171.1 645.5h0M158.8 641.2h0M87.4 639.6h0M137.2 648.8h0M95.1 651.2h0M66.7 625.2h0M107.7 624.6h0M63.1 650.1h0M159.8 629.6h0M97.0 634.1h0M157.5 636.4h0M86.3 626.8h0M68.6 651.8h0M61.2 646.6h0M120.0 639.6h0M85.8 642.9h0M139.7 649.7h0M148.3 638.7h0M68.8 631.3h0M130.9 623.7h0M164.2 625.1h0M116.3 635.5h0M99.1 643.5h0M78.4 655.1h0M92.0 630.3h0M117.5 634.0h0M117.7 652.7h0M182.2 631.9h0M138.5 655.8h0M161.0 627.1h0M162.1 651.5h0M84.6 636.8h0M167.3 653.7h0M132.0 627.3h0M63.3 636.4h0M129.0 629.7h0M99.2 657.2h0M159.3 654.0h0M172.5 637.9h0M99.4 632.8h0M123.8 645.7h0M99.7 653.8h0M57.2 632.7h0M144.0 638.2h0M120.5 653.5h0M94.2 621.5h0M54.2 641.6h0M128.7 629.5h0M104.5 629.2h0M92.9 633.9h0M62.7 652.1h0M171.0 627.1h0M72.5 627.5h0M123.7 651.8h0M174.1 649.8h0M90.5 654.2h0M164.1 641.5h0M78.0 623.3h0M160.4 639.3h0M137.7 634.8h0M86.0 634.4h0M170.4 644.7h0M134.3 654.6h0M104.6 649.0h0M75.8 644.0h0M84.5 639.0h0M59.9 647.5h0M140.1 627.9h0M79.3 646.0h0M175.9 642.6h0M91.9 626.5h0M172.3 649.1h0M123.4 635.1h0M126.7 632.5h0M90.2 651.6h0M72.3 628.7h0M93.0 653.4h0M156.3 628.5h0M136.4 643.9h0M125.3 635.2h0M99.0 626.4h0M110.2 627.0h0M72.7 646.6h0M61.7 627.1h0M92.5 641.6h0M179.5 637.2h0M141.9 644.1h0M89.3 632.0h0M159.0 623.4h0M71.7 625.3h0M89.0 630.3h0M131.6 622.7h0M53.9 636.4h0M170.3 629.0h0M98.3 627.6h0M164.5 641.7h0M73.8 629.3h0M130.4 649.5h0M153.2 625.1h0M77.0 632.5h0M147.1 631.9h0M74.1 627.5h0M80.3 641.7h0M170.3 649.4h0M59.0 640.4h0M113.2 640.5h0M138.2 624.1h0M114.1 647.2h0M67.8 636.7h0M79.3 627.3h0M151.2 643.4h0M100.0 637.3h0M170.7 634.7h0M124.5 636.4h0M156.0 637.9h0M87.0 646.4h0M136.3 630.6h0M88.8 627.2h0M97.0 632.3h0M169.5 645.5h0M153.3 640.9h0M62.2 632.8h0M89.3 637.4h0M95.6 649.1h0M127.5 637.3h0M132.7 643.8h0M125.0 647.1h0M129.2 643.3h0M147.3 648.1h0M110.0 633.9h0M103.6 626.5h0M121.0 644.4h0M105.7 650.0h0M96.8 635.0h0M84.1 624.8h0M90.2 637.0h0M125.5 628.0h0M132.8 623.0h0M146.6 637.8h0M141.0 635.2h0M162.0 629.7h0M158.5 654.7h0M80.1 632.3h0M72.5 625.2h0M106.7 650.0h0M91.7 624.0h0M95.8 630.1h0M155.2 633.9h0M144.8 652.3h0M142.4 639.5h0M61.7 634.7h0M80.2 641.2h0M124.0 655.1h0M118.9 621.3h0M95.5 639.1h0M88.4 633.1h0M51.8 637.5h0M150.9 648.8h0M158.3 624.4h0M70.9 635.4h0M86.3 636.4h0M165.8 626.6h0M117.1 633.0h0M97.5 633.0h0M104.7 637.8h0M148.8 653.4h0M93.2 641.7h0M166.8 633.9h0M125.1 642.5h0M146.2 626.7h0M113.3 656.4h0M59.8 640.7h0M61.8 644.3h0M164.4 650.6h0M96.2 622.8h0M104.9 654.4h0M85.5 633.4h0M112.2 645.9h0M128.8 637.8h0M160.4 623.3h0M83.9 650.4h0M138.2 635.8h0M123.2 636.8h0M118.2 649.9h0M145.6 632.3h0M115.0 653.6h0M130.8 638.0h0M137.7 628.7h0M126.4 655.1h0M98.2 641.3h0M122.4 629.2h0M150.2 626.6h0M123.6 643.2h0M91.3 656.0h0M128.5 625.4h0M95.4 639.9h0M136.1 644.2h0M154.4 652.8h0M125.2 631.5h0M137.6 648.2h0M57.1 629.7h0M152.1 643.0h0M86.5 648.5h0M143.2 630.2h0M101.1 642.5h0M112.2 653.3h0M171.8 653.9h0M158.7 646.4h0M71.3 655.2h0M75.2 648.4h0M114.2 630.3h0M68.9 629.5h0M158.1 643.8h0M161.3 650.2h0M100.1 631.2h0M59.9 651.0h0M108.7 636.4h0M97.0 637.9h0M84.9 641.1h0M52.9 638.1h0M170.1 627.0h0M74.2 636.3h0M108.6 650.6h0M77.7 625.9h0M81.2 638.4h0M141.4 643.2h0M75.6 637.8h0M111.0 637.0h0M170.2 641.3h0M53.8 630.3h0M167.2 644.4h0M65.9 634.0h0M112.1 629.9h0M110.3 645.2h0M167.7 635.2h0M154.2 628.9h0M133.4 652.1h0M154.7 626.6h0M174.7 642.0h0M135.2 635.5h0M120.8 650.0h0M139.0 642.2h0M119.0 642.6h0M75.8 635.4h0M148.3 626.2h0M82.3 643.0h0M59.8 632.7h0M163.8 647.1h0M109.7 626.3h0M158.0 641.3h0M145.8 652.8h0M67.7 628.5h0M128.7 635.3h0M135.2 638.8h0M131.6 643.3h0M84.2 654.6h0M98.7 639.8h0M142.7 656.3h0M78.7 627.2h0M157.4 630.2h0M82.1 647.0h0M158.5 624.8h0M113.0 628.7h0M157.4 635.7h0M144.6 634.2h0M64.6 636.1h0M101.0 631.6h0M75.0 621.9h0M131.7 627.6h0M113.6 640.5h0M82.6 641.1h0M115.8 621.3h0M124.4 649.0h0M56.9 632.3h0M150.2 633.3h0M87.9 649.3h0M99.4 650.1h0M64.9 642.5h0M105.7 624.1h0M108.5 644.6h0M87.8 641.9h0M166.2 632.0h0M122.7 633.8h0M163.7 629.8h0M136.5 631.9h0M118.5 635.3h0M128.1 648.2h0M63.1 639.6h0M80.7 655.6h0M72.4 626.0h0M92.0 647.4h0M132.8 644.1h0M90.4 639.7h0M112.4 642.6h0M125.9 622.5h0M134.5 631.8h0M84.2 628.6h0M63.8 630.8h0M150.8 630.2h0M156.8 629.4h0M108.2 639.2h0M110.0 626.9h0M156.9 656.9h0M129.5 646.5h0M146.3 637.6h0M177.0 641.5h0M162.0 644.2h0M111.7 625.7h0M92.0 653.0h0M166.7 621.5h0M143.9 637.2h0M124.7 638.0h0M105.0 633.2h0M122.4 632.1h0M151.8 634.8h0M62.8 628.8h0M171.7 640.7h0M131.5 651.5h0M51.9 640.6h0M172.3 628.5h0M132.6 654.9h0M152.1 632.6h0M166.7 644.7h0M142.9 654.7h0M82.0 657.1h0M117.4 630.7h0M177.3 632.0h0M173.1 630.9h0M96.7 632.9h0M163.1 653.3h0M78.6 650.4h0M74.4 645.2h0M96.6 635.3h0M87.6 640.0h0M69.5 651.1h0M122.7 630.2h0M119.0 645.4h0M117.4 639.3h0M144.5 625.5h0M175.3 642.5h0M128.2 635.2h0M160.5 651.3h0M128.9 630.4h0M121.9 623.7h0M58.0 643.3h0M175.5 637.1h0M109.4 626.7h0M147.3 634.5h0M165.6 644.7h0M178.9 641.9h0M127.1 643.8h0M151.1 646.7h0M80.2 623.9h0M92.4 635.5h0M139.7 651.9h0M107.4 626.7h0M69.3 626.9h0M158.7 640.4h0M162.9 627.2h0M130.8 640.4h0M114.9 629.0h0M141.8 631.0h0M126.4 634.3h0M117.0 653.4h0M69.1 652.1h0M116.6 638.4h0M98.2 638.7h0M63.0 654.0h0M157.7 642.6h0M86.5 653.9h0M156.1 653.4h0M98.6 636.8h0M146.6 623.3h0M77.4 643.0h0M170.0 630.2h0M79.6 655.3h0M142.5 621.8h0M153.6 633.4h0M73.3 633.1h0M76.6 647.4h0M144.7 643.1h0M108.0 628.2h0M170.9 631.4h0M98.6 653.6h0M96.0 650.1h0M145.9 629.2h0M108.0 636.4h0M157.4 623.1h0M94.4 623.2h0M172.8 644.7h0M92.8 628.9h0M158.0 644.9h0M136.7 642.7h0M152.3 646.4h0M83.7 656.1h0M138.3 640.4h0M138.8 642.8h0M55.3 638.2h0M81.7 642.4h0M79.3 643.2h0M138.6 636.1h0M140.9 647.2h0M79.6 638.8h0M166.1 626.8h0M126.9 635.1h0M177.8 641.6h0M142.3 623.2h0M145.3 637.8h0M97.1 635.9h0M94.6 628.7h0M141.0 642.0h0M160.4 647.6h0M156.6 634.6h0M111.1 640.5h0M149.5 637.3h0M86.2 629.0h0M140.2 647.3h0M146.4 641.8h0M58.8 638.7h0M146.9 638.3h0M102.8 629.6h0M52.6 640.2h0M123.2 647.1h0M148.4 627.6h0M122.0 634.1h0M157.2 641.0h0M67.4 635.1h0M174.1 633.1h0M76.2 644.2h0M163.6 653.8h0M132.1 645.6h0M172.0 642.3h0M116.3 623.5h0M51.1 639.4h0M89.3 633.4h0M111.0 648.6h0M84.8 635.2h0M148.4 654.0h0M112.3 625.6h0M76.6 623.3h0M150.6 630.8h0M150.5 626.2h0M83.0 643.4h0M125.8 627.3h0M76.1 651.6h0M151.3 636.6h0M76.9 640.7h0M76.1 647.9h0M64.5 654.5h0M77.6 629.8h0M96.7 644.3h0M88.7 652.6h0M154.3 637.2h0M65.6 637.3h0M128.5 628.9h0M155.2 638.8h0M145.1 651.0h0M141.6 654.3h0M142.8 624.3h0M58.5 640.5h0M159.5 650.2h0M168.4 648.5h0M121.2 646.5h0M120.7 627.9h0M60.5 633.5h0M160.4 627.3h0M147.7 635.5h0M165.2 633.4h0M97.1 636.4h0M78.1 643.7h0M152.2 645.8h0M152.6 642.3h0M135.2 645.9h0M60.9 652.0h0M158.1 653.8h0M69.7 641.6h0M175.0 630.9h0M119.1 655.0h0M129.1 640.1h0M74.0 636.8h0M64.6 648.6h0M98.0 631.8h0M76.8 644.7h0M55.2 628.8h0M60.8 627.8h0M127.5 629.2h0M69.2 629.2h0M95.7 650.5h0M60.7 639.7h0M115.1 638.9h0M99.6 646.7h0M76.5 641.2h0M87.9 642.1h0M121.1 622.6h0M70.0 622.0h0M156.5 631.8h0M55.5 633.1h0M182.9 634.8h0M129.2 631.7h0M126.4 643.0h0M104.1 645.6h0M110.7 637.2h0M153.4 643.8h0M117.4 651.6h0M91.7 656.5h0M160.8 653.8h0M135.9 639.2h0M72.5 631.6h0M121.6 629.4h0M167.6 647.1h0M136.4 624.5h0M141.0 637.0h0M98.1 636.4h0M168.5 653.7h0M178.4 647.5h0M114.6 656.5h0M125.7 630.3h0M93.1 625.3h0M130.3 652.9h0M94.9 652.4h0M120.8 631.8h0M102.1 627.1h0M61.9 642.7h0M120.6 651.6h0M115.0 630.5h0M126.3 648.0h0M88.7 657.4h0M132.8 645.0h0M157.5 622.8h0M82.6 645.6h0M114.5 644.9h0M130.8 623.4h0M60.8 634.8h0M115.0 632.2h0M87.7 628.2h0M151.3 628.1h0M111.2 632.0h0M118.7 624.8h0M149.2 640.2h0M114.9 632.9h0M138.8 648.0h0M136.2 647.7h0M91.8 649.6h0M81.6 641.9h0M99.8 650.6h0M82.2 640.4h0M140.3 634.7h0M137.8 630.1h0M163.7 628.8h0M134.9 624.7h0M163.5 630.6h0M118.9 638.5h0M61.4 639.7h0M119.6 640.3h0M168.6 647.8h0M136.0 639.1h0M152.3 625.4h0M152.9 655.0h0M159.9 643.6h0M177.5 638.5h0M155.6 637.6h0M102.6 630.9h0M66.5 642.3h0M74.7 642.8h0M137.4 646.9h0M129.6 631.8h0M89.8 624.8h0M59.2 638.6h0M84.6 639.7h0M164.6 646.6h0M130.5 634.5h0M173.7 641.8h0M113.7 652.2h0M115.9 646.5h0M162.4 657.5h0M102.5 637.8h0M119.4 630.3h0M110.6 654.3h0M161.7 650.2h0M154.4 624.2h0M163.3 626.6h0M62.5 643.7h0M170.3 631.8h0M173.9 642.8h0M56.8 644.5h0M92.1 645.1h0M146.9 640.2h0M75.7 638.7h0M149.4 630.4h0M92.8 639.2h0M77.4 636.9h0M116.3 637.6h0M52.8 639.3h0M79.8 627.4h0M119.9 656.0h0M137.5 647.4h0M154.8 629.3h0M70.2 638.5h0M80.7 655.1h0M170.7 648.7h0M107.7 628.6h0M111.6 634.6h0M111.0 648.7h0M122.2 640.6h0M164.7 653.3h0M56.4 635.7h0M63.3 624.0h0M130.3 642.9h0M112.8 632.7h0M84.3 643.6h0M134.6 644.5h0M175.6 641.1h0M116.9 637.0h0M116.6 652.8h0M71.7 654.3h0M114.7 638.2h0M168.6 627.4h0M111.6 630.0h0M152.3 649.7h0M116.0 639.6h0M151.0 647.2h0M150.3 625.9h0M143.0 631.8h0M150.6 653.3h0M87.8 640.7h0M153.4 625.4h0M52.0 643.9h0M85.8 656.9h0M109.2 632.3h0M50.7 635.9h0M71.2 635.8h0M67.8 643.9h0M58.1 643.0h0M62.3 646.0h0M98.1 625.8h0M60.4 645.4h0M161.7 639.5h0M87.6 628.9h0M147.3 644.2h0M71.9 626.8h0M91.6 639.5h0M166.7 627.8h0M111.7 635.1h0M86.7 640.1h0M63.6 635.2h0M103.0 643.2h0M178.3 637.8h0M155.0 636.6h0M80.2 629.3h0M118.6 635.6h0M100.1 643.2h0M71.6 640.1h0M101.1 625.0h0M146.9 638.2h0M98.0 633.3h0M168.1 630.6h0M115.7 646.5h0M140.5 645.5h0M74.0 624.2h0M132.3 630.3h0M123.8 640.0h0M89.6 641.5h0M137.0 623.4h0M160.3 623.5h0M152.4 640.7h0M161.1 631.0h0M113.3 622.6h0M144.5 623.2h0M134.8 644.5h0M67.1 651.4h0M143.8 647.0h0M171.3 646.9h0M180.0 630.1h0M56.1 639.3h0M87.4 641.2h0M147.0 647.4h0M85.3 631.6h0M109.8 636.7h0M114.8 627.1h0M90.9 647.0h0M169.1 636.6h0M113.8 652.3h0M125.0 633.1h0M66.2 636.4h0M77.1 651.0h0M173.0 651.4h0M165.8 650.6h0M166.1 627.4h0M154.9 639.7h0M143.2 628.4h0M150.2 644.8h0M55.4 637.1h0M115.2 631.3h0M170.1 630.4h0M140.8 641.0h0M84.2 650.8h0M169.7 647.6h0M123.1 631.7h0M101.7 628.3h0M105.2 624.6h0M172.8 654.4h0M83.1 639.4h0M157.7 638.9h0M130.0 647.8h0M73.2 633.2h0M75.3 656.9h0M173.8 651.5h0M123.5 645.7h0M160.6 628.1h0M100.1 644.0h0M84.4 628.1h0M68.7 622.5h0M136.5 650.1h0M84.8 629.3h0M154.2 634.6h0M171.4 641.6h0M125.7 631.2h0M126.9 651.1h0M82.4 627.8h0M121.7 637.3h0M137.1 644.3h0M84.9 632.2h0M93.2 641.3h0M163.6 652.9h0M115.0 639.4h0M70.7 635.6h0M131.1 654.9h0M58.9 639.5h0M72.7 649.9h0M63.2 647.3h0M105.5 632.6h0M177.8 630.8h0M125.9 628.5h0M144.3 650.7h0M121.9 642.3h0M118.2 635.2h0M79.5 649.7h0M134.0 655.1h0M166.7 633.3h0M137.3 622.4h0M120.8 650.7h0M141.1 644.1h0M138.9 653.4h0M168.1 630.1h0M148.0 635.0h0M59.0 643.8h0M124.4 642.5h0M101.9 623.6h0M137.0 646.0h0M176.3 640.7h0M113.3 648.2h0M107.7 631.3h0M98.1 632.6h0M165.6 645.4h0M157.1 642.8h0M164.6 628.8h0M116.6 638.5h0M75.7 634.1h0M80.5 654.1h0M64.4 637.9h0M130.0 629.4h0M145.9 625.2h0M112.0 624.1h0M117.6 630.1h0M67.6 626.0h0M107.0 638.1h0M133.6 627.6h0M175.8 648.6h0M62.5 650.2h0M72.3 647.2h0M144.8 622.0h0M92.0 622.0h0M133.1 629.1h0M124.4 650.5h0M69.2 627.7h0M126.0 652.5h0M102.3 652.5h0M128.5 646.8h0M148.2 647.6h0M166.1 649.1h0M86.1 634.5h0M164.2 640.0h0M167.9 633.5h0M115.3 631.1h0M96.4 626.4h0M164.8 646.8h0M71.9 635.1h0M57.1 645.9h0M163.4 639.4h0M166.5 631.3h0M146.3 645.8h0M118.0 633.6h0M71.4 648.5h0M94.2 646.8h0M114.8 636.8h0M148.5 652.9h0M88.3 647.2h0M124.1 639.5h0M58.5 642.2h0M151.5 654.4h0M138.0 642.9h0M89.1 628.4h0M154.3 622.4h0M99.2 636.3h0M171.8 647.5h0M101.7 625.1h0M81.9 655.1h0M70.8 644.4h0M145.6 634.3h0M119.8 645.2h0M175.3 649.7h0M152.0 646.6h0M143.1 641.9h0M125.6 640.8h0M161.3 647.4h0M86.4 657.2h0M117.7 640.6h0M91.0 648.6h0M123.2 650.3h0M162.7 637.8h0M147.8 624.5h0M121.4 626.4h0M82.9 637.8h0M70.1 651.6h0M69.2 650.6h0M157.8 626.6h0M145.9 633.7h0M81.6 652.3h0M111.0 651.4h0M143.0 638.9h0M91.5 646.2h0M111.8 650.7h0M112.3 639.7h0M124.5 631.3h0M143.9 637.7h0M70.2 653.3h0M119.7 639.4h0M100.1 645.6h0M158.9 640.0h0M138.4 644.1h0M133.6 647.5h0M129.5 632.1h0M137.1 640.6h0M96.1 625.8h0M162.3 633.7h0M102.3 636.3h0M77.0 652.2h0M58.4 631.5h0M87.2 637.6h0M119.8 654.5h0M166.8 646.4h0M100.5 649.3h0M120.9 628.0h0M88.5 653.0h0M123.7 634.8h0M174.8 646.0h0M137.8 645.1h0M109.9 637.1h0M51.5 640.0h0M141.9 627.4h0M92.2 633.4h0M148.7 643.1h0M91.1 656.0h0M164.7 652.7h0M79.9 621.6h0M141.9 636.2h0M88.9 653.4h0M87.5 625.1h0M57.9 633.5h0M161.5 642.9h0M91.1 647.5h0M160.5 636.6h0M102.1 624.5h0M159.9 630.3h0M141.7 647.8h0M110.3 648.4h0M166.5 630.7h0M114.9 639.8h0M164.9 633.8h0M75.9 652.2h0M121.1 649.0h0M113.6 637.6h0M113.3 623.2h0M137.2 640.8h0M165.4 644.9h0M98.3 632.3h0M73.2 645.4h0M142.2 641.0h0M100.8 639.1h0M93.4 626.8h0M73.0 642.2h0M175.3 630.3h0M107.6 640.2h0M120.1 624.5h0M70.6 639.7h0M127.1 631.1h0M66.4 636.2h0M162.2 648.9h0M114.0 650.1h0M178.4 634.0h0M76.5 652.7h0M149.1 647.5h0M81.1 638.7h0M119.0 629.1h0M180.1 638.0h0M168.8 648.3h0M117.3 624.1h0M127.6 644.6h0M150.6 630.0h0M148.4 632.1h0M89.6 646.7h0M59.8 650.1h0M103.4 650.2h0M79.9 654.9h0M160.2 643.7h0M158.8 650.8h0M148.2 641.6h0M77.6 620.8h0M105.4 645.1h0M181.6 642.6h0M60.6 629.1h0M136.6 633.0h0M104.6 646.5h0M154.6 623.8h0M127.4 623.9h0M154.5 627.2h0M67.9 639.9h0M103.8 656.0h0M89.6 653.8h0M63.8 654.8h0M122.7 639.8h0M82.3 627.8h0M119.8 628.4h0M151.3 648.3h0M77.4 655.7h0M150.5 634.3h0M110.2 626.5h0M135.1 636.3h0M133.2 626.2h0M67.7 649.1h0M132.6 654.6h0M128.5 643.6h0M137.4 642.7h0M99.4 626.6h0M111.5 633.8h0M96.6 645.2h0M163.9 643.8h0M115.0 633.5h0M144.8 654.9h0M151.4 626.1h0M111.1 622.9h0M131.7 627.0h0M144.0 650.0h0M163.4 630.0h0M100.3 652.8h0M120.2 637.3h0M144.0 654.3h0M154.2 632.9h0M72.0 631.3h0M80.3 632.2h0M104.0 634.0h0M129.2 655.8h0M109.3 632.6h0M128.7 622.5h0M96.5 638.8h0M164.7 630.6h0M143.9 643.6h0M167.3 651.6h0M107.4 640.4h0M142.2 633.6h0M166.8 624.7h0M108.5 653.8h0M72.9 644.1h0M140.5 652.9h0M63.2 650.1h0M61.9 636.6h0M143.8 651.4h0M106.6 623.7h0M100.5 642.3h0M82.4 649.4h0M109.1 645.3h0M116.8 626.4h0M142.0 643.1h0M127.5 644.5h0M154.6 658.0h0M129.9 626.5h0M160.8 650.2h0M166.5 653.1h0M129.4 649.6h0M175.0 647.2h0M81.4 643.1h0M85.7 623.9h0M178.9 631.6h0M59.1 645.2h0M154.1 649.0h0M141.0 654.4h0M140.5 636.5h0M155.9 638.0h0M102.7 637.8h0M80.5 648.1h0M54.9 637.1h0M123.3 654.2h0M138.4 636.7h0M103.4 629.6h0M81.1 652.7h0M173.7 631.1h0M106.0 633.0h0M79.0 655.1h0M169.3 651.1h0M126.1 630.1h0M96.4 649.6h0M126.0 628.6h0M79.1 640.2h0M57.9 648.5h0M130.0 627.8h0M80.8 630.7h0M133.0 646.1h0M100.3 647.4h0M103.0 655.3h0M116.7 652.5h0M122.3 646.2h0M117.3 630.9h0M76.1 643.2h0M152.0 641.2h0M146.4 633.2h0M152.8 631.7h0M124.5 625.4h0M130.8 651.1h0M55.2 642.5h0M162.6 626.6h0M117.9 635.8h0M133.4 627.8h0M147.7 632.7h0M72.1 643.9h0M122.2 633.8h0M62.6 631.1h0M103.0 646.5h0M118.4 628.9h0M87.3 651.8h0M114.8 655.9h0M63.4 639.0h0M164.8 639.5h0M129.3 636.5h0M92.5 640.2h0M155.5 636.6h0M100.6 644.3h0M135.8 629.8h0M89.8 636.9h0M98.6 630.4h0M88.0 652.9h0M94.5 627.2h0M117.4 637.0h0M162.4 624.2h0M48.8 639.2h0M137.0 638.7h0M76.3 624.3h0M74.8 644.1h0M130.3 640.0h0M97.0 630.4h0M139.3 653.7h0M72.4 634.4h0M151.5 633.3h0M92.0 631.1h0M147.6 637.6h0M125.5 627.2h0M165.7 640.5h0M72.3 645.5h0M92.9 625.0h0M140.8 622.5h0M152.3 648.8h0M106.3 626.5h0M149.4 634.3h0M144.7 650.3h0M171.6 641.0h0M150.7 650.1h0M65.1 639.5h0M121.9 640.1h0M154.3 647.9h0M94.6 654.5h0M93.7 643.9h0M132.8 626.0h0M144.3 653.2h0M116.5 637.5h0M92.8 625.1h0M171.4 646.8h0M72.8 624.1h0M162.2 626.7h0M139.5 650.9h0M93.4 634.8h0M69.6 642.0h0M161.6 631.2h0M170.2 645.6h0M57.0 639.1h0M154.0 620.2h0M113.9 652.0h0M162.0 629.8h0M113.0 642.9h0M122.0 627.4h0M71.3 657.8h0M167.9 644.0h0M56.5 646.9h0M131.4 631.4h0M151.1 653.1h0M54.4 642.1h0M152.0 641.5h0M75.1 625.7h0M95.4 648.7h0M109.0 643.3h0M75.2 654.7h0M80.5 639.9h0M81.8 643.1h0M152.6 647.4h0M134.0 651.8h0M118.1 642.0h0M77.1 647.0h0M66.0 645.9h0M122.8 646.6h0M166.9 625.1h0M66.7 648.4h0M73.4 632.3h0M160.6 630.1h0M100.6 645.0h0M76.4 624.5h0M168.5 634.3h0M79.8 645.9h0M121.1 652.2h0M101.8 648.1h0M62.6 633.8h0M134.9 653.7h0M104.8 624.5h0M128.3 652.8h0M95.3 651.5h0M56.2 642.6h0M82.8 632.7h0M95.5 645.8h0M122.7 628.0h0M171.4 648.4h0M175.1 630.7h0M127.0 651.5h0M89.1 636.8h0M54.5 636.3h0M124.0 628.0h0M126.7 647.3h0M110.7 637.3h0M164.7 625.8h0M117.1 633.4h0M156.5 640.8h0M81.3 637.4h0M102.1 634.7h0M114.7 647.7h0M97.4 628.8h0M156.3 633.3h0M172.3 628.5h0M62.7 649.0h0M153.5 651.7h0M96.9 652.0h0M83.4 654.0h0M124.3 639.3h0M118.9 627.5h0M90.8 638.9h0M58.3 645.7h0M147.8 621.7h0M70.6 630.9h0M158.6 628.2h0M83.1 654.8h0M157.0 632.4h0M93.0 625.5h0M172.2 631.6h0M83.1 649.0h0M85.3 652.5h0M166.2 626.2h0M103.9 648.6h0M88.9 643.6h0M172.5 628.1h0M137.4 651.8h0M157.6 623.1h0M79.3 637.6h0M163.2 630.7h0M143.7 650.0h0M64.8 630.3h0M173.8 648.2h0M70.2 640.2h0M74.8 631.4h0M145.5 654.4h0M161.8 629.5h0M110.0 649.3h0M173.4 636.4h0M148.2 622.8h0M76.5 643.5h0M117.9 632.0h0M105.9 625.0h0M168.4 631.1h0M83.3 656.9h0M100.5 656.7h0M173.2 645.8h0M145.3 635.9h0M153.8 650.9h0M149.0 635.4h0M106.7 638.1h0M94.1 650.6h0M86.4 637.9h0M84.4 632.4h0M154.1 648.0h0M75.3 623.7h0M180.0 631.2h0M123.3 641.5h0M148.2 635.4h0M126.3 638.8h0M62.9 639.4h0M143.0 630.2h0M107.9 648.1h0M74.9 624.7h0M125.9 643.9h0M163.5 637.9h0M90.3 657.4h0M170.2 639.0h0M118.4 635.1h0M98.1 628.5h0M93.6 650.8h0M61.5 646.8h0M65.8 638.4h0M98.5 656.8h0M120.2 647.9h0M62.6 629.1h0M69.0 650.7h0M72.7 649.8h0M92.4 629.0h0M94.8 623.7h0M153.5 637.5h0M69.2 652.3h0M90.9 632.1h0M86.8 644.4h0M164.4 629.9h0M71.8 625.8h0M116.1 649.6h0M160.7 637.6h0M94.5 631.3h0M82.0 651.1h0M107.7 629.5h0M127.3 621.5h0M170.9 648.5h0M138.0 649.8h0M161.9 638.6h0M115.9 639.0h0M123.0 638.3h0M133.4 626.6h0M76.6 653.5h0M137.6 627.2h0M86.4 632.2h0M166.5 633.2h0M178.7 644.5h0M166.5 637.4h0M99.8 655.2h0M72.7 651.4h0M127.3 625.8h0M83.0 652.3h0M84.5 644.9h0M55.3 646.8h0M96.6 628.4h0M175.5 628.8h0M134.1 621.3h0M73.9 656.6h0M95.5 648.3h0M65.2 639.3h0M153.1 625.1h0M147.4 631.6h0M57.6 633.2h0M103.8 651.6h0M154.4 649.2h0M97.0 638.4h0M159.4 622.2h0M78.6 632.5h0M69.4 643.7h0M113.8 642.4h0M131.3 625.2h0M133.4 649.1h0M55.5 630.9h0M109.3 656.5h0M66.6 629.9h0M150.6 643.0h0M54.3 644.9h0M114.1 645.1h0M137.4 631.5h0M72.7 650.2h0M69.0 634.5h0M86.6 637.5h0M94.6 648.5h0M155.1 630.0h0M130.9 629.8h0M63.4 628.4h0M175.0 643.3h0M80.7 643.9h0M85.6 628.3h0M139.4 622.2h0M65.3 646.7h0M121.9 629.3h0M142.4 645.4h0M101.6 640.5h0M96.1 650.8h0M79.4 641.9h0M135.8 657.5h0M120.7 635.1h0M159.7 638.4h0M120.9 643.0h0M127.1 656.7h0M163.8 624.8h0M90.9 632.1h0M136.4 641.0h0M83.3 631.4h0M106.6 621.9h0M138.6 641.1h0M108.6 645.1h0M63.3 636.3h0M136.2 635.3h0M67.6 648.0h0M86.7 637.6h0M109.7 654.1h0M98.3 624.2h0M134.0 630.9h0M171.8 631.8h0M99.8 638.8h0M61.7 638.9h0M158.1 625.8h0M125.7 640.2h0M111.5 643.9h0M152.0 643.5h0M94.1 654.0h0M104.3 627.2h0M50.6 641.1h0M57.3 647.3h0M120.8 625.9h0M81.6 634.9h0M94.5 630.7h0M143.3 622.2h0M62.6 653.0h0M64.5 648.2h0M86.4 633.9h0M114.1 624.2h0M129.6 636.6h0M132.1 645.8h0M106.0 640.4h0M171.8 637.2h0M143.2 636.4h0M101.7 648.2h0M67.6 636.6h0M81.2 645.9h0M93.5 654.0h0M166.8 650.0h0M78.1 633.4h0M126.3 626.5h0M100.0 638.9h0M142.0 647.4h0M175.9 637.4h0M126.7 635.9h0M154.4 639.9h0M74.7 629.7h0M91.5 650.7h0M139.0 638.5h0M176.9 645.7h0M153.7 637.7h0M84.6 652.0h0M56.3 629.9h0M109.1 650.9h0M160.2 624.1h0M91.6 650.8h0M76.9 625.0h0M137.0 635.9h0M61.8 627.3h0M56.0 638.1h0M159.4 635.8h0M143.4 626.0h0M64.0 641.0h0M161.4 634.1h0M125.5 650.4h0M116.3 625.8h0M74.3 624.5h0M111.7 628.5h0M173.1 632.1h0M66.0 656.7h0M148.9 649.9h0M66.0 637.3h0M63.6 641.7h0M123.0 655.4h0M166.8 644.1h0M165.6 647.2h0M59.5 645.0h0M99.1 636.8h0M103.5 642.9h0M78.1 639.4h0M164.7 636.8h0M65.7 652.7h0M136.8 638.3h0M68.3 639.9h0M62.9 638.9h0M114.4 631.4h0M85.2 652.0h0M96.4 654.8h0M141.3 642.4h0M111.3 651.2h0M66.6 649.4h0M137.8 648.1h0M60.5 651.6h0M101.2 640.0h0M148.0 632.1h0M169.0 621.9h0M96.5 651.7h0M151.8 623.0h0M94.1 642.7h0M64.8 624.8h0M83.0 636.2h0M120.1 628.4h0M143.1 650.4h0M71.3 639.3h0M161.3 644.4h0M57.5 643.2h0M136.4 631.6h0M63.7 626.2h0M108.6 638.2h0M144.6 635.8h0M53.1 638.4h0M101.8 624.9h0M60.8 629.0h0M127.1 633.2h0M78.0 654.5h0M86.2 627.1h0M131.1 639.6h0M60.2 638.2h0M170.3 646.9h0M122.6 643.7h0M153.0 631.9h0M87.6 653.9h0M164.5 642.3h0M122.6 640.1h0M153.7 645.7h0M124.6 643.1h0M87.1 626.7h0M51.3 640.6h0M82.7 633.7h0M124.6 645.8h0M86.7 642.2h0M103.3 656.4h0M98.4 627.2h0M137.4 646.1h0M105.3 638.5h0M146.8 633.6h0M156.9 627.4h0M123.5 643.5h0M110.6 641.1h0M118.8 654.7h0M117.8 627.8h0M79.2 629.5h0M138.0 651.5h0M82.9 644.9h0M106.9 634.5h0M55.6 636.6h0M116.0 629.0h0M140.9 632.0h0M168.0 625.0h0M137.6 630.5h0M153.8 649.4h0M112.5 646.1h0M87.7 651.4h0M147.3 627.8h0M119.4 651.5h0M108.9 626.8h0M76.9 656.4h0M141.7 629.7h0M73.9 637.7h0M171.1 652.0h0M118.4 631.0h0M63.4 626.9h0M175.3 638.9h0M121.9 624.7h0M96.4 656.7h0M129.4 634.6h0M104.4 648.0h0M52.7 634.1h0M90.2 652.1h0M88.8 635.3h0M73.1 644.9h0M167.7 624.4h0M104.0 629.4h0M75.8 622.6h0M66.5 637.6h0M153.1 649.2h0M70.3 624.3h0M154.1 640.2h0M102.4 649.2h0M92.7 641.4h0M67.8 632.1h0M144.5 643.4h0M122.9 642.1h0M75.4 652.6h0M77.4 641.7h0M135.6 634.9h0M147.9 652.4h0M67.5 637.5h0M132.8 629.1h0M140.7 623.3h0M134.6 647.7h0M101.8 625.0h0M104.4 650.3h0M72.5 652.9h0M139.5 624.7h0M94.3 652.7h0M112.2 647.9h0M94.3 629.1h0M133.6 644.5h0M137.3 632.4h0M143.5 633.6h0M65.0 647.1h0M119.0 642.2h0M101.3 655.6h0M169.9 651.5h0M82.9 653.9h0M64.3 650.9h0M76.5 645.9h0M174.1 644.1h0M176.8 640.4h0M88.8 627.5h0M161.2 638.7h0M172.0 649.1h0M118.5 626.2h0M76.9 629.0h0M151.8 633.7h0M165.1 633.0h0M96.6 626.9h0M130.5 649.8h0M64.1 638.8h0M80.1 643.6h0M141.8 645.4h0M151.1 628.3h0M165.9 633.4h0M87.2 629.3h0M123.4 651.7h0M142.6 625.8h0M102.9 630.4h0M171.2 636.9h0M73.6 630.6h0M78.0 640.4h0M152.8 637.4h0M112.8 631.7h0M154.1 652.2h0M104.2 637.1h0M157.1 645.7h0M155.3 649.3h0M93.9 640.3h0M103.3 649.0h0M110.6 643.4h0M135.4 624.9h0M162.5 632.4h0M60.7 632.6h0M78.1 645.2h0M111.2 626.1h0M169.9 627.9h0M143.7 625.7h0M126.3 653.5h0M78.3 628.0h0M116.5 646.2h0M110.7 638.3h0M166.8 633.1h0M124.3 629.3h0M56.5 637.1h0M153.1 639.6h0M70.1 637.2h0M98.9 643.9h0M165.6 652.1h0M149.9 640.8h0M163.3 654.0h0M162.1 646.2h0M162.9 629.9h0M128.1 621.3h0M114.5 624.9h0M138.8 650.4h0M159.3 655.0h0M82.9 634.9h0M91.9 627.4h0M154.1 636.6h0M148.0 643.3h0M180.7 642.7h0M129.9 654.8h0M134.7 642.0h0M175.6 638.2h0M109.6 631.3h0M164.8 652.9h0M168.1 636.8h0M168.5 646.0h0M166.1 640.9h0M146.6 655.8h0M66.9 625.8h0M160.6 622.9h0M75.4 655.1h0M174.0 629.0h0M127.2 655.5h0M58.2 637.3h0M63.9 634.9h0M136.5 629.2h0M136.4 630.4h0M84.3 633.7h0M151.2 639.0h0M141.1 635.1h0M79.7 654.8h0M138.8 637.8h0M165.1 633.6h0M136.5 650.6h0M116.1 644.2h0M131.2 640.2h0M153.7 632.6h0M144.4 644.8h0M66.2 626.4h0M80.9 643.1h0M166.6 648.5h0M74.5 630.9h0M144.9 651.4h0M141.8 642.2h0M169.1 644.9h0M86.0 640.1h0M56.2 630.3h0M110.7 642.7h0M138.3 632.4h0M116.4 652.8h0M87.6 631.9h0M148.5 636.4h0M153.5 625.6h0M172.9 629.1h0M113.1 626.4h0M118.7 624.7h0M155.8 637.0h0M70.1 644.1h0M54.7 633.6h0M92.8 651.1h0M161.0 634.3h0M59.5 639.0h0M123.4 632.5h0M92.0 629.1h0M170.9 629.3h0M171.6 642.5h0M85.2 642.3h0M96.0 633.4h0M146.5 623.8h0M86.0 656.2h0M107.1 631.8h0M73.2 637.4h0M68.7 624.6h0M161.9 648.2h0M141.3 623.5h0M164.6 629.4h0M146.6 622.6h0M100.6 628.0h0M127.1 649.4h0M89.9 654.0h0M141.0 651.1h0M153.6 649.1h0M161.5 623.4h0M59.6 647.8h0M73.1 650.0h0M108.6 646.2h0M92.5 649.1h0M178.4 642.3h0M84.2 649.7h0M108.9 631.2h0M145.1 631.2h0M108.8 629.5h0M77.4 639.8h0M121.7 648.1h0M106.6 648.2h0M170.5 630.1h0M111.5 646.0h0M126.0 642.3h0M167.5 645.7h0M74.0 636.9h0M95.2 640.4h0M89.4 629.9h0M58.5 642.6h0M160.9 648.4h0M142.0 633.6h0M97.4 642.0h0M64.1 635.4h0M174.2 628.3h0M156.2 656.1h0M64.1 641.5h0M165.5 650.7h0M108.9 645.6h0M162.7 637.7h0M140.1 638.9h0M179.3 631.9h0M163.9 652.9h0M62.1 652.5h0M85.0 648.3h0M89.1 635.9h0M127.8 645.9h0M154.2 636.8h0M114.5 644.4h0M80.8 651.1h0M121.0 626.7h0M80.0 635.8h0M104.6 626.1h0M118.5 643.7h0M111.9 641.9h0M104.0 649.4h0M98.8 642.0h0M152.1 630.6h0M139.0 651.1h0M113.6 645.4h0M132.7 652.1h0M157.2 643.8h0M102.9 649.0h0M139.5 651.0h0M136.8 642.8h0M105.3 632.6h0M181.9 637.3h0M125.6 643.9h0M136.7 647.3h0M129.4 642.2h0M159.0 634.5h0M52.6 637.8h0M113.6 652.5h0M159.2 636.4h0M130.6 627.2h0M119.6 645.0h0M165.6 629.4h0M86.4 627.2h0M79.7 647.6h0M54.5 631.7h0M146.6 626.1h0M97.9 638.4h0M127.8 636.4h0M117.7 652.2h0M125.5 649.3h0M136.9 646.9h0M105.3 653.7h0M141.0 647.1h0M62.1 634.6h0M108.8 625.6h0M66.2 639.0h0M146.7 626.1h0M154.4 647.0h0M104.5 625.3h0M81.1 622.7h0M110.8 638.8h0M59.0 627.0h0M107.7 635.6h0M155.9 642.0h0M75.4 641.1h0M136.6 641.3h0M123.8 642.9h0M124.6 650.8h0M132.4 635.7h0M124.7 653.2h0M138.8 640.9h0M60.8 632.9h0M162.8 648.0h0M132.0 651.1h0M157.6 654.3h0M126.2 641.4h0M131.8 646.0h0M100.4 622.8h0M150.5 633.5h0M141.1 638.5h0M91.7 623.7h0M155.1 623.8h0M63.0 642.0h0M108.7 645.5h0M102.7 632.6h0M130.8 630.4h0M68.4 648.9h0M162.9 647.8h0M71.1 645.0h0M82.0 649.4h0M87.3 638.6h0M174.6 644.0h0M67.5 652.9h0M78.5 626.2h0M145.9 635.8h0M71.6 646.5h0M174.5 636.3h0M95.8 647.4h0M120.7 653.9h0M83.2 640.0h0M99.8 637.2h0M94.8 633.2h0M128.8 625.4h0M112.1 652.4h0M61.5 651.3h0M103.4 637.2h0M150.9 654.2h0M151.0 645.0h0M156.7 632.7h0M63.6 628.1h0M170.3 628.7h0M57.2 634.4h0M63.2 638.3h0M78.8 640.2h0M143.4 634.3h0M63.1 639.7h0M90.4 648.8h0M172.0 645.0h0M124.0 637.6h0M160.0 639.3h0M97.2 632.5h0M74.3 635.0h0M162.5 650.6h0M113.0 644.6h0M76.4 647.8h0M98.5 639.0h0M73.2 636.2h0M155.8 656.0h0M167.9 633.6h0M68.0 637.2h0M104.4 646.3h0M156.0 640.9h0M110.7 648.1h0M134.4 643.7h0M68.9 628.9h0M163.1 622.4h0M107.8 644.4h0M136.5 622.3h0M162.0 648.8h0M99.6 650.0h0M125.1 633.6h0M79.0 626.0h0M125.7 646.8h0M57.7 630.9h0M136.5 655.8h0M108.5 644.9h0M159.5 628.8h0M132.1 649.7h0M118.0 632.4h0M135.2 624.7h0M67.6 645.1h0M89.1 627.9h0M124.4 646.2h0M122.1 635.5h0M64.4 648.9h0M116.5 656.3h0M117.1 653.8h0M74.8 629.3h0M166.5 629.3h0M146.9 645.4h0M128.2 642.6h0M94.9 628.8h0M62.2 643.3h0M161.0 630.0h0M134.0 648.2h0M79.0 631.0h0M142.3 648.8h0M142.2 634.6h0M133.6 650.0h0M148.9 649.3h0M142.8 626.3h0M108.7 630.7h0M127.6 651.3h0M102.9 623.1h0M100.9 641.7h0M160.9 634.8h0M133.7 655.0h0M92.2 637.4h0M164.3 645.5h0M155.6 636.2h0M63.2 638.3h0M69.7 629.1h0M91.8 643.3h0M127.2 626.5h0M64.8 654.9h0M71.6 653.8h0M103.8 626.5h0M124.5 648.6h0M148.9 648.2h0M74.5 620.9h0M173.1 629.9h0M118.4 642.3h0M66.3 634.3h0M80.4 632.2h0M154.9 627.1h0M111.1 627.3h0M140.2 645.2h0M123.2 633.6h0M123.7 639.3h0M158.5 657.5h0M53.5 634.2h0M107.6 622.1h0M168.1 633.1h0M116.3 623.2h0M154.0 649.2h0M93.1 627.5h0M176.7 634.6h0M160.4 622.2h0M165.5 626.7h0M152.6 624.9h0M77.9 632.4h0M111.5 635.2h0M98.7 636.3h0M116.2 646.1h0M166.4 639.4h0M95.8 644.6h0M141.6 636.6h0M68.5 650.6h0M86.8 650.7h0M127.7 650.4h0M142.3 626.1h0M164.1 631.0h0M141.8 652.9h0M63.1 644.5h0M98.4 647.9h0M120.9 630.2h0M108.5 644.5h0M168.2 653.0h0M90.9 639.7h0M135.2 628.7h0M137.6 628.6h0M84.1 638.5h0M123.4 645.3h0M55.6 645.5h0M133.7 639.7h0M69.1 626.4h0M55.3 646.9h0M133.0 623.0h0M139.9 632.3h0M163.1 655.8h0M153.4 623.2h0M78.2 639.4h0M164.3 625.1h0M102.4 631.1h0M62.3 648.6h0M100.0 625.7h0M73.0 629.4h0M116.7 640.2h0M98.5 638.2h0M154.0 653.4h0M64.6 630.4h0M164.2 635.7h0M139.4 644.8h0M113.6 652.9h0M119.4 639.5h0M113.5 643.3h0M130.4 632.2h0M127.1 637.0h0M71.9 625.7h0M138.7 651.9h0M73.1 639.6h0M174.4 630.5h0M124.2 654.3h0M110.2 636.5h0M103.3 651.8h0M110.2 637.3h0M122.3 635.5h0M106.6 630.5h0M78.0 626.5h0M137.9 652.8h0M110.2 637.9h0M129.7 654.7h0M126.2 623.4h0M137.4 654.2h0M75.1 626.8h0M73.9 629.4h0M131.8 624.4h0M143.5 622.5h0M130.8 640.7h0M64.2 637.9h0M85.6 656.3h0M181.4 633.8h0M156.9 625.7h0M109.9 632.5h0M101.8 621.2h0M65.6 637.2h0M158.3 627.5h0M176.0 639.9h0M88.5 629.7h0M140.1 636.5h0M90.1 646.3h0M86.6 641.2h0M56.4 641.4h0M97.0 651.0h0M78.2 645.5h0M173.3 632.0h0M124.7 655.5h0M103.4 625.7h0M76.1 639.3h0M179.5 637.7h0M109.7 646.7h0M88.0 649.1h0M149.1 635.0h0M121.3 652.8h0M93.4 635.5h0M88.0 623.3h0M115.4 644.5h0M78.2 652.4h0M85.5 636.2h0M74.2 645.0h0M105.2 651.9h0M111.5 633.4h0M129.4 638.7h0M68.1 630.8h0M63.5 655.1h0M90.2 645.4h0M67.4 647.6h0M115.6 646.0h0M118.5 635.9h0M73.2 648.4h0M84.1 653.1h0M165.7 642.3h0M106.2 634.0h0M100.5 652.4h0M170.4 653.6h0M89.9 643.7h0M60.3 645.3h0M82.1 633.6h0M80.3 633.7h0M126.2 643.3h0M127.8 641.5h0M91.8 644.0h0M107.6 628.9h0M123.8 652.1h0M168.0 637.5h0M145.6 652.1h0M109.7 651.0h0M111.4 625.0h0M60.6 638.6h0M95.8 621.3h0M139.7 647.6h0M152.0 631.6h0M100.9 638.8h0M55.3 641.9h0M143.6 645.2h0M94.1 650.8h0M87.5 632.0h0M74.2 645.7h0M169.6 641.9h0M158.9 648.2h0M153.7 631.1h0M143.6 631.6h0M76.7 629.7h0M152.4 649.5h0M177.4 638.2h0M149.2 625.4h0M117.4 644.5h0M60.3 625.1h0M68.4 633.0h0M100.7 645.7h0M172.8 650.7h0M160.7 631.0h0M174.1 635.3h0M158.6 640.4h0M170.7 651.6h0M160.1 645.1h0M120.0 645.6h0M171.1 640.1h0M170.8 639.8h0M128.4 638.6h0M80.4 651.1h0M162.8 650.3h0M147.5 638.0h0M152.5 637.0h0M105.0 641.3h0M146.9 654.3h0M161.8 628.9h0M144.5 632.5h0M142.1 639.4h0M170.2 646.7h0M130.0 635.2h0M114.2 637.9h0M65.3 632.3h0M59.0 635.3h0M71.5 626.0h0M85.8 628.7h0M88.8 634.6h0M129.1 645.8h0M89.2 625.4h0M104.3 627.6h0M127.1 637.9h0M153.0 651.9h0M84.0 633.0h0M77.6 642.6h0M84.8 647.0h0M85.6 648.1h0M97.4 634.6h0M143.9 638.5h0M151.1 624.4h0M86.2 648.2h0M144.9 627.3h0M74.9 624.3h0M129.6 631.3h0M127.9 621.6h0M100.7 627.6h0M100.8 647.3h0M138.8 628.8h0M142.4 631.3h0M144.2 647.0h0M128.3 643.5h0M175.8 640.4h0M100.5 647.4h0M149.4 629.7h0M79.2 630.2h0M150.3 644.4h0M60.2 633.3h0M86.9 625.5h0M148.8 647.6h0M142.1 649.3h0M83.7 644.3h0M85.4 643.6h0M165.3 653.5h0M103.9 651.7h0M160.5 626.0h0M174.0 642.5h0M103.6 640.0h0M149.1 647.2h0M164.3 641.4h0M55.7 637.4h0M71.5 650.1h0M138.6 623.1h0M153.4 626.6h0M64.8 649.0h0M167.9 650.3h0M144.9 628.3h0M148.0 637.8h0M152.6 632.9h0M166.8 646.8h0M117.7 629.6h0M69.6 636.1h0M85.1 634.7h0M77.3 633.1h0M146.3 632.2h0M163.4 635.9h0M117.3 635.6h0M177.9 642.9h0M73.9 621.3h0M78.5 631.1h0M57.0 629.4h0M141.1 643.1h0M122.8 653.4h0M125.0 635.5h0M167.6 625.3h0M135.2 649.4h0M142.7 638.0h0M119.0 640.8h0M178.7 649.1h0M120.4 625.5h0M62.9 625.8h0M114.4 636.7h0M64.2 625.5h0M98.7 644.7h0M102.4 650.8h0M65.6 628.0h0M49.9 639.7h0M166.9 624.7h0M99.3 641.2h0M82.3 635.6h0M76.6 654.8h0M75.7 654.4h0M131.2 647.4h0M75.4 624.6h0M88.3 628.3h0M78.8 623.9h0M166.6 624.4h0M59.2 630.6h0M117.2 645.8h0M71.1 629.1h0M151.3 625.3h0M53.0 642.2h0M121.7 627.2h0M88.4 642.6h0M171.5 640.5h0M69.4 654.0h0M59.5 629.3h0M58.4 637.2h0M147.3 627.4h0M139.3 627.5h0M85.8 653.0h0M139.4 639.8h0M137.2 653.9h0M67.5 647.9h0M73.2 647.9h0M137.4 621.7h0M146.5 638.6h0M72.0 652.4h0M136.8 655.3h0M141.8 620.5h0M67.5 636.4h0M125.9 638.1h0M80.1 651.6h0M120.9 621.3h0M112.9 646.2h0M85.1 648.7h0M86.5 627.4h0M113.4 624.3h0M106.2 649.2h0M148.9 649.6h0M172.3 628.7h0M73.8 624.5h0M118.5 640.5h0M128.8 627.9h0M128.6 646.2h0M146.7 638.5h0M63.1 633.6h0M71.9 634.2h0M170.2 643.3h0M133.3 639.7h0M124.6 631.2h0M131.9 633.4h0M87.6 630.8h0M115.5 640.9h0M84.9 650.5h0M92.1 652.0h0M139.9 647.3h0M78.9 635.9h0M133.3 641.7h0M96.6 655.0h0M68.7 627.4h0M87.9 635.6h0M90.9 638.8h0M85.9 653.5h0M168.9 646.9h0M121.5 649.5h0M126.7 636.8h0M178.2 641.8h0M128.6 641.4h0M54.2 640.9h0M163.8 624.7h0M164.6 626.1h0M118.2 627.0h0M129.5 650.1h0M100.0 625.4h0M73.9 622.7h0M163.6 624.1h0M89.4 628.3h0M154.2 643.4h0M81.4 641.8h0M87.5 638.3h0M100.3 623.8h0M111.2 643.3h0M83.4 624.7h0M64.5 649.0h0M98.8 656.3h0M119.9 654.6h0M102.1 650.2h0M74.6 633.4h0M122.8 646.0h0M99.9 646.4h0M114.7 650.1h0M108.4 654.7h0M65.1 654.5h0M140.0 635.4h0M141.5 636.9h0M66.9 637.0h0M148.8 625.7h0M73.6 640.0h0M138.2 626.7h0M109.4 641.1h0M95.2 644.9h0M147.1 640.6h0M57.7 630.4h0M118.8 638.9h0M144.7 637.5h0M103.4 649.4h0M129.1 634.3h0M180.2 637.4h0M152.3 647.3h0M121.1 648.4h0M142.2 630.3h0M80.6 628.6h0M115.6 641.8h0M88.3 647.1h0M94.5 650.6h0M173.1 642.9h0M160.2 631.9h0M93.8 641.8h0M73.3 651.2h0M150.8 651.4h0M132.9 625.3h0M173.3 641.2h0M134.8 638.0h0M162.8 626.3h0M157.5 649.6h0M91.1 652.8h0M138.6 630.7h0M66.8 656.3h0M72.8 635.8h0M179.6 645.1h0M114.2 621.8h0M87.8 640.8h0M69.7 649.9h0M157.2 623.4h0M125.5 625.6h0M78.9 624.3h0M86.6 652.8h0M135.1 625.9h0M112.5 630.2h0M85.4 639.4h0M91.1 655.5h0M126.1 622.6h0M88.6 638.3h0M54.1 648.0h0M159.0 632.6h0M122.1 636.7h0M97.3 630.7h0M167.8 649.9h0M153.1 654.1h0M105.7 625.9h0M179.7 639.3h0M80.7 634.0h0M94.9 633.5h0M176.4 636.6h0M167.0 631.4h0M115.2 644.8h0M154.1 643.1h0M151.5 634.4h0M167.1 646.0h0M141.8 642.7h0M66.0 643.0h0M100.8 635.1h0M72.7 639.5h0M147.7 642.9h0M61.3 654.3h0M161.3 641.4h0M130.1 632.0h0M160.7 638.9h0M92.6 655.5h0M81.9 628.1h0M147.5 631.5h0M166.7 630.3h0M109.7 630.7h0M89.5 632.8h0M106.2 626.2h0M138.4 637.2h0M147.5 645.5h0M111.3 654.7h0M73.4 651.2h0M104.9 631.2h0M69.3 649.2h0M96.5 639.3h0M110.7 640.1h0M108.6 646.0h0M104.7 645.2h0M168.5 627.6h0M169.8 646.7h0M96.6 656.6h0M155.3 642.0h0M78.5 653.5h0M171.0 626.3h0M59.0 647.4h0M85.3 633.9h0M158.5 639.9h0M141.0 623.2h0M162.9 645.9h0M80.0 639.8h0M71.8 643.6h0M118.3 623.4h0M109.8 646.5h0M63.0 639.2h0M113.0 632.0h0M179.3 635.0h0M123.3 651.3h0M117.2 645.9h0M73.9 627.2h0M89.7 646.6h0M115.3 629.5h0M167.1 622.3h0M169.0 645.0h0M91.8 629.7h0M98.9 623.9h0M107.4 643.4h0M106.9 654.0h0M95.3 646.2h0M79.7 623.4h0M120.5 634.8h0M109.3 637.3h0M101.6 652.6h0M71.4 649.3h0M90.1 643.1h0M133.3 626.1h0M122.1 642.4h0M100.0 626.5h0M98.1 623.6h0M93.6 634.6h0M125.8 642.0h0M108.5 653.8h0M180.9 634.9h0M99.4 624.1h0M143.2 648.5h0M145.1 645.6h0M81.8 629.1h0M141.5 635.3h0M81.4 636.2h0M119.7 627.9h0M67.8 642.8h0M85.1 635.1h0M56.8 630.4h0M174.2 635.0h0M122.7 634.3h0M68.8 642.6h0M133.3 649.6h0M118.3 637.1h0M142.2 650.0h0M157.8 623.9h0M175.8 635.6h0M146.2 649.6h0M51.1 633.6h0M148.2 630.8h0M82.1 648.8h0M144.1 622.4h0M154.4 640.9h0M136.8 640.2h0M71.1 638.3h0M97.1 630.6h0M94.0 636.7h0M165.6 625.7h0M115.5 648.8h0M60.1 644.6h0M122.8 628.1h0M116.6 627.2h0M171.2 639.8h0M134.2 644.3h0M69.2 653.6h0M97.5 635.1h0M132.6 622.3h0M157.6 636.0h0M62.0 629.3h0M54.4 630.9h0M169.1 650.6h0M146.1 651.6h0M60.3 652.4h0M83.3 638.9h0M89.0 627.1h0M148.1 648.6h0M64.9 634.8h0M83.2 625.2h0M114.8 639.4h0M174.8 642.3h0M171.9 647.8h0M78.3 650.7h0M111.2 653.0h0M101.1 642.8h0M89.4 643.7h0M169.8 630.5h0M61.1 637.6h0M94.6 634.7h0M126.5 637.2h0M119.5 657.9h0M64.3 624.9h0M78.9 644.6h0M104.2 637.2h0M88.4 639.0h0M173.3 627.4h0M165.3 650.4h0M161.0 645.9h0M174.1 632.7h0M107.7 648.2h0M158.2 628.0h0M69.0 623.7h0M80.0 622.4h0M90.7 646.4h0M100.1 652.1h0M79.1 646.5h0M130.2 627.2h0M126.8 628.0h0M86.9 625.0h0M149.1 621.8h0M103.7 640.2h0M160.7 640.3h0M124.8 642.4h0M117.5 634.0h0M108.8 627.5h0M123.4 650.7h0M159.2 646.7h0M154.2 654.1h0M150.8 637.4h0M104.7 634.7h0M76.0 649.3h0M108.5 627.6h0M56.9 642.4h0M85.7 636.6h0M128.2 622.6h0M66.1 642.0h0M105.3 647.0h0M157.0 649.8h0M168.5 646.0h0M104.9 651.8h0M83.8 647.5h0M74.5 633.0h0M82.3 636.6h0M103.9 655.4h0M82.7 629.9h0M145.7 627.3h0M169.4 641.7h0M153.7 632.7h0M96.0 639.0h0M114.0 628.1h0M115.7 635.4h0M166.7 632.6h0M131.6 644.3h0M125.9 622.7h0M169.7 652.9h0M91.4 642.1h0M166.6 645.2h0M59.1 644.1h0M123.1 645.5h0M148.8 644.0h0M101.8 624.3h0M81.1 631.7h0M115.0 621.2h0M94.6 641.4h0M98.3 630.5h0M115.4 655.3h0M60.1 636.5h0M104.7 648.3h0M96.8 639.8h0M99.7 649.5h0M71.5 643.6h0M104.1 647.8h0M93.1 645.3h0M113.2 648.0h0M124.9 625.9h0M109.9 638.3h0M70.8 631.8h0M144.1 634.1h0M130.3 620.1h0M59.8 634.4h0M109.8 653.3h0M122.9 635.3h0M91.0 628.5h0M159.9 624.7h0M121.0 643.3h0M174.7 638.7h0M80.0 638.3h0M76.9 638.6h0M59.1 632.3h0M151.0 623.3h0M99.4 623.5h0M99.3 632.1h0M132.2 633.1h0M68.5 621.6h0M122.3 631.9h0M142.0 645.5h0M119.5 631.8h0M104.7 651.9h0M54.1 639.7h0M99.9 638.3h0M111.8 649.8h0M162.5 632.2h0M166.7 627.5h0M108.9 633.5h0M125.9 646.0h0M150.4 630.2h0M166.5 649.2h0M59.9 646.5h0M115.2 627.4h0M67.3 642.8h0M136.9 630.9h0M168.2 645.0h0M126.6 650.2h0M103.3 641.9h0M114.3 629.5h0M141.4 624.7h0M112.5 626.0h0M166.3 634.8h0M181.5 643.1h0M148.5 657.0h0M157.1 623.6h0M126.9 629.3h0M68.1 644.3h0M73.2 644.7h0M67.1 631.5h0M160.5 639.3h0M74.5 624.9h0M123.6 647.1h0M130.8 626.0h0M117.1 655.5h0M133.5 631.9h0M100.7 645.3h0M155.4 633.3h0M85.8 653.6h0M78.5 642.3h0M113.8 652.1h0M95.8 640.7h0M75.7 623.7h0M158.6 641.1h0M175.4 628.7h0M103.1 653.8h0M151.4 624.7h0M128.5 622.6h0M149.2 641.4h0M158.6 636.3h0M145.4 657.7h0M112.3 646.0h0M109.3 639.4h0M150.4 629.8h0M107.8 634.8h0M165.0 626.2h0M62.0 638.1h0M63.9 624.6h0M138.6 653.4h0M114.3 624.5h0M85.0 644.3h0M161.3 652.6h0M177.8 637.3h0M74.7 638.9h0M159.8 633.9h0M167.3 655.1h0M151.7 634.6h0M168.1 640.2h0M91.7 654.8h0M146.9 642.5h0M138.9 650.6h0M95.4 644.5h0M150.5 630.2h0M81.9 634.7h0M113.0 634.5h0M81.2 626.6h0M147.0 637.6h0M74.3 629.4h0M148.5 634.6h0M108.7 652.6h0M158.6 640.0h0M70.9 639.0h0M120.2 636.3h0" stroke="#2db42d" stroke-width="1.2" stroke-linecap="round" fill="none" opacity=".8"/>
<rect x="43.9" y="607.7" width="146.6" height="64.29999999999995" fill="none" stroke="#111" stroke-width="1.4"/>
<text x="57.4" y="684.0" font-size="9" text-anchor="middle">-1.0</text>
<text x="86.9" y="684.0" font-size="9" text-anchor="middle">-0.5</text>
<text x="117.1" y="684.0" font-size="9" text-anchor="middle">0.0</text>
<text x="146.6" y="684.0" font-size="9" text-anchor="middle">0.5</text>
<text x="175.8" y="684.0" font-size="9" text-anchor="middle">1.0</text>
<text x="40.3" y="613.4" font-size="9" text-anchor="end">0.5</text>
<text x="40.3" y="642.3" font-size="9" text-anchor="end">0.0</text>
<text x="40.3" y="670.5" font-size="9" text-anchor="end">-0.5</text>
<text x="111.4" y="697.7" font-size="9.5" text-anchor="middle">(μm)</text>
<rect x="273.15" y="667.80" width="5.44" height="19.80" fill="#1f77b4"/>
<rect x="279.69" y="638.91" width="5.44" height="48.69" fill="#1f77b4"/>
<rect x="286.23" y="612.67" width="5.44" height="74.93" fill="#1f77b4"/>
<rect x="292.78" y="592.03" width="5.44" height="95.57" fill="#1f77b4"/>
<rect x="299.32" y="589.50" width="5.44" height="98.10" fill="#1f77b4"/>
<rect x="305.86" y="593.84" width="5.44" height="93.76" fill="#1f77b4"/>
<rect x="312.40" y="597.10" width="5.44" height="90.50" fill="#1f77b4"/>
<rect x="318.94" y="599.63" width="5.44" height="87.97" fill="#1f77b4"/>
<rect x="325.49" y="615.56" width="5.44" height="72.04" fill="#1f77b4"/>
<rect x="332.03" y="616.29" width="5.44" height="71.31" fill="#1f77b4"/>
<rect x="338.57" y="627.15" width="5.44" height="60.45" fill="#1f77b4"/>
<rect x="345.11" y="635.83" width="5.44" height="51.77" fill="#1f77b4"/>
<rect x="351.66" y="639.09" width="5.44" height="48.51" fill="#1f77b4"/>
<rect x="358.20" y="645.97" width="5.44" height="41.63" fill="#1f77b4"/>
<rect x="364.74" y="647.42" width="5.44" height="40.18" fill="#1f77b4"/>
<rect x="371.28" y="651.76" width="5.44" height="35.84" fill="#1f77b4"/>
<rect x="377.82" y="655.38" width="5.44" height="32.22" fill="#1f77b4"/>
<rect x="384.37" y="654.66" width="5.44" height="32.94" fill="#1f77b4"/>
<rect x="390.91" y="652.49" width="5.44" height="35.11" fill="#1f77b4"/>
<path d="M272.0 688.3 C272.6 685.4 274.0 677.6 275.4 670.8 C276.8 664.0 278.5 656.0 280.4 647.3 C282.4 638.6 284.9 626.9 287.2 618.8 C289.4 610.6 291.6 603.7 293.9 598.6 C296.1 593.6 298.4 590.8 300.6 588.5 C302.8 586.3 305.1 585.4 307.3 585.2 C309.5 585.0 311.8 586.1 314.0 587.5 C316.3 588.9 318.5 590.9 320.7 593.6 C323.0 596.3 325.2 600.0 327.5 603.7 C329.7 607.3 331.9 611.5 334.2 615.4 C336.4 619.3 338.6 623.5 340.9 627.2 C343.1 630.8 345.4 634.4 347.6 637.2 C349.8 640.0 352.1 642.1 354.3 643.9 C356.6 645.8 358.8 647.2 361.0 648.3 C363.3 649.4 365.5 650.1 367.8 650.7 C370.0 651.2 372.2 651.5 374.5 651.7 C376.7 651.8 378.9 651.8 381.2 651.7 C383.4 651.5 385.1 651.1 387.9 650.7 C390.7 650.2 396.3 649.3 398.0 649.0" stroke="#e8141c" stroke-width="1.3" fill="none"/>
<rect x="265.3" y="580.1" width="138.39999999999998" height="108.19999999999993" fill="none" stroke="#111" stroke-width="1.4"/>
<line x1="272.00" y1="688.30" x2="272.00" y2="690.30" stroke="#111" stroke-width="0.7"/>
<text x="271.5" y="700.5" font-size="9" text-anchor="middle">0.0</text>
<line x1="314.00" y1="688.30" x2="314.00" y2="690.30" stroke="#111" stroke-width="0.7"/>
<text x="313.5" y="700.5" font-size="9" text-anchor="middle">0.2</text>
<line x1="356.00" y1="688.30" x2="356.00" y2="690.30" stroke="#111" stroke-width="0.7"/>
<text x="355.5" y="700.5" font-size="9" text-anchor="middle">0.4</text>
<line x1="398.00" y1="688.30" x2="398.00" y2="690.30" stroke="#111" stroke-width="0.7"/>
<text x="397.5" y="700.5" font-size="9" text-anchor="middle">0.6</text>
<line x1="263.30" y1="687.60" x2="265.30" y2="687.60" stroke="#111" stroke-width="0.7"/>
<text x="261.5" y="690.8" font-size="9" text-anchor="end">0</text>
<line x1="263.30" y1="669.50" x2="265.30" y2="669.50" stroke="#111" stroke-width="0.7"/>
<text x="261.5" y="672.7" font-size="9" text-anchor="end">0.5</text>
<line x1="263.30" y1="651.40" x2="265.30" y2="651.40" stroke="#111" stroke-width="0.7"/>
<text x="261.5" y="654.6" font-size="9" text-anchor="end">1</text>
<line x1="263.30" y1="633.30" x2="265.30" y2="633.30" stroke="#111" stroke-width="0.7"/>
<text x="261.5" y="636.5" font-size="9" text-anchor="end">1.5</text>
<line x1="263.30" y1="615.20" x2="265.30" y2="615.20" stroke="#111" stroke-width="0.7"/>
<text x="261.5" y="618.4" font-size="9" text-anchor="end">2</text>
<line x1="263.30" y1="597.10" x2="265.30" y2="597.10" stroke="#111" stroke-width="0.7"/>
<text x="261.5" y="600.3" font-size="9" text-anchor="end">2.5</text>
<text x="239.4" y="632.0" font-size="9.3" text-anchor="middle" transform="rotate(-90 239.4 632.0)">Probability density</text>
<text x="337.5" y="711.4" font-size="9.5" text-anchor="middle">Displacement (μm)</text>
<text x="334" y="595" font-size="9.6">D<tspan font-size="5.5" dy="2" font-style="italic">L</tspan><tspan dy="-2"> = 8.68 μm²/s</tspan></text>
<g shape-rendering="crispEdges">
<rect x="462.80" y="578.60" width="172.00" height="47.70" fill="#440154"/>
<rect x="462.80" y="589.61" width="3.74" height="3.67" fill="#451061"/>
<rect x="462.80" y="593.28" width="3.74" height="3.67" fill="#461868"/>
<rect x="462.80" y="596.95" width="3.74" height="3.67" fill="#461a6a"/>
<rect x="462.80" y="600.62" width="3.74" height="3.67" fill="#3f4686"/>
<rect x="462.80" y="604.28" width="3.74" height="3.67" fill="#440658"/>
<rect x="462.80" y="607.95" width="3.74" height="3.67" fill="#450d5f"/>
<rect x="462.80" y="611.62" width="3.74" height="3.67" fill="#461c6c"/>
<rect x="462.80" y="615.29" width="3.74" height="3.67" fill="#44085a"/>
<rect x="466.54" y="585.94" width="3.74" height="3.67" fill="#450a5c"/>
<rect x="466.54" y="589.61" width="3.74" height="3.67" fill="#461969"/>
<rect x="466.54" y="593.28" width="3.74" height="3.67" fill="#3d4d89"/>
<rect x="466.54" y="596.95" width="3.74" height="3.67" fill="#3c4f8a"/>
<rect x="466.54" y="600.62" width="3.74" height="3.67" fill="#34618c"/>
<rect x="466.54" y="604.28" width="3.74" height="3.67" fill="#33628d"/>
<rect x="466.54" y="607.95" width="3.74" height="3.67" fill="#39578b"/>
<rect x="466.54" y="611.62" width="3.74" height="3.67" fill="#451465"/>
<rect x="466.54" y="615.29" width="3.74" height="3.67" fill="#461f6f"/>
<rect x="470.28" y="582.27" width="3.74" height="3.67" fill="#440759"/>
<rect x="470.28" y="585.94" width="3.74" height="3.67" fill="#451061"/>
<rect x="470.28" y="589.61" width="3.74" height="3.67" fill="#3a558b"/>
<rect x="470.28" y="593.28" width="3.74" height="3.67" fill="#3b528b"/>
<rect x="470.28" y="596.95" width="3.74" height="3.67" fill="#21908c"/>
<rect x="470.28" y="600.62" width="3.74" height="3.67" fill="#24888d"/>
<rect x="470.28" y="604.28" width="3.74" height="3.67" fill="#2c738e"/>
<rect x="470.28" y="607.95" width="3.74" height="3.67" fill="#3a548b"/>
<rect x="470.28" y="611.62" width="3.74" height="3.67" fill="#355f8c"/>
<rect x="470.28" y="615.29" width="3.74" height="3.67" fill="#44085a"/>
<rect x="470.28" y="618.96" width="3.74" height="3.67" fill="#440759"/>
<rect x="474.02" y="582.27" width="3.74" height="3.67" fill="#461f6e"/>
<rect x="474.02" y="585.94" width="3.74" height="3.67" fill="#3e4987"/>
<rect x="474.02" y="589.61" width="3.74" height="3.67" fill="#3d4b88"/>
<rect x="474.02" y="593.28" width="3.74" height="3.67" fill="#25868d"/>
<rect x="474.02" y="596.95" width="3.74" height="3.67" fill="#2e6f8e"/>
<rect x="474.02" y="600.62" width="3.74" height="3.67" fill="#355e8c"/>
<rect x="474.02" y="604.28" width="3.74" height="3.67" fill="#375b8c"/>
<rect x="474.02" y="607.95" width="3.74" height="3.67" fill="#365d8c"/>
<rect x="474.02" y="611.62" width="3.74" height="3.67" fill="#2c728e"/>
<rect x="474.02" y="615.29" width="3.74" height="3.67" fill="#355e8c"/>
<rect x="474.02" y="618.96" width="3.74" height="3.67" fill="#44085a"/>
<rect x="474.02" y="622.63" width="3.74" height="3.67" fill="#451565"/>
<rect x="477.76" y="578.60" width="3.74" height="3.67" fill="#461a6a"/>
<rect x="477.76" y="582.27" width="3.74" height="3.67" fill="#450c5e"/>
<rect x="477.76" y="585.94" width="3.74" height="3.67" fill="#3a558b"/>
<rect x="477.76" y="589.61" width="3.74" height="3.67" fill="#33638d"/>
<rect x="477.76" y="593.28" width="3.74" height="3.67" fill="#297a8d"/>
<rect x="477.76" y="596.95" width="3.74" height="3.67" fill="#2f6b8d"/>
<rect x="477.76" y="600.62" width="3.74" height="3.67" fill="#26848d"/>
<rect x="477.76" y="604.28" width="3.74" height="3.67" fill="#27818d"/>
<rect x="477.76" y="607.95" width="3.74" height="3.67" fill="#228e8c"/>
<rect x="477.76" y="611.62" width="3.74" height="3.67" fill="#45bd70"/>
<rect x="477.76" y="615.29" width="3.74" height="3.67" fill="#33648d"/>
<rect x="477.76" y="618.96" width="3.74" height="3.67" fill="#404184"/>
<rect x="477.76" y="622.63" width="3.74" height="3.67" fill="#450e60"/>
<rect x="481.50" y="578.60" width="3.74" height="3.67" fill="#461969"/>
<rect x="481.50" y="582.27" width="3.74" height="3.67" fill="#433a81"/>
<rect x="481.50" y="585.94" width="3.74" height="3.67" fill="#32668d"/>
<rect x="481.50" y="589.61" width="3.74" height="3.67" fill="#29798e"/>
<rect x="481.50" y="593.28" width="3.74" height="3.67" fill="#31688d"/>
<rect x="481.50" y="596.95" width="3.74" height="3.67" fill="#25a185"/>
<rect x="481.50" y="600.62" width="3.74" height="3.67" fill="#238c8c"/>
<rect x="481.50" y="604.28" width="3.74" height="3.67" fill="#2aaf7f"/>
<rect x="481.50" y="607.95" width="3.74" height="3.67" fill="#297a8d"/>
<rect x="481.50" y="611.62" width="3.74" height="3.67" fill="#27818d"/>
<rect x="481.50" y="615.29" width="3.74" height="3.67" fill="#228f8c"/>
<rect x="481.50" y="618.96" width="3.74" height="3.67" fill="#38598c"/>
<rect x="481.50" y="622.63" width="3.74" height="3.67" fill="#451364"/>
<rect x="485.23" y="578.60" width="3.74" height="3.67" fill="#450d5f"/>
<rect x="485.23" y="582.27" width="3.74" height="3.67" fill="#33628d"/>
<rect x="485.23" y="585.94" width="3.74" height="3.67" fill="#26828d"/>
<rect x="485.23" y="589.61" width="3.74" height="3.67" fill="#239a88"/>
<rect x="485.23" y="593.28" width="3.74" height="3.67" fill="#2f6c8d"/>
<rect x="485.23" y="596.95" width="3.74" height="3.67" fill="#29ae7f"/>
<rect x="485.23" y="600.62" width="3.74" height="3.67" fill="#21918c"/>
<rect x="485.23" y="604.28" width="3.74" height="3.67" fill="#24898d"/>
<rect x="485.23" y="607.95" width="3.74" height="3.67" fill="#2c728e"/>
<rect x="485.23" y="611.62" width="3.74" height="3.67" fill="#27818d"/>
<rect x="485.23" y="615.29" width="3.74" height="3.67" fill="#2d6f8e"/>
<rect x="485.23" y="618.96" width="3.74" height="3.67" fill="#404184"/>
<rect x="485.23" y="622.63" width="3.74" height="3.67" fill="#461f6e"/>
<rect x="488.97" y="578.60" width="3.74" height="3.67" fill="#451566"/>
<rect x="488.97" y="582.27" width="3.74" height="3.67" fill="#2f6b8d"/>
<rect x="488.97" y="585.94" width="3.74" height="3.67" fill="#32658d"/>
<rect x="488.97" y="589.61" width="3.74" height="3.67" fill="#26838d"/>
<rect x="488.97" y="593.28" width="3.74" height="3.67" fill="#26a484"/>
<rect x="488.97" y="596.95" width="3.74" height="3.67" fill="#249d87"/>
<rect x="488.97" y="600.62" width="3.74" height="3.67" fill="#25a185"/>
<rect x="488.97" y="604.28" width="3.74" height="3.67" fill="#26838d"/>
<rect x="488.97" y="607.95" width="3.74" height="3.67" fill="#249c87"/>
<rect x="488.97" y="611.62" width="3.74" height="3.67" fill="#238c8c"/>
<rect x="488.97" y="615.29" width="3.74" height="3.67" fill="#35608c"/>
<rect x="488.97" y="618.96" width="3.74" height="3.67" fill="#26838d"/>
<rect x="488.97" y="622.63" width="3.74" height="3.67" fill="#3c4f8a"/>
<rect x="492.71" y="578.60" width="3.74" height="3.67" fill="#451767"/>
<rect x="492.71" y="582.27" width="3.74" height="3.67" fill="#3e4887"/>
<rect x="492.71" y="585.94" width="3.74" height="3.67" fill="#375a8c"/>
<rect x="492.71" y="589.61" width="3.74" height="3.67" fill="#26a584"/>
<rect x="492.71" y="593.28" width="3.74" height="3.67" fill="#27ab81"/>
<rect x="492.71" y="596.95" width="3.74" height="3.67" fill="#27aa82"/>
<rect x="492.71" y="600.62" width="3.74" height="3.67" fill="#27a982"/>
<rect x="492.71" y="604.28" width="3.74" height="3.67" fill="#28ac81"/>
<rect x="492.71" y="607.95" width="3.74" height="3.67" fill="#26a883"/>
<rect x="492.71" y="611.62" width="3.74" height="3.67" fill="#26a584"/>
<rect x="492.71" y="615.29" width="3.74" height="3.67" fill="#2a798e"/>
<rect x="492.71" y="618.96" width="3.74" height="3.67" fill="#33628d"/>
<rect x="492.71" y="622.63" width="3.74" height="3.67" fill="#3b538b"/>
<rect x="496.45" y="578.60" width="3.74" height="3.67" fill="#45095b"/>
<rect x="496.45" y="582.27" width="3.74" height="3.67" fill="#34608c"/>
<rect x="496.45" y="585.94" width="3.74" height="3.67" fill="#2b758e"/>
<rect x="496.45" y="589.61" width="3.74" height="3.67" fill="#2c738e"/>
<rect x="496.45" y="593.28" width="3.74" height="3.67" fill="#2a778e"/>
<rect x="496.45" y="596.95" width="3.74" height="3.67" fill="#249f86"/>
<rect x="496.45" y="600.62" width="3.74" height="3.67" fill="#248a8c"/>
<rect x="496.45" y="604.28" width="3.74" height="3.67" fill="#249e86"/>
<rect x="496.45" y="607.95" width="3.74" height="3.67" fill="#249c88"/>
<rect x="496.45" y="611.62" width="3.74" height="3.67" fill="#27808d"/>
<rect x="496.45" y="615.29" width="3.74" height="3.67" fill="#2b758e"/>
<rect x="496.45" y="618.96" width="3.74" height="3.67" fill="#3b518b"/>
<rect x="496.45" y="622.63" width="3.74" height="3.67" fill="#404485"/>
<rect x="500.19" y="578.60" width="3.74" height="3.67" fill="#451465"/>
<rect x="500.19" y="582.27" width="3.74" height="3.67" fill="#24878d"/>
<rect x="500.19" y="585.94" width="3.74" height="3.67" fill="#26828d"/>
<rect x="500.19" y="589.61" width="3.74" height="3.67" fill="#21908c"/>
<rect x="500.19" y="593.28" width="3.74" height="3.67" fill="#2eb17d"/>
<rect x="500.19" y="596.95" width="3.74" height="3.67" fill="#26838d"/>
<rect x="500.19" y="600.62" width="3.74" height="3.67" fill="#22968a"/>
<rect x="500.19" y="604.28" width="3.74" height="3.67" fill="#27aa82"/>
<rect x="500.19" y="607.95" width="3.74" height="3.67" fill="#25878d"/>
<rect x="500.19" y="611.62" width="3.74" height="3.67" fill="#21918c"/>
<rect x="500.19" y="615.29" width="3.74" height="3.67" fill="#2f6b8d"/>
<rect x="500.19" y="618.96" width="3.74" height="3.67" fill="#297b8d"/>
<rect x="500.19" y="622.63" width="3.74" height="3.67" fill="#39568b"/>
<rect x="503.93" y="578.60" width="3.74" height="3.67" fill="#461c6c"/>
<rect x="503.93" y="582.27" width="3.74" height="3.67" fill="#34618c"/>
<rect x="503.93" y="585.94" width="3.74" height="3.67" fill="#26838d"/>
<rect x="503.93" y="589.61" width="3.74" height="3.67" fill="#228f8c"/>
<rect x="503.93" y="593.28" width="3.74" height="3.67" fill="#2a788e"/>
<rect x="503.93" y="596.95" width="3.74" height="3.67" fill="#22958a"/>
<rect x="503.93" y="600.62" width="3.74" height="3.67" fill="#228f8c"/>
<rect x="503.93" y="604.28" width="3.74" height="3.67" fill="#26a584"/>
<rect x="503.93" y="607.95" width="3.74" height="3.67" fill="#239789"/>
<rect x="503.93" y="611.62" width="3.74" height="3.67" fill="#239a88"/>
<rect x="503.93" y="615.29" width="3.74" height="3.67" fill="#2d6f8e"/>
<rect x="503.93" y="618.96" width="3.74" height="3.67" fill="#3b518b"/>
<rect x="503.93" y="622.63" width="3.74" height="3.67" fill="#413e82"/>
<rect x="507.67" y="578.60" width="3.74" height="3.67" fill="#461a6a"/>
<rect x="507.67" y="582.27" width="3.74" height="3.67" fill="#3b528b"/>
<rect x="507.67" y="585.94" width="3.74" height="3.67" fill="#249d87"/>
<rect x="507.67" y="589.61" width="3.74" height="3.67" fill="#2f6c8d"/>
<rect x="507.67" y="593.28" width="3.74" height="3.67" fill="#28ad80"/>
<rect x="507.67" y="596.95" width="3.74" height="3.67" fill="#27aa82"/>
<rect x="507.67" y="600.62" width="3.74" height="3.67" fill="#25878d"/>
<rect x="507.67" y="604.28" width="3.74" height="3.67" fill="#43bb71"/>
<rect x="507.67" y="607.95" width="3.74" height="3.67" fill="#238b8c"/>
<rect x="507.67" y="611.62" width="3.74" height="3.67" fill="#27ab81"/>
<rect x="507.67" y="615.29" width="3.74" height="3.67" fill="#26838d"/>
<rect x="507.67" y="618.96" width="3.74" height="3.67" fill="#228e8c"/>
<rect x="507.67" y="622.63" width="3.74" height="3.67" fill="#3d4c88"/>
<rect x="511.41" y="578.60" width="3.74" height="3.67" fill="#450f61"/>
<rect x="511.41" y="582.27" width="3.74" height="3.67" fill="#2c718e"/>
<rect x="511.41" y="585.94" width="3.74" height="3.67" fill="#32658d"/>
<rect x="511.41" y="589.61" width="3.74" height="3.67" fill="#238b8c"/>
<rect x="511.41" y="593.28" width="3.74" height="3.67" fill="#228e8c"/>
<rect x="511.41" y="596.95" width="3.74" height="3.67" fill="#249c87"/>
<rect x="511.41" y="600.62" width="3.74" height="3.67" fill="#3fba73"/>
<rect x="511.41" y="604.28" width="3.74" height="3.67" fill="#25868d"/>
<rect x="511.41" y="607.95" width="3.74" height="3.67" fill="#239989"/>
<rect x="511.41" y="611.62" width="3.74" height="3.67" fill="#287c8d"/>
<rect x="511.41" y="615.29" width="3.74" height="3.67" fill="#2e6e8e"/>
<rect x="511.41" y="618.96" width="3.74" height="3.67" fill="#297a8d"/>
<rect x="511.41" y="622.63" width="3.74" height="3.67" fill="#3c4f8a"/>
<rect x="515.15" y="578.60" width="3.74" height="3.67" fill="#451566"/>
<rect x="515.15" y="582.27" width="3.74" height="3.67" fill="#355e8c"/>
<rect x="515.15" y="585.94" width="3.74" height="3.67" fill="#26838d"/>
<rect x="515.15" y="589.61" width="3.74" height="3.67" fill="#25a185"/>
<rect x="515.15" y="593.28" width="3.74" height="3.67" fill="#31b27b"/>
<rect x="515.15" y="596.95" width="3.74" height="3.67" fill="#21918c"/>
<rect x="515.15" y="600.62" width="3.74" height="3.67" fill="#43bc71"/>
<rect x="515.15" y="604.28" width="3.74" height="3.67" fill="#27a882"/>
<rect x="515.15" y="607.95" width="3.74" height="3.67" fill="#32b37a"/>
<rect x="515.15" y="611.62" width="3.74" height="3.67" fill="#2e6e8e"/>
<rect x="515.15" y="615.29" width="3.74" height="3.67" fill="#24888d"/>
<rect x="515.15" y="618.96" width="3.74" height="3.67" fill="#2a798e"/>
<rect x="515.15" y="622.63" width="3.74" height="3.67" fill="#413f83"/>
<rect x="518.89" y="578.60" width="3.74" height="3.67" fill="#450b5d"/>
<rect x="518.89" y="582.27" width="3.74" height="3.67" fill="#3c4d89"/>
<rect x="518.89" y="585.94" width="3.74" height="3.67" fill="#355e8c"/>
<rect x="518.89" y="589.61" width="3.74" height="3.67" fill="#249c88"/>
<rect x="518.89" y="593.28" width="3.74" height="3.67" fill="#287f8d"/>
<rect x="518.89" y="596.95" width="3.74" height="3.67" fill="#249f86"/>
<rect x="518.89" y="600.62" width="3.74" height="3.67" fill="#26a883"/>
<rect x="518.89" y="604.28" width="3.74" height="3.67" fill="#38b677"/>
<rect x="518.89" y="607.95" width="3.74" height="3.67" fill="#21928c"/>
<rect x="518.89" y="611.62" width="3.74" height="3.67" fill="#25878d"/>
<rect x="518.89" y="615.29" width="3.74" height="3.67" fill="#239889"/>
<rect x="518.89" y="618.96" width="3.74" height="3.67" fill="#228d8c"/>
<rect x="518.89" y="622.63" width="3.74" height="3.67" fill="#3d4a88"/>
<rect x="522.63" y="578.60" width="3.74" height="3.67" fill="#450c5e"/>
<rect x="522.63" y="582.27" width="3.74" height="3.67" fill="#3d4b88"/>
<rect x="522.63" y="585.94" width="3.74" height="3.67" fill="#27818d"/>
<rect x="522.63" y="589.61" width="3.74" height="3.67" fill="#306b8d"/>
<rect x="522.63" y="593.28" width="3.74" height="3.67" fill="#249c88"/>
<rect x="522.63" y="596.95" width="3.74" height="3.67" fill="#45bd70"/>
<rect x="522.63" y="600.62" width="3.74" height="3.67" fill="#239989"/>
<rect x="522.63" y="604.28" width="3.74" height="3.67" fill="#228f8c"/>
<rect x="522.63" y="607.95" width="3.74" height="3.67" fill="#25878d"/>
<rect x="522.63" y="611.62" width="3.74" height="3.67" fill="#238b8c"/>
<rect x="522.63" y="615.29" width="3.74" height="3.67" fill="#25848d"/>
<rect x="522.63" y="618.96" width="3.74" height="3.67" fill="#22968a"/>
<rect x="522.63" y="622.63" width="3.74" height="3.67" fill="#3d4c88"/>
<rect x="526.37" y="578.60" width="3.74" height="3.67" fill="#451263"/>
<rect x="526.37" y="582.27" width="3.74" height="3.67" fill="#2f6c8d"/>
<rect x="526.37" y="585.94" width="3.74" height="3.67" fill="#26838d"/>
<rect x="526.37" y="589.61" width="3.74" height="3.67" fill="#25a086"/>
<rect x="526.37" y="593.28" width="3.74" height="3.67" fill="#249e87"/>
<rect x="526.37" y="596.95" width="3.74" height="3.67" fill="#3bb775"/>
<rect x="526.37" y="600.62" width="3.74" height="3.67" fill="#249c87"/>
<rect x="526.37" y="604.28" width="3.74" height="3.67" fill="#26a584"/>
<rect x="526.37" y="607.95" width="3.74" height="3.67" fill="#228d8c"/>
<rect x="526.37" y="611.62" width="3.74" height="3.67" fill="#249d87"/>
<rect x="526.37" y="615.29" width="3.74" height="3.67" fill="#29798e"/>
<rect x="526.37" y="618.96" width="3.74" height="3.67" fill="#297a8e"/>
<rect x="526.37" y="622.63" width="3.74" height="3.67" fill="#3d4b88"/>
<rect x="530.10" y="578.60" width="3.74" height="3.67" fill="#461b6b"/>
<rect x="530.10" y="582.27" width="3.74" height="3.67" fill="#3b518b"/>
<rect x="530.10" y="585.94" width="3.74" height="3.67" fill="#30698d"/>
<rect x="530.10" y="589.61" width="3.74" height="3.67" fill="#2a788e"/>
<rect x="530.10" y="593.28" width="3.74" height="3.67" fill="#35b579"/>
<rect x="530.10" y="596.95" width="3.74" height="3.67" fill="#239b88"/>
<rect x="530.10" y="600.62" width="3.74" height="3.67" fill="#27818d"/>
<rect x="530.10" y="604.28" width="3.74" height="3.67" fill="#25858d"/>
<rect x="530.10" y="607.95" width="3.74" height="3.67" fill="#22978a"/>
<rect x="530.10" y="611.62" width="3.74" height="3.67" fill="#24888d"/>
<rect x="530.10" y="615.29" width="3.74" height="3.67" fill="#297b8d"/>
<rect x="530.10" y="618.96" width="3.74" height="3.67" fill="#22938b"/>
<rect x="530.10" y="622.63" width="3.74" height="3.67" fill="#413f83"/>
<rect x="533.84" y="578.60" width="3.74" height="3.67" fill="#461b6b"/>
<rect x="533.84" y="582.27" width="3.74" height="3.67" fill="#365d8c"/>
<rect x="533.84" y="585.94" width="3.74" height="3.67" fill="#26838d"/>
<rect x="533.84" y="589.61" width="3.74" height="3.67" fill="#22948b"/>
<rect x="533.84" y="593.28" width="3.74" height="3.67" fill="#45bd70"/>
<rect x="533.84" y="596.95" width="3.74" height="3.67" fill="#239a88"/>
<rect x="533.84" y="600.62" width="3.74" height="3.67" fill="#56c567"/>
<rect x="533.84" y="604.28" width="3.74" height="3.67" fill="#35b479"/>
<rect x="533.84" y="607.95" width="3.74" height="3.67" fill="#2cb07e"/>
<rect x="533.84" y="611.62" width="3.74" height="3.67" fill="#22968a"/>
<rect x="533.84" y="615.29" width="3.74" height="3.67" fill="#239889"/>
<rect x="533.84" y="618.96" width="3.74" height="3.67" fill="#35608c"/>
<rect x="533.84" y="622.63" width="3.74" height="3.67" fill="#404384"/>
<rect x="537.58" y="578.60" width="3.74" height="3.67" fill="#451162"/>
<rect x="537.58" y="582.27" width="3.74" height="3.67" fill="#31678d"/>
<rect x="537.58" y="585.94" width="3.74" height="3.67" fill="#31688d"/>
<rect x="537.58" y="589.61" width="3.74" height="3.67" fill="#2c738e"/>
<rect x="537.58" y="593.28" width="3.74" height="3.67" fill="#45bd70"/>
<rect x="537.58" y="596.95" width="3.74" height="3.67" fill="#28ad81"/>
<rect x="537.58" y="600.62" width="3.74" height="3.67" fill="#56c567"/>
<rect x="537.58" y="604.28" width="3.74" height="3.67" fill="#25a384"/>
<rect x="537.58" y="607.95" width="3.74" height="3.67" fill="#2baf7e"/>
<rect x="537.58" y="611.62" width="3.74" height="3.67" fill="#249f86"/>
<rect x="537.58" y="615.29" width="3.74" height="3.67" fill="#22958a"/>
<rect x="537.58" y="618.96" width="3.74" height="3.67" fill="#238b8c"/>
<rect x="537.58" y="622.63" width="3.74" height="3.67" fill="#414083"/>
<rect x="541.32" y="578.60" width="3.74" height="3.67" fill="#450b5d"/>
<rect x="541.32" y="582.27" width="3.74" height="3.67" fill="#3b528b"/>
<rect x="541.32" y="585.94" width="3.74" height="3.67" fill="#21918c"/>
<rect x="541.32" y="589.61" width="3.74" height="3.67" fill="#28ae80"/>
<rect x="541.32" y="593.28" width="3.74" height="3.67" fill="#239a88"/>
<rect x="541.32" y="596.95" width="3.74" height="3.67" fill="#239989"/>
<rect x="541.32" y="600.62" width="3.74" height="3.67" fill="#21908c"/>
<rect x="541.32" y="604.28" width="3.74" height="3.67" fill="#21908c"/>
<rect x="541.32" y="607.95" width="3.74" height="3.67" fill="#26a584"/>
<rect x="541.32" y="611.62" width="3.74" height="3.67" fill="#25a086"/>
<rect x="541.32" y="615.29" width="3.74" height="3.67" fill="#21938b"/>
<rect x="541.32" y="618.96" width="3.74" height="3.67" fill="#2b758e"/>
<rect x="541.32" y="622.63" width="3.74" height="3.67" fill="#3f4485"/>
<rect x="545.06" y="578.60" width="3.74" height="3.67" fill="#440557"/>
<rect x="545.06" y="582.27" width="3.74" height="3.67" fill="#24888d"/>
<rect x="545.06" y="585.94" width="3.74" height="3.67" fill="#2a788e"/>
<rect x="545.06" y="589.61" width="3.74" height="3.67" fill="#28ae80"/>
<rect x="545.06" y="593.28" width="3.74" height="3.67" fill="#27808d"/>
<rect x="545.06" y="596.95" width="3.74" height="3.67" fill="#24898d"/>
<rect x="545.06" y="600.62" width="3.74" height="3.67" fill="#22948b"/>
<rect x="545.06" y="604.28" width="3.74" height="3.67" fill="#21938b"/>
<rect x="545.06" y="607.95" width="3.74" height="3.67" fill="#238b8c"/>
<rect x="545.06" y="611.62" width="3.74" height="3.67" fill="#2e6f8e"/>
<rect x="545.06" y="615.29" width="3.74" height="3.67" fill="#239889"/>
<rect x="545.06" y="618.96" width="3.74" height="3.67" fill="#228f8c"/>
<rect x="545.06" y="622.63" width="3.74" height="3.67" fill="#3d4d89"/>
<rect x="548.80" y="578.60" width="3.74" height="3.67" fill="#451263"/>
<rect x="548.80" y="582.27" width="3.74" height="3.67" fill="#238c8c"/>
<rect x="548.80" y="585.94" width="3.74" height="3.67" fill="#249c88"/>
<rect x="548.80" y="589.61" width="3.74" height="3.67" fill="#27a883"/>
<rect x="548.80" y="593.28" width="3.74" height="3.67" fill="#228f8c"/>
<rect x="548.80" y="596.95" width="3.74" height="3.67" fill="#228d8c"/>
<rect x="548.80" y="600.62" width="3.74" height="3.67" fill="#26a683"/>
<rect x="548.80" y="604.28" width="3.74" height="3.67" fill="#25a285"/>
<rect x="548.80" y="607.95" width="3.74" height="3.67" fill="#25a086"/>
<rect x="548.80" y="611.62" width="3.74" height="3.67" fill="#27ac81"/>
<rect x="548.80" y="615.29" width="3.74" height="3.67" fill="#27808d"/>
<rect x="548.80" y="618.96" width="3.74" height="3.67" fill="#2d708e"/>
<rect x="548.80" y="622.63" width="3.74" height="3.67" fill="#3a548b"/>
<rect x="552.54" y="578.60" width="3.74" height="3.67" fill="#461a6a"/>
<rect x="552.54" y="582.27" width="3.74" height="3.67" fill="#32648d"/>
<rect x="552.54" y="585.94" width="3.74" height="3.67" fill="#287d8d"/>
<rect x="552.54" y="589.61" width="3.74" height="3.67" fill="#238b8c"/>
<rect x="552.54" y="593.28" width="3.74" height="3.67" fill="#27ac81"/>
<rect x="552.54" y="596.95" width="3.74" height="3.67" fill="#239b88"/>
<rect x="552.54" y="600.62" width="3.74" height="3.67" fill="#24898d"/>
<rect x="552.54" y="604.28" width="3.74" height="3.67" fill="#26a584"/>
<rect x="552.54" y="607.95" width="3.74" height="3.67" fill="#238b8c"/>
<rect x="552.54" y="611.62" width="3.74" height="3.67" fill="#28ad80"/>
<rect x="552.54" y="615.29" width="3.74" height="3.67" fill="#2b748e"/>
<rect x="552.54" y="618.96" width="3.74" height="3.67" fill="#2c738e"/>
<rect x="552.54" y="622.63" width="3.74" height="3.67" fill="#3c4f8a"/>
<rect x="556.28" y="578.60" width="3.74" height="3.67" fill="#451767"/>
<rect x="556.28" y="582.27" width="3.74" height="3.67" fill="#2c738e"/>
<rect x="556.28" y="585.94" width="3.74" height="3.67" fill="#31688d"/>
<rect x="556.28" y="589.61" width="3.74" height="3.67" fill="#2b748e"/>
<rect x="556.28" y="593.28" width="3.74" height="3.67" fill="#25a384"/>
<rect x="556.28" y="596.95" width="3.74" height="3.67" fill="#3cb875"/>
<rect x="556.28" y="600.62" width="3.74" height="3.67" fill="#238c8c"/>
<rect x="556.28" y="604.28" width="3.74" height="3.67" fill="#22968a"/>
<rect x="556.28" y="607.95" width="3.74" height="3.67" fill="#35b479"/>
<rect x="556.28" y="611.62" width="3.74" height="3.67" fill="#2a778e"/>
<rect x="556.28" y="615.29" width="3.74" height="3.67" fill="#24898d"/>
<rect x="556.28" y="618.96" width="3.74" height="3.67" fill="#33638d"/>
<rect x="556.28" y="622.63" width="3.74" height="3.67" fill="#3f4686"/>
<rect x="560.02" y="578.60" width="3.74" height="3.67" fill="#461a6a"/>
<rect x="560.02" y="582.27" width="3.74" height="3.67" fill="#31678d"/>
<rect x="560.02" y="585.94" width="3.74" height="3.67" fill="#229789"/>
<rect x="560.02" y="589.61" width="3.74" height="3.67" fill="#25a285"/>
<rect x="560.02" y="593.28" width="3.74" height="3.67" fill="#31b27b"/>
<rect x="560.02" y="596.95" width="3.74" height="3.67" fill="#2a798e"/>
<rect x="560.02" y="600.62" width="3.74" height="3.67" fill="#21908c"/>
<rect x="560.02" y="604.28" width="3.74" height="3.67" fill="#27ac81"/>
<rect x="560.02" y="607.95" width="3.74" height="3.67" fill="#2cb07e"/>
<rect x="560.02" y="611.62" width="3.74" height="3.67" fill="#287d8d"/>
<rect x="560.02" y="615.29" width="3.74" height="3.67" fill="#306a8d"/>
<rect x="560.02" y="618.96" width="3.74" height="3.67" fill="#2d6f8e"/>
<rect x="560.02" y="622.63" width="3.74" height="3.67" fill="#3a558b"/>
<rect x="563.76" y="578.60" width="3.74" height="3.67" fill="#461b6b"/>
<rect x="563.76" y="582.27" width="3.74" height="3.67" fill="#26848d"/>
<rect x="563.76" y="585.94" width="3.74" height="3.67" fill="#26828d"/>
<rect x="563.76" y="589.61" width="3.74" height="3.67" fill="#3eb974"/>
<rect x="563.76" y="593.28" width="3.74" height="3.67" fill="#22948b"/>
<rect x="563.76" y="596.95" width="3.74" height="3.67" fill="#42bb72"/>
<rect x="563.76" y="600.62" width="3.74" height="3.67" fill="#22978a"/>
<rect x="563.76" y="604.28" width="3.74" height="3.67" fill="#2db07d"/>
<rect x="563.76" y="607.95" width="3.74" height="3.67" fill="#249d87"/>
<rect x="563.76" y="611.62" width="3.74" height="3.67" fill="#30b27c"/>
<rect x="563.76" y="615.29" width="3.74" height="3.67" fill="#239989"/>
<rect x="563.76" y="618.96" width="3.74" height="3.67" fill="#22938b"/>
<rect x="563.76" y="622.63" width="3.74" height="3.67" fill="#404284"/>
<rect x="567.50" y="578.60" width="3.74" height="3.67" fill="#450d5f"/>
<rect x="567.50" y="582.27" width="3.74" height="3.67" fill="#27808d"/>
<rect x="567.50" y="585.94" width="3.74" height="3.67" fill="#26838d"/>
<rect x="567.50" y="589.61" width="3.74" height="3.67" fill="#249d87"/>
<rect x="567.50" y="593.28" width="3.74" height="3.67" fill="#45bc70"/>
<rect x="567.50" y="596.95" width="3.74" height="3.67" fill="#28ad80"/>
<rect x="567.50" y="600.62" width="3.74" height="3.67" fill="#27a982"/>
<rect x="567.50" y="604.28" width="3.74" height="3.67" fill="#6acc5a"/>
<rect x="567.50" y="607.95" width="3.74" height="3.67" fill="#6acc5a"/>
<rect x="567.50" y="611.62" width="3.74" height="3.67" fill="#45bd70"/>
<rect x="567.50" y="615.29" width="3.74" height="3.67" fill="#22948b"/>
<rect x="567.50" y="618.96" width="3.74" height="3.67" fill="#25a185"/>
<rect x="567.50" y="622.63" width="3.74" height="3.67" fill="#3c508a"/>
<rect x="571.23" y="578.60" width="3.74" height="3.67" fill="#451465"/>
<rect x="571.23" y="582.27" width="3.74" height="3.67" fill="#3f4786"/>
<rect x="571.23" y="585.94" width="3.74" height="3.67" fill="#2f6b8d"/>
<rect x="571.23" y="589.61" width="3.74" height="3.67" fill="#27808d"/>
<rect x="571.23" y="593.28" width="3.74" height="3.67" fill="#46bd6f"/>
<rect x="571.23" y="596.95" width="3.74" height="3.67" fill="#e4e428"/>
<rect x="571.23" y="600.62" width="3.74" height="3.67" fill="#39b677"/>
<rect x="571.23" y="604.28" width="3.74" height="3.67" fill="#27a882"/>
<rect x="571.23" y="607.95" width="3.74" height="3.67" fill="#2fb17c"/>
<rect x="571.23" y="611.62" width="3.74" height="3.67" fill="#27a882"/>
<rect x="571.23" y="615.29" width="3.74" height="3.67" fill="#24898d"/>
<rect x="571.23" y="618.96" width="3.74" height="3.67" fill="#238a8c"/>
<rect x="571.23" y="622.63" width="3.74" height="3.67" fill="#413f83"/>
<rect x="574.97" y="578.60" width="3.74" height="3.67" fill="#451263"/>
<rect x="574.97" y="582.27" width="3.74" height="3.67" fill="#365d8c"/>
<rect x="574.97" y="585.94" width="3.74" height="3.67" fill="#2c738e"/>
<rect x="574.97" y="589.61" width="3.74" height="3.67" fill="#239b88"/>
<rect x="574.97" y="593.28" width="3.74" height="3.67" fill="#6acc5a"/>
<rect x="574.97" y="596.95" width="3.74" height="3.67" fill="#2bb07e"/>
<rect x="574.97" y="600.62" width="3.74" height="3.67" fill="#49bf6e"/>
<rect x="574.97" y="604.28" width="3.74" height="3.67" fill="#26a783"/>
<rect x="574.97" y="607.95" width="3.74" height="3.67" fill="#2aaf7f"/>
<rect x="574.97" y="611.62" width="3.74" height="3.67" fill="#26828d"/>
<rect x="574.97" y="615.29" width="3.74" height="3.67" fill="#27818d"/>
<rect x="574.97" y="618.96" width="3.74" height="3.67" fill="#277f8d"/>
<rect x="574.97" y="622.63" width="3.74" height="3.67" fill="#3d4c88"/>
<rect x="578.71" y="578.60" width="3.74" height="3.67" fill="#451767"/>
<rect x="578.71" y="582.27" width="3.74" height="3.67" fill="#3f4786"/>
<rect x="578.71" y="585.94" width="3.74" height="3.67" fill="#2c738e"/>
<rect x="578.71" y="589.61" width="3.74" height="3.67" fill="#248a8c"/>
<rect x="578.71" y="593.28" width="3.74" height="3.67" fill="#35b579"/>
<rect x="578.71" y="596.95" width="3.74" height="3.67" fill="#82d24b"/>
<rect x="578.71" y="600.62" width="3.74" height="3.67" fill="#27ac81"/>
<rect x="578.71" y="604.28" width="3.74" height="3.67" fill="#58c665"/>
<rect x="578.71" y="607.95" width="3.74" height="3.67" fill="#31b27b"/>
<rect x="578.71" y="611.62" width="3.74" height="3.67" fill="#239989"/>
<rect x="578.71" y="615.29" width="3.74" height="3.67" fill="#239989"/>
<rect x="578.71" y="618.96" width="3.74" height="3.67" fill="#2b768e"/>
<rect x="578.71" y="622.63" width="3.74" height="3.67" fill="#39578b"/>
<rect x="582.45" y="578.60" width="3.74" height="3.67" fill="#450c5e"/>
<rect x="582.45" y="582.27" width="3.74" height="3.67" fill="#25858d"/>
<rect x="582.45" y="585.94" width="3.74" height="3.67" fill="#27ab81"/>
<rect x="582.45" y="589.61" width="3.74" height="3.67" fill="#30b27b"/>
<rect x="582.45" y="593.28" width="3.74" height="3.67" fill="#22968a"/>
<rect x="582.45" y="596.95" width="3.74" height="3.67" fill="#56c567"/>
<rect x="582.45" y="600.62" width="3.74" height="3.67" fill="#26a783"/>
<rect x="582.45" y="604.28" width="3.74" height="3.67" fill="#50c26a"/>
<rect x="582.45" y="607.95" width="3.74" height="3.67" fill="#3ab776"/>
<rect x="582.45" y="611.62" width="3.74" height="3.67" fill="#22968a"/>
<rect x="582.45" y="615.29" width="3.74" height="3.67" fill="#239b88"/>
<rect x="582.45" y="618.96" width="3.74" height="3.67" fill="#22948b"/>
<rect x="582.45" y="622.63" width="3.74" height="3.67" fill="#3f4786"/>
<rect x="586.19" y="578.60" width="3.74" height="3.67" fill="#461d6d"/>
<rect x="586.19" y="582.27" width="3.74" height="3.67" fill="#238b8c"/>
<rect x="586.19" y="585.94" width="3.74" height="3.67" fill="#27a982"/>
<rect x="586.19" y="589.61" width="3.74" height="3.67" fill="#24888d"/>
<rect x="586.19" y="593.28" width="3.74" height="3.67" fill="#3fba73"/>
<rect x="586.19" y="596.95" width="3.74" height="3.67" fill="#52c368"/>
<rect x="586.19" y="600.62" width="3.74" height="3.67" fill="#239889"/>
<rect x="586.19" y="604.28" width="3.74" height="3.67" fill="#238c8c"/>
<rect x="586.19" y="607.95" width="3.74" height="3.67" fill="#25a185"/>
<rect x="586.19" y="611.62" width="3.74" height="3.67" fill="#45bd70"/>
<rect x="586.19" y="615.29" width="3.74" height="3.67" fill="#249d87"/>
<rect x="586.19" y="618.96" width="3.74" height="3.67" fill="#228d8c"/>
<rect x="586.19" y="622.63" width="3.74" height="3.67" fill="#375b8c"/>
<rect x="589.93" y="578.60" width="3.74" height="3.67" fill="#450b5d"/>
<rect x="589.93" y="582.27" width="3.74" height="3.67" fill="#3e4887"/>
<rect x="589.93" y="585.94" width="3.74" height="3.67" fill="#22948b"/>
<rect x="589.93" y="589.61" width="3.74" height="3.67" fill="#239789"/>
<rect x="589.93" y="593.28" width="3.74" height="3.67" fill="#26828d"/>
<rect x="589.93" y="596.95" width="3.74" height="3.67" fill="#5ac764"/>
<rect x="589.93" y="600.62" width="3.74" height="3.67" fill="#238c8c"/>
<rect x="589.93" y="604.28" width="3.74" height="3.67" fill="#27aa82"/>
<rect x="589.93" y="607.95" width="3.74" height="3.67" fill="#47bd6f"/>
<rect x="589.93" y="611.62" width="3.74" height="3.67" fill="#27808d"/>
<rect x="589.93" y="615.29" width="3.74" height="3.67" fill="#27a982"/>
<rect x="589.93" y="618.96" width="3.74" height="3.67" fill="#31688d"/>
<rect x="589.93" y="622.63" width="3.74" height="3.67" fill="#375b8c"/>
<rect x="593.67" y="578.60" width="3.74" height="3.67" fill="#450e5f"/>
<rect x="593.67" y="582.27" width="3.74" height="3.67" fill="#3b528b"/>
<rect x="593.67" y="585.94" width="3.74" height="3.67" fill="#2b758e"/>
<rect x="593.67" y="589.61" width="3.74" height="3.67" fill="#297b8d"/>
<rect x="593.67" y="593.28" width="3.74" height="3.67" fill="#27a982"/>
<rect x="593.67" y="596.95" width="3.74" height="3.67" fill="#cce02c"/>
<rect x="593.67" y="600.62" width="3.74" height="3.67" fill="#249e87"/>
<rect x="593.67" y="604.28" width="3.74" height="3.67" fill="#27ac81"/>
<rect x="593.67" y="607.95" width="3.74" height="3.67" fill="#3bb875"/>
<rect x="593.67" y="611.62" width="3.74" height="3.67" fill="#2eb17d"/>
<rect x="593.67" y="615.29" width="3.74" height="3.67" fill="#287d8d"/>
<rect x="593.67" y="618.96" width="3.74" height="3.67" fill="#33648d"/>
<rect x="593.67" y="622.63" width="3.74" height="3.67" fill="#3d4b88"/>
<rect x="597.41" y="578.60" width="3.74" height="3.67" fill="#461d6d"/>
<rect x="597.41" y="582.27" width="3.74" height="3.67" fill="#248a8c"/>
<rect x="597.41" y="585.94" width="3.74" height="3.67" fill="#26848d"/>
<rect x="597.41" y="589.61" width="3.74" height="3.67" fill="#26a484"/>
<rect x="597.41" y="593.28" width="3.74" height="3.67" fill="#27a883"/>
<rect x="597.41" y="596.95" width="3.74" height="3.67" fill="#239889"/>
<rect x="597.41" y="600.62" width="3.74" height="3.67" fill="#30b27c"/>
<rect x="597.41" y="604.28" width="3.74" height="3.67" fill="#239b88"/>
<rect x="597.41" y="607.95" width="3.74" height="3.67" fill="#228f8c"/>
<rect x="597.41" y="611.62" width="3.74" height="3.67" fill="#239b88"/>
<rect x="597.41" y="615.29" width="3.74" height="3.67" fill="#239a88"/>
<rect x="597.41" y="618.96" width="3.74" height="3.67" fill="#34628c"/>
<rect x="597.41" y="622.63" width="3.74" height="3.67" fill="#39578b"/>
<rect x="601.15" y="578.60" width="3.74" height="3.67" fill="#451566"/>
<rect x="601.15" y="582.27" width="3.74" height="3.67" fill="#355f8c"/>
<rect x="601.15" y="585.94" width="3.74" height="3.67" fill="#306a8d"/>
<rect x="601.15" y="589.61" width="3.74" height="3.67" fill="#21908c"/>
<rect x="601.15" y="593.28" width="3.74" height="3.67" fill="#248a8c"/>
<rect x="601.15" y="596.95" width="3.74" height="3.67" fill="#28ad81"/>
<rect x="601.15" y="600.62" width="3.74" height="3.67" fill="#42bb71"/>
<rect x="601.15" y="604.28" width="3.74" height="3.67" fill="#249e87"/>
<rect x="601.15" y="607.95" width="3.74" height="3.67" fill="#53c368"/>
<rect x="601.15" y="611.62" width="3.74" height="3.67" fill="#26a484"/>
<rect x="601.15" y="615.29" width="3.74" height="3.67" fill="#249d87"/>
<rect x="601.15" y="618.96" width="3.74" height="3.67" fill="#21908c"/>
<rect x="601.15" y="622.63" width="3.74" height="3.67" fill="#3a538b"/>
<rect x="604.89" y="578.60" width="3.74" height="3.67" fill="#451061"/>
<rect x="604.89" y="582.27" width="3.74" height="3.67" fill="#2e6e8e"/>
<rect x="604.89" y="585.94" width="3.74" height="3.67" fill="#24898d"/>
<rect x="604.89" y="589.61" width="3.74" height="3.67" fill="#24888d"/>
<rect x="604.89" y="593.28" width="3.74" height="3.67" fill="#29ae80"/>
<rect x="604.89" y="596.95" width="3.74" height="3.67" fill="#28ae80"/>
<rect x="604.89" y="600.62" width="3.74" height="3.67" fill="#27ac81"/>
<rect x="604.89" y="604.28" width="3.74" height="3.67" fill="#35b579"/>
<rect x="604.89" y="607.95" width="3.74" height="3.67" fill="#239a88"/>
<rect x="604.89" y="611.62" width="3.74" height="3.67" fill="#25a185"/>
<rect x="604.89" y="615.29" width="3.74" height="3.67" fill="#24878d"/>
<rect x="604.89" y="618.96" width="3.74" height="3.67" fill="#34628c"/>
<rect x="604.89" y="622.63" width="3.74" height="3.67" fill="#3f4686"/>
<rect x="608.63" y="578.60" width="3.74" height="3.67" fill="#450c5e"/>
<rect x="608.63" y="582.27" width="3.74" height="3.67" fill="#355e8c"/>
<rect x="608.63" y="585.94" width="3.74" height="3.67" fill="#26828d"/>
<rect x="608.63" y="589.61" width="3.74" height="3.67" fill="#2a778e"/>
<rect x="608.63" y="593.28" width="3.74" height="3.67" fill="#29ae80"/>
<rect x="608.63" y="596.95" width="3.74" height="3.67" fill="#25878d"/>
<rect x="608.63" y="600.62" width="3.74" height="3.67" fill="#21918c"/>
<rect x="608.63" y="604.28" width="3.74" height="3.67" fill="#45bd70"/>
<rect x="608.63" y="607.95" width="3.74" height="3.67" fill="#45bd70"/>
<rect x="608.63" y="611.62" width="3.74" height="3.67" fill="#22948b"/>
<rect x="608.63" y="615.29" width="3.74" height="3.67" fill="#26a783"/>
<rect x="608.63" y="618.96" width="3.74" height="3.67" fill="#30698d"/>
<rect x="608.63" y="622.63" width="3.74" height="3.67" fill="#461969"/>
<rect x="612.37" y="578.60" width="3.74" height="3.67" fill="#450a5c"/>
<rect x="612.37" y="582.27" width="3.74" height="3.67" fill="#413f83"/>
<rect x="612.37" y="585.94" width="3.74" height="3.67" fill="#32648d"/>
<rect x="612.37" y="589.61" width="3.74" height="3.67" fill="#277f8d"/>
<rect x="612.37" y="593.28" width="3.74" height="3.67" fill="#287c8d"/>
<rect x="612.37" y="596.95" width="3.74" height="3.67" fill="#21928b"/>
<rect x="612.37" y="600.62" width="3.74" height="3.67" fill="#46bd6f"/>
<rect x="612.37" y="604.28" width="3.74" height="3.67" fill="#24878d"/>
<rect x="612.37" y="607.95" width="3.74" height="3.67" fill="#249e86"/>
<rect x="612.37" y="611.62" width="3.74" height="3.67" fill="#2c738e"/>
<rect x="612.37" y="615.29" width="3.74" height="3.67" fill="#228f8c"/>
<rect x="612.37" y="618.96" width="3.74" height="3.67" fill="#355f8c"/>
<rect x="612.37" y="622.63" width="3.74" height="3.67" fill="#451566"/>
<rect x="616.10" y="578.60" width="3.74" height="3.67" fill="#461869"/>
<rect x="616.10" y="582.27" width="3.74" height="3.67" fill="#461f6e"/>
<rect x="616.10" y="585.94" width="3.74" height="3.67" fill="#375a8c"/>
<rect x="616.10" y="589.61" width="3.74" height="3.67" fill="#2d708e"/>
<rect x="616.10" y="593.28" width="3.74" height="3.67" fill="#25a086"/>
<rect x="616.10" y="596.95" width="3.74" height="3.67" fill="#32b37b"/>
<rect x="616.10" y="600.62" width="3.74" height="3.67" fill="#33b37a"/>
<rect x="616.10" y="604.28" width="3.74" height="3.67" fill="#22948b"/>
<rect x="616.10" y="607.95" width="3.74" height="3.67" fill="#21938b"/>
<rect x="616.10" y="611.62" width="3.74" height="3.67" fill="#297b8d"/>
<rect x="616.10" y="615.29" width="3.74" height="3.67" fill="#24898d"/>
<rect x="616.10" y="618.96" width="3.74" height="3.67" fill="#404485"/>
<rect x="616.10" y="622.63" width="3.74" height="3.67" fill="#451263"/>
<rect x="619.84" y="582.27" width="3.74" height="3.67" fill="#461868"/>
<rect x="619.84" y="585.94" width="3.74" height="3.67" fill="#3c508a"/>
<rect x="619.84" y="589.61" width="3.74" height="3.67" fill="#3e4887"/>
<rect x="619.84" y="593.28" width="3.74" height="3.67" fill="#33648d"/>
<rect x="619.84" y="596.95" width="3.74" height="3.67" fill="#239989"/>
<rect x="619.84" y="600.62" width="3.74" height="3.67" fill="#297a8d"/>
<rect x="619.84" y="604.28" width="3.74" height="3.67" fill="#24888d"/>
<rect x="619.84" y="607.95" width="3.74" height="3.67" fill="#26a783"/>
<rect x="619.84" y="611.62" width="3.74" height="3.67" fill="#238b8c"/>
<rect x="619.84" y="615.29" width="3.74" height="3.67" fill="#3b538b"/>
<rect x="619.84" y="618.96" width="3.74" height="3.67" fill="#451162"/>
<rect x="619.84" y="622.63" width="3.74" height="3.67" fill="#450d5f"/>
<rect x="623.58" y="582.27" width="3.74" height="3.67" fill="#461b6b"/>
<rect x="623.58" y="585.94" width="3.74" height="3.67" fill="#45095b"/>
<rect x="623.58" y="589.61" width="3.74" height="3.67" fill="#34618c"/>
<rect x="623.58" y="593.28" width="3.74" height="3.67" fill="#2a778e"/>
<rect x="623.58" y="596.95" width="3.74" height="3.67" fill="#25a086"/>
<rect x="623.58" y="600.62" width="3.74" height="3.67" fill="#24898d"/>
<rect x="623.58" y="604.28" width="3.74" height="3.67" fill="#2c738e"/>
<rect x="623.58" y="607.95" width="3.74" height="3.67" fill="#3d4b88"/>
<rect x="623.58" y="611.62" width="3.74" height="3.67" fill="#375b8c"/>
<rect x="623.58" y="615.29" width="3.74" height="3.67" fill="#443880"/>
<rect x="623.58" y="618.96" width="3.74" height="3.67" fill="#440557"/>
<rect x="627.32" y="585.94" width="3.74" height="3.67" fill="#440557"/>
<rect x="627.32" y="589.61" width="3.74" height="3.67" fill="#451464"/>
<rect x="627.32" y="593.28" width="3.74" height="3.67" fill="#375b8c"/>
<rect x="627.32" y="596.95" width="3.74" height="3.67" fill="#3a548b"/>
<rect x="627.32" y="600.62" width="3.74" height="3.67" fill="#2f6c8d"/>
<rect x="627.32" y="604.28" width="3.74" height="3.67" fill="#365d8c"/>
<rect x="627.32" y="607.95" width="3.74" height="3.67" fill="#355f8c"/>
<rect x="627.32" y="611.62" width="3.74" height="3.67" fill="#45327d"/>
<rect x="627.32" y="615.29" width="3.74" height="3.67" fill="#451364"/>
<rect x="627.32" y="618.96" width="3.74" height="3.67" fill="#450d5f"/>
<rect x="631.06" y="589.61" width="3.74" height="3.67" fill="#461e6e"/>
<rect x="631.06" y="593.28" width="3.74" height="3.67" fill="#45095b"/>
<rect x="631.06" y="596.95" width="3.74" height="3.67" fill="#450c5e"/>
<rect x="631.06" y="600.62" width="3.74" height="3.67" fill="#413f83"/>
<rect x="631.06" y="604.28" width="3.74" height="3.67" fill="#423e82"/>
<rect x="631.06" y="607.95" width="3.74" height="3.67" fill="#461b6b"/>
<rect x="631.06" y="611.62" width="3.74" height="3.67" fill="#440759"/>
<rect x="631.06" y="615.29" width="3.74" height="3.67" fill="#450c5e"/>
</g>
<text x="554.7" y="575.4" font-size="9.55" text-anchor="middle">Number of displacements</text>
<line x1="460.80" y1="586.10" x2="462.80" y2="586.10" stroke="#111" stroke-width="0.7"/>
<text x="459.3" y="589.3" font-size="9" text-anchor="end">0.2</text>
<line x1="460.80" y1="602.00" x2="462.80" y2="602.00" stroke="#111" stroke-width="0.7"/>
<text x="459.3" y="605.2" font-size="9" text-anchor="end">0.0</text>
<line x1="460.80" y1="617.90" x2="462.80" y2="617.90" stroke="#111" stroke-width="0.7"/>
<text x="459.3" y="621.1" font-size="9" text-anchor="end">-0.2</text>
<line x1="476.30" y1="626.30" x2="476.30" y2="628.30" stroke="#111" stroke-width="0.7"/>
<text x="474.8" y="637.7" font-size="9" text-anchor="middle">-1.0</text>
<line x1="513.30" y1="626.30" x2="513.30" y2="628.30" stroke="#111" stroke-width="0.7"/>
<text x="511.8" y="637.7" font-size="9" text-anchor="middle">-0.5</text>
<line x1="550.30" y1="626.30" x2="550.30" y2="628.30" stroke="#111" stroke-width="0.7"/>
<text x="548.8" y="637.7" font-size="9" text-anchor="middle">0.0</text>
<line x1="587.30" y1="626.30" x2="587.30" y2="628.30" stroke="#111" stroke-width="0.7"/>
<text x="585.8" y="637.7" font-size="9" text-anchor="middle">0.5</text>
<line x1="624.30" y1="626.30" x2="624.30" y2="628.30" stroke="#111" stroke-width="0.7"/>
<text x="622.8" y="637.7" font-size="9" text-anchor="middle">1.0</text>
<rect x="644.8" y="571.2" width="3" height="59.5" fill="url(#vir)"/>
<line x1="647.80" y1="585.30" x2="649.60" y2="585.30" stroke="#111" stroke-width="0.7"/>
<text x="652.0" y="588.5" font-size="9">40</text>
<line x1="647.80" y1="608.00" x2="649.60" y2="608.00" stroke="#111" stroke-width="0.7"/>
<text x="652.0" y="611.2" font-size="9">20</text>
<line x1="647.80" y1="630.30" x2="649.60" y2="630.30" stroke="#111" stroke-width="0.7"/>
<text x="652.0" y="633.5" font-size="9">0</text>
<g shape-rendering="crispEdges">
<rect x="462.80" y="655.70" width="172.00" height="47.60" fill="#000"/>
<rect x="462.80" y="674.05" width="3.74" height="3.67" fill="#2929ff"/>
<rect x="462.80" y="677.72" width="3.74" height="3.67" fill="#3535ff"/>
<rect x="462.80" y="681.38" width="3.74" height="3.67" fill="#b1b1ff"/>
<rect x="466.54" y="670.38" width="3.74" height="3.67" fill="#ff5959"/>
<rect x="466.54" y="674.05" width="3.74" height="3.67" fill="#7373ff"/>
<rect x="466.54" y="677.72" width="3.74" height="3.67" fill="#3737ff"/>
<rect x="466.54" y="681.38" width="3.74" height="3.67" fill="#3535ff"/>
<rect x="466.54" y="685.05" width="3.74" height="3.67" fill="#ffcece"/>
<rect x="466.54" y="688.72" width="3.74" height="3.67" fill="#5858ff"/>
<rect x="470.28" y="663.04" width="3.74" height="3.67" fill="#6e6eff"/>
<rect x="470.28" y="666.71" width="3.74" height="3.67" fill="#7373ff"/>
<rect x="470.28" y="670.38" width="3.74" height="3.67" fill="#6464ff"/>
<rect x="470.28" y="674.05" width="3.74" height="3.67" fill="#7474ff"/>
<rect x="470.28" y="677.72" width="3.74" height="3.67" fill="#ff9d9d"/>
<rect x="470.28" y="681.38" width="3.74" height="3.67" fill="#5656ff"/>
<rect x="470.28" y="685.05" width="3.74" height="3.67" fill="#6767ff"/>
<rect x="470.28" y="688.72" width="3.74" height="3.67" fill="#7a7aff"/>
<rect x="474.02" y="663.04" width="3.74" height="3.67" fill="#3d3dff"/>
<rect x="474.02" y="666.71" width="3.74" height="3.67" fill="#5959ff"/>
<rect x="474.02" y="670.38" width="3.74" height="3.67" fill="#fffcfc"/>
<rect x="474.02" y="674.05" width="3.74" height="3.67" fill="#b7b7ff"/>
<rect x="474.02" y="677.72" width="3.74" height="3.67" fill="#6b6bff"/>
<rect x="474.02" y="681.38" width="3.74" height="3.67" fill="#5757ff"/>
<rect x="474.02" y="685.05" width="3.74" height="3.67" fill="#7373ff"/>
<rect x="474.02" y="688.72" width="3.74" height="3.67" fill="#9393ff"/>
<rect x="474.02" y="692.39" width="3.74" height="3.67" fill="#2929ff"/>
<rect x="477.76" y="659.37" width="3.74" height="3.67" fill="#3d3dff"/>
<rect x="477.76" y="663.04" width="3.74" height="3.67" fill="#4646ff"/>
<rect x="477.76" y="666.71" width="3.74" height="3.67" fill="#b0b0ff"/>
<rect x="477.76" y="670.38" width="3.74" height="3.67" fill="#bdbdff"/>
<rect x="477.76" y="674.05" width="3.74" height="3.67" fill="#5757ff"/>
<rect x="477.76" y="677.72" width="3.74" height="3.67" fill="#5959ff"/>
<rect x="477.76" y="681.38" width="3.74" height="3.67" fill="#4f4fff"/>
<rect x="477.76" y="685.05" width="3.74" height="3.67" fill="#3c3cff"/>
<rect x="477.76" y="688.72" width="3.74" height="3.67" fill="#3131ff"/>
<rect x="477.76" y="692.39" width="3.74" height="3.67" fill="#5050ff"/>
<rect x="477.76" y="696.06" width="3.74" height="3.67" fill="#3b3bff"/>
<rect x="481.50" y="659.37" width="3.74" height="3.67" fill="#5959ff"/>
<rect x="481.50" y="663.04" width="3.74" height="3.67" fill="#ababff"/>
<rect x="481.50" y="666.71" width="3.74" height="3.67" fill="#3535ff"/>
<rect x="481.50" y="670.38" width="3.74" height="3.67" fill="#8484ff"/>
<rect x="481.50" y="674.05" width="3.74" height="3.67" fill="#a2a2ff"/>
<rect x="481.50" y="677.72" width="3.74" height="3.67" fill="#a1a1ff"/>
<rect x="481.50" y="681.38" width="3.74" height="3.67" fill="#5252ff"/>
<rect x="481.50" y="685.05" width="3.74" height="3.67" fill="#3636ff"/>
<rect x="481.50" y="688.72" width="3.74" height="3.67" fill="#3232ff"/>
<rect x="481.50" y="692.39" width="3.74" height="3.67" fill="#2b2bff"/>
<rect x="481.50" y="696.06" width="3.74" height="3.67" fill="#9090ff"/>
<rect x="485.23" y="659.37" width="3.74" height="3.67" fill="#3333ff"/>
<rect x="485.23" y="663.04" width="3.74" height="3.67" fill="#6161ff"/>
<rect x="485.23" y="666.71" width="3.74" height="3.67" fill="#6b6bff"/>
<rect x="485.23" y="670.38" width="3.74" height="3.67" fill="#6e6eff"/>
<rect x="485.23" y="674.05" width="3.74" height="3.67" fill="#4040ff"/>
<rect x="485.23" y="677.72" width="3.74" height="3.67" fill="#5e5eff"/>
<rect x="485.23" y="681.38" width="3.74" height="3.67" fill="#6262ff"/>
<rect x="485.23" y="685.05" width="3.74" height="3.67" fill="#6565ff"/>
<rect x="485.23" y="688.72" width="3.74" height="3.67" fill="#5959ff"/>
<rect x="485.23" y="692.39" width="3.74" height="3.67" fill="#7373ff"/>
<rect x="485.23" y="696.06" width="3.74" height="3.67" fill="#6e6eff"/>
<rect x="485.23" y="699.73" width="3.74" height="3.67" fill="#8989ff"/>
<rect x="488.97" y="659.37" width="3.74" height="3.67" fill="#5656ff"/>
<rect x="488.97" y="663.04" width="3.74" height="3.67" fill="#5656ff"/>
<rect x="488.97" y="666.71" width="3.74" height="3.67" fill="#9898ff"/>
<rect x="488.97" y="670.38" width="3.74" height="3.67" fill="#6868ff"/>
<rect x="488.97" y="674.05" width="3.74" height="3.67" fill="#a3a3ff"/>
<rect x="488.97" y="677.72" width="3.74" height="3.67" fill="#ff6464"/>
<rect x="488.97" y="681.38" width="3.74" height="3.67" fill="#2a2aff"/>
<rect x="488.97" y="685.05" width="3.74" height="3.67" fill="#6666ff"/>
<rect x="488.97" y="688.72" width="3.74" height="3.67" fill="#4949ff"/>
<rect x="488.97" y="692.39" width="3.74" height="3.67" fill="#7474ff"/>
<rect x="488.97" y="696.06" width="3.74" height="3.67" fill="#b4b4ff"/>
<rect x="488.97" y="699.73" width="3.74" height="3.67" fill="#4444ff"/>
<rect x="492.71" y="655.70" width="3.74" height="3.67" fill="#5555ff"/>
<rect x="492.71" y="659.37" width="3.74" height="3.67" fill="#5b5bff"/>
<rect x="492.71" y="663.04" width="3.74" height="3.67" fill="#6666ff"/>
<rect x="492.71" y="666.71" width="3.74" height="3.67" fill="#4e4eff"/>
<rect x="492.71" y="670.38" width="3.74" height="3.67" fill="#5353ff"/>
<rect x="492.71" y="674.05" width="3.74" height="3.67" fill="#b6b6ff"/>
<rect x="492.71" y="677.72" width="3.74" height="3.67" fill="#e9e9ff"/>
<rect x="492.71" y="681.38" width="3.74" height="3.67" fill="#3131ff"/>
<rect x="492.71" y="685.05" width="3.74" height="3.67" fill="#b6b6ff"/>
<rect x="492.71" y="688.72" width="3.74" height="3.67" fill="#a9a9ff"/>
<rect x="492.71" y="692.39" width="3.74" height="3.67" fill="#8a8aff"/>
<rect x="492.71" y="696.06" width="3.74" height="3.67" fill="#3d3dff"/>
<rect x="492.71" y="699.73" width="3.74" height="3.67" fill="#2b2bff"/>
<rect x="496.45" y="655.70" width="3.74" height="3.67" fill="#4f4fff"/>
<rect x="496.45" y="659.37" width="3.74" height="3.67" fill="#3939ff"/>
<rect x="496.45" y="663.04" width="3.74" height="3.67" fill="#3737ff"/>
<rect x="496.45" y="666.71" width="3.74" height="3.67" fill="#2a2aff"/>
<rect x="496.45" y="670.38" width="3.74" height="3.67" fill="#8888ff"/>
<rect x="496.45" y="674.05" width="3.74" height="3.67" fill="#ffb0b0"/>
<rect x="496.45" y="677.72" width="3.74" height="3.67" fill="#6767ff"/>
<rect x="496.45" y="681.38" width="3.74" height="3.67" fill="#eeeeff"/>
<rect x="496.45" y="685.05" width="3.74" height="3.67" fill="#7272ff"/>
<rect x="496.45" y="688.72" width="3.74" height="3.67" fill="#fff3f3"/>
<rect x="496.45" y="692.39" width="3.74" height="3.67" fill="#4141ff"/>
<rect x="496.45" y="696.06" width="3.74" height="3.67" fill="#2929ff"/>
<rect x="496.45" y="699.73" width="3.74" height="3.67" fill="#a8a8ff"/>
<rect x="500.19" y="655.70" width="3.74" height="3.67" fill="#6363ff"/>
<rect x="500.19" y="659.37" width="3.74" height="3.67" fill="#e9e9ff"/>
<rect x="500.19" y="663.04" width="3.74" height="3.67" fill="#ffdcdc"/>
<rect x="500.19" y="666.71" width="3.74" height="3.67" fill="#3434ff"/>
<rect x="500.19" y="670.38" width="3.74" height="3.67" fill="#9393ff"/>
<rect x="500.19" y="674.05" width="3.74" height="3.67" fill="#b5b5ff"/>
<rect x="500.19" y="677.72" width="3.74" height="3.67" fill="#b9b9ff"/>
<rect x="500.19" y="681.38" width="3.74" height="3.67" fill="#a0a0ff"/>
<rect x="500.19" y="685.05" width="3.74" height="3.67" fill="#8b8bff"/>
<rect x="500.19" y="688.72" width="3.74" height="3.67" fill="#8080ff"/>
<rect x="500.19" y="692.39" width="3.74" height="3.67" fill="#6363ff"/>
<rect x="500.19" y="696.06" width="3.74" height="3.67" fill="#a5a5ff"/>
<rect x="500.19" y="699.73" width="3.74" height="3.67" fill="#8888ff"/>
<rect x="503.93" y="655.70" width="3.74" height="3.67" fill="#ffcdcd"/>
<rect x="503.93" y="659.37" width="3.74" height="3.67" fill="#5555ff"/>
<rect x="503.93" y="663.04" width="3.74" height="3.67" fill="#6363ff"/>
<rect x="503.93" y="666.71" width="3.74" height="3.67" fill="#5e5eff"/>
<rect x="503.93" y="670.38" width="3.74" height="3.67" fill="#3a3aff"/>
<rect x="503.93" y="674.05" width="3.74" height="3.67" fill="#b6b6ff"/>
<rect x="503.93" y="677.72" width="3.74" height="3.67" fill="#3a3aff"/>
<rect x="503.93" y="681.38" width="3.74" height="3.67" fill="#7070ff"/>
<rect x="503.93" y="685.05" width="3.74" height="3.67" fill="#e3e3ff"/>
<rect x="503.93" y="688.72" width="3.74" height="3.67" fill="#a4a4ff"/>
<rect x="503.93" y="692.39" width="3.74" height="3.67" fill="#8a8aff"/>
<rect x="503.93" y="696.06" width="3.74" height="3.67" fill="#f9f9ff"/>
<rect x="503.93" y="699.73" width="3.74" height="3.67" fill="#9a9aff"/>
<rect x="507.67" y="655.70" width="3.74" height="3.67" fill="#5656ff"/>
<rect x="507.67" y="659.37" width="3.74" height="3.67" fill="#5c5cff"/>
<rect x="507.67" y="663.04" width="3.74" height="3.67" fill="#cbcbff"/>
<rect x="507.67" y="666.71" width="3.74" height="3.67" fill="#8282ff"/>
<rect x="507.67" y="670.38" width="3.74" height="3.67" fill="#8181ff"/>
<rect x="507.67" y="674.05" width="3.74" height="3.67" fill="#6d6dff"/>
<rect x="507.67" y="677.72" width="3.74" height="3.67" fill="#ffb1b1"/>
<rect x="507.67" y="681.38" width="3.74" height="3.67" fill="#6060ff"/>
<rect x="507.67" y="685.05" width="3.74" height="3.67" fill="#9c9cff"/>
<rect x="507.67" y="688.72" width="3.74" height="3.67" fill="#babaff"/>
<rect x="507.67" y="692.39" width="3.74" height="3.67" fill="#5959ff"/>
<rect x="507.67" y="696.06" width="3.74" height="3.67" fill="#bdbdff"/>
<rect x="507.67" y="699.73" width="3.74" height="3.67" fill="#8484ff"/>
<rect x="511.41" y="655.70" width="3.74" height="3.67" fill="#5f5fff"/>
<rect x="511.41" y="659.37" width="3.74" height="3.67" fill="#9898ff"/>
<rect x="511.41" y="663.04" width="3.74" height="3.67" fill="#4f4fff"/>
<rect x="511.41" y="666.71" width="3.74" height="3.67" fill="#8686ff"/>
<rect x="511.41" y="670.38" width="3.74" height="3.67" fill="#efefff"/>
<rect x="511.41" y="674.05" width="3.74" height="3.67" fill="#4d4dff"/>
<rect x="511.41" y="677.72" width="3.74" height="3.67" fill="#ffeaea"/>
<rect x="511.41" y="681.38" width="3.74" height="3.67" fill="#6161ff"/>
<rect x="511.41" y="685.05" width="3.74" height="3.67" fill="#7777ff"/>
<rect x="511.41" y="688.72" width="3.74" height="3.67" fill="#ffdddd"/>
<rect x="511.41" y="692.39" width="3.74" height="3.67" fill="#4646ff"/>
<rect x="511.41" y="696.06" width="3.74" height="3.67" fill="#afafff"/>
<rect x="511.41" y="699.73" width="3.74" height="3.67" fill="#ff4141"/>
<rect x="515.15" y="659.37" width="3.74" height="3.67" fill="#6c6cff"/>
<rect x="515.15" y="663.04" width="3.74" height="3.67" fill="#4848ff"/>
<rect x="515.15" y="666.71" width="3.74" height="3.67" fill="#3535ff"/>
<rect x="515.15" y="670.38" width="3.74" height="3.67" fill="#3838ff"/>
<rect x="515.15" y="674.05" width="3.74" height="3.67" fill="#9d9dff"/>
<rect x="515.15" y="677.72" width="3.74" height="3.67" fill="#7272ff"/>
<rect x="515.15" y="681.38" width="3.74" height="3.67" fill="#9090ff"/>
<rect x="515.15" y="685.05" width="3.74" height="3.67" fill="#b5b5ff"/>
<rect x="515.15" y="688.72" width="3.74" height="3.67" fill="#5858ff"/>
<rect x="515.15" y="692.39" width="3.74" height="3.67" fill="#5151ff"/>
<rect x="515.15" y="696.06" width="3.74" height="3.67" fill="#8686ff"/>
<rect x="515.15" y="699.73" width="3.74" height="3.67" fill="#a3a3ff"/>
<rect x="518.89" y="659.37" width="3.74" height="3.67" fill="#8686ff"/>
<rect x="518.89" y="663.04" width="3.74" height="3.67" fill="#a5a5ff"/>
<rect x="518.89" y="666.71" width="3.74" height="3.67" fill="#bbbbff"/>
<rect x="518.89" y="670.38" width="3.74" height="3.67" fill="#7d7dff"/>
<rect x="518.89" y="674.05" width="3.74" height="3.67" fill="#7272ff"/>
<rect x="518.89" y="677.72" width="3.74" height="3.67" fill="#6666ff"/>
<rect x="518.89" y="681.38" width="3.74" height="3.67" fill="#5353ff"/>
<rect x="518.89" y="685.05" width="3.74" height="3.67" fill="#6d6dff"/>
<rect x="518.89" y="688.72" width="3.74" height="3.67" fill="#6b6bff"/>
<rect x="518.89" y="692.39" width="3.74" height="3.67" fill="#4242ff"/>
<rect x="518.89" y="696.06" width="3.74" height="3.67" fill="#9c9cff"/>
<rect x="518.89" y="699.73" width="3.74" height="3.67" fill="#5252ff"/>
<rect x="522.63" y="655.70" width="3.74" height="3.67" fill="#f0f0ff"/>
<rect x="522.63" y="659.37" width="3.74" height="3.67" fill="#6060ff"/>
<rect x="522.63" y="663.04" width="3.74" height="3.67" fill="#4545ff"/>
<rect x="522.63" y="666.71" width="3.74" height="3.67" fill="#a0a0ff"/>
<rect x="522.63" y="670.38" width="3.74" height="3.67" fill="#b1b1ff"/>
<rect x="522.63" y="674.05" width="3.74" height="3.67" fill="#5454ff"/>
<rect x="522.63" y="677.72" width="3.74" height="3.67" fill="#d0d0ff"/>
<rect x="522.63" y="681.38" width="3.74" height="3.67" fill="#bdbdff"/>
<rect x="522.63" y="685.05" width="3.74" height="3.67" fill="#7f7fff"/>
<rect x="522.63" y="688.72" width="3.74" height="3.67" fill="#9494ff"/>
<rect x="522.63" y="692.39" width="3.74" height="3.67" fill="#fff5f5"/>
<rect x="522.63" y="696.06" width="3.74" height="3.67" fill="#9c9cff"/>
<rect x="522.63" y="699.73" width="3.74" height="3.67" fill="#5f5fff"/>
<rect x="526.37" y="655.70" width="3.74" height="3.67" fill="#7070ff"/>
<rect x="526.37" y="659.37" width="3.74" height="3.67" fill="#4545ff"/>
<rect x="526.37" y="663.04" width="3.74" height="3.67" fill="#9d9dff"/>
<rect x="526.37" y="666.71" width="3.74" height="3.67" fill="#3838ff"/>
<rect x="526.37" y="670.38" width="3.74" height="3.67" fill="#ababff"/>
<rect x="526.37" y="674.05" width="3.74" height="3.67" fill="#5050ff"/>
<rect x="526.37" y="677.72" width="3.74" height="3.67" fill="#bfbfff"/>
<rect x="526.37" y="681.38" width="3.74" height="3.67" fill="#ffd6d6"/>
<rect x="526.37" y="685.05" width="3.74" height="3.67" fill="#fffcfc"/>
<rect x="526.37" y="688.72" width="3.74" height="3.67" fill="#7f7fff"/>
<rect x="526.37" y="692.39" width="3.74" height="3.67" fill="#6363ff"/>
<rect x="526.37" y="696.06" width="3.74" height="3.67" fill="#9797ff"/>
<rect x="526.37" y="699.73" width="3.74" height="3.67" fill="#5555ff"/>
<rect x="530.10" y="655.70" width="3.74" height="3.67" fill="#4b4bff"/>
<rect x="530.10" y="659.37" width="3.74" height="3.67" fill="#7a7aff"/>
<rect x="530.10" y="663.04" width="3.74" height="3.67" fill="#9696ff"/>
<rect x="530.10" y="666.71" width="3.74" height="3.67" fill="#7676ff"/>
<rect x="530.10" y="670.38" width="3.74" height="3.67" fill="#9898ff"/>
<rect x="530.10" y="674.05" width="3.74" height="3.67" fill="#ffe4e4"/>
<rect x="530.10" y="677.72" width="3.74" height="3.67" fill="#5d5dff"/>
<rect x="530.10" y="681.38" width="3.74" height="3.67" fill="#8585ff"/>
<rect x="530.10" y="685.05" width="3.74" height="3.67" fill="#f5f5ff"/>
<rect x="530.10" y="688.72" width="3.74" height="3.67" fill="#a4a4ff"/>
<rect x="530.10" y="692.39" width="3.74" height="3.67" fill="#b5b5ff"/>
<rect x="530.10" y="696.06" width="3.74" height="3.67" fill="#8787ff"/>
<rect x="530.10" y="699.73" width="3.74" height="3.67" fill="#a9a9ff"/>
<rect x="533.84" y="655.70" width="3.74" height="3.67" fill="#7b7bff"/>
<rect x="533.84" y="659.37" width="3.74" height="3.67" fill="#5252ff"/>
<rect x="533.84" y="663.04" width="3.74" height="3.67" fill="#9191ff"/>
<rect x="533.84" y="666.71" width="3.74" height="3.67" fill="#4242ff"/>
<rect x="533.84" y="670.38" width="3.74" height="3.67" fill="#a4a4ff"/>
<rect x="533.84" y="674.05" width="3.74" height="3.67" fill="#5a5aff"/>
<rect x="533.84" y="677.72" width="3.74" height="3.67" fill="#6060ff"/>
<rect x="533.84" y="681.38" width="3.74" height="3.67" fill="#6a6aff"/>
<rect x="533.84" y="685.05" width="3.74" height="3.67" fill="#cacaff"/>
<rect x="533.84" y="688.72" width="3.74" height="3.67" fill="#9999ff"/>
<rect x="533.84" y="692.39" width="3.74" height="3.67" fill="#aaaaff"/>
<rect x="533.84" y="696.06" width="3.74" height="3.67" fill="#7575ff"/>
<rect x="533.84" y="699.73" width="3.74" height="3.67" fill="#2c2cff"/>
<rect x="537.58" y="655.70" width="3.74" height="3.67" fill="#f0f0ff"/>
<rect x="537.58" y="659.37" width="3.74" height="3.67" fill="#6666ff"/>
<rect x="537.58" y="663.04" width="3.74" height="3.67" fill="#8585ff"/>
<rect x="537.58" y="666.71" width="3.74" height="3.67" fill="#4a4aff"/>
<rect x="537.58" y="670.38" width="3.74" height="3.67" fill="#6464ff"/>
<rect x="537.58" y="674.05" width="3.74" height="3.67" fill="#8585ff"/>
<rect x="537.58" y="677.72" width="3.74" height="3.67" fill="#ff9f9f"/>
<rect x="537.58" y="681.38" width="3.74" height="3.67" fill="#8484ff"/>
<rect x="537.58" y="685.05" width="3.74" height="3.67" fill="#ededff"/>
<rect x="537.58" y="688.72" width="3.74" height="3.67" fill="#d1d1ff"/>
<rect x="537.58" y="692.39" width="3.74" height="3.67" fill="#5e5eff"/>
<rect x="537.58" y="696.06" width="3.74" height="3.67" fill="#3d3dff"/>
<rect x="537.58" y="699.73" width="3.74" height="3.67" fill="#6c6cff"/>
<rect x="541.32" y="655.70" width="3.74" height="3.67" fill="#dbdbff"/>
<rect x="541.32" y="659.37" width="3.74" height="3.67" fill="#5a5aff"/>
<rect x="541.32" y="663.04" width="3.74" height="3.67" fill="#a9a9ff"/>
<rect x="541.32" y="666.71" width="3.74" height="3.67" fill="#7070ff"/>
<rect x="541.32" y="670.38" width="3.74" height="3.67" fill="#ff1616"/>
<rect x="541.32" y="674.05" width="3.74" height="3.67" fill="#6e6eff"/>
<rect x="541.32" y="677.72" width="3.74" height="3.67" fill="#7777ff"/>
<rect x="541.32" y="681.38" width="3.74" height="3.67" fill="#3838ff"/>
<rect x="541.32" y="685.05" width="3.74" height="3.67" fill="#f7f7ff"/>
<rect x="541.32" y="688.72" width="3.74" height="3.67" fill="#4b4bff"/>
<rect x="541.32" y="692.39" width="3.74" height="3.67" fill="#a0a0ff"/>
<rect x="541.32" y="696.06" width="3.74" height="3.67" fill="#ffaeae"/>
<rect x="541.32" y="699.73" width="3.74" height="3.67" fill="#4646ff"/>
<rect x="545.06" y="655.70" width="3.74" height="3.67" fill="#4343ff"/>
<rect x="545.06" y="659.37" width="3.74" height="3.67" fill="#adadff"/>
<rect x="545.06" y="663.04" width="3.74" height="3.67" fill="#5555ff"/>
<rect x="545.06" y="666.71" width="3.74" height="3.67" fill="#7575ff"/>
<rect x="545.06" y="670.38" width="3.74" height="3.67" fill="#a4a4ff"/>
<rect x="545.06" y="674.05" width="3.74" height="3.67" fill="#8e8eff"/>
<rect x="545.06" y="677.72" width="3.74" height="3.67" fill="#2d2dff"/>
<rect x="545.06" y="681.38" width="3.74" height="3.67" fill="#4444ff"/>
<rect x="545.06" y="685.05" width="3.74" height="3.67" fill="#b7b7ff"/>
<rect x="545.06" y="688.72" width="3.74" height="3.67" fill="#3030ff"/>
<rect x="545.06" y="692.39" width="3.74" height="3.67" fill="#5858ff"/>
<rect x="545.06" y="696.06" width="3.74" height="3.67" fill="#b3b3ff"/>
<rect x="545.06" y="699.73" width="3.74" height="3.67" fill="#4949ff"/>
<rect x="548.80" y="655.70" width="3.74" height="3.67" fill="#4343ff"/>
<rect x="548.80" y="659.37" width="3.74" height="3.67" fill="#9696ff"/>
<rect x="548.80" y="663.04" width="3.74" height="3.67" fill="#4d4dff"/>
<rect x="548.80" y="666.71" width="3.74" height="3.67" fill="#2e2eff"/>
<rect x="548.80" y="670.38" width="3.74" height="3.67" fill="#4b4bff"/>
<rect x="548.80" y="674.05" width="3.74" height="3.67" fill="#9191ff"/>
<rect x="548.80" y="677.72" width="3.74" height="3.67" fill="#2d2dff"/>
<rect x="548.80" y="681.38" width="3.74" height="3.67" fill="#9898ff"/>
<rect x="548.80" y="685.05" width="3.74" height="3.67" fill="#7272ff"/>
<rect x="548.80" y="688.72" width="3.74" height="3.67" fill="#d8d8ff"/>
<rect x="548.80" y="692.39" width="3.74" height="3.67" fill="#9191ff"/>
<rect x="548.80" y="696.06" width="3.74" height="3.67" fill="#7b7bff"/>
<rect x="548.80" y="699.73" width="3.74" height="3.67" fill="#ff6b6b"/>
<rect x="552.54" y="659.37" width="3.74" height="3.67" fill="#5252ff"/>
<rect x="552.54" y="663.04" width="3.74" height="3.67" fill="#5555ff"/>
<rect x="552.54" y="666.71" width="3.74" height="3.67" fill="#bdbdff"/>
<rect x="552.54" y="670.38" width="3.74" height="3.67" fill="#5d5dff"/>
<rect x="552.54" y="674.05" width="3.74" height="3.67" fill="#7777ff"/>
<rect x="552.54" y="677.72" width="3.74" height="3.67" fill="#8e8eff"/>
<rect x="552.54" y="681.38" width="3.74" height="3.67" fill="#f0f0ff"/>
<rect x="552.54" y="685.05" width="3.74" height="3.67" fill="#3e3eff"/>
<rect x="552.54" y="688.72" width="3.74" height="3.67" fill="#6969ff"/>
<rect x="552.54" y="692.39" width="3.74" height="3.67" fill="#9494ff"/>
<rect x="552.54" y="696.06" width="3.74" height="3.67" fill="#7f7fff"/>
<rect x="552.54" y="699.73" width="3.74" height="3.67" fill="#ff1c1c"/>
<rect x="556.28" y="655.70" width="3.74" height="3.67" fill="#4646ff"/>
<rect x="556.28" y="659.37" width="3.74" height="3.67" fill="#d3d3ff"/>
<rect x="556.28" y="663.04" width="3.74" height="3.67" fill="#c5c5ff"/>
<rect x="556.28" y="666.71" width="3.74" height="3.67" fill="#3333ff"/>
<rect x="556.28" y="670.38" width="3.74" height="3.67" fill="#ffc2c2"/>
<rect x="556.28" y="674.05" width="3.74" height="3.67" fill="#9898ff"/>
<rect x="556.28" y="677.72" width="3.74" height="3.67" fill="#7676ff"/>
<rect x="556.28" y="681.38" width="3.74" height="3.67" fill="#b2b2ff"/>
<rect x="556.28" y="685.05" width="3.74" height="3.67" fill="#7979ff"/>
<rect x="556.28" y="688.72" width="3.74" height="3.67" fill="#aeaeff"/>
<rect x="556.28" y="692.39" width="3.74" height="3.67" fill="#b3b3ff"/>
<rect x="556.28" y="696.06" width="3.74" height="3.67" fill="#f4f4ff"/>
<rect x="556.28" y="699.73" width="3.74" height="3.67" fill="#9797ff"/>
<rect x="560.02" y="655.70" width="3.74" height="3.67" fill="#fefeff"/>
<rect x="560.02" y="659.37" width="3.74" height="3.67" fill="#adadff"/>
<rect x="560.02" y="663.04" width="3.74" height="3.67" fill="#9a9aff"/>
<rect x="560.02" y="666.71" width="3.74" height="3.67" fill="#4646ff"/>
<rect x="560.02" y="670.38" width="3.74" height="3.67" fill="#9d9dff"/>
<rect x="560.02" y="674.05" width="3.74" height="3.67" fill="#b3b3ff"/>
<rect x="560.02" y="677.72" width="3.74" height="3.67" fill="#3535ff"/>
<rect x="560.02" y="681.38" width="3.74" height="3.67" fill="#7979ff"/>
<rect x="560.02" y="685.05" width="3.74" height="3.67" fill="#cfcfff"/>
<rect x="560.02" y="688.72" width="3.74" height="3.67" fill="#ffa9a9"/>
<rect x="560.02" y="692.39" width="3.74" height="3.67" fill="#5e5eff"/>
<rect x="560.02" y="696.06" width="3.74" height="3.67" fill="#b2b2ff"/>
<rect x="560.02" y="699.73" width="3.74" height="3.67" fill="#b8b8ff"/>
<rect x="563.76" y="655.70" width="3.74" height="3.67" fill="#2a2aff"/>
<rect x="563.76" y="659.37" width="3.74" height="3.67" fill="#4444ff"/>
<rect x="563.76" y="663.04" width="3.74" height="3.67" fill="#a1a1ff"/>
<rect x="563.76" y="666.71" width="3.74" height="3.67" fill="#9797ff"/>
<rect x="563.76" y="670.38" width="3.74" height="3.67" fill="#9f9fff"/>
<rect x="563.76" y="674.05" width="3.74" height="3.67" fill="#d0d0ff"/>
<rect x="563.76" y="677.72" width="3.74" height="3.67" fill="#3838ff"/>
<rect x="563.76" y="681.38" width="3.74" height="3.67" fill="#8888ff"/>
<rect x="563.76" y="685.05" width="3.74" height="3.67" fill="#3b3bff"/>
<rect x="563.76" y="688.72" width="3.74" height="3.67" fill="#9f9fff"/>
<rect x="563.76" y="692.39" width="3.74" height="3.67" fill="#b3b3ff"/>
<rect x="563.76" y="696.06" width="3.74" height="3.67" fill="#9f9fff"/>
<rect x="563.76" y="699.73" width="3.74" height="3.67" fill="#ff3636"/>
<rect x="567.50" y="655.70" width="3.74" height="3.67" fill="#6363ff"/>
<rect x="567.50" y="659.37" width="3.74" height="3.67" fill="#a4a4ff"/>
<rect x="567.50" y="663.04" width="3.74" height="3.67" fill="#8181ff"/>
<rect x="567.50" y="666.71" width="3.74" height="3.67" fill="#ffefef"/>
<rect x="567.50" y="670.38" width="3.74" height="3.67" fill="#8383ff"/>
<rect x="567.50" y="674.05" width="3.74" height="3.67" fill="#5a5aff"/>
<rect x="567.50" y="677.72" width="3.74" height="3.67" fill="#a0a0ff"/>
<rect x="567.50" y="681.38" width="3.74" height="3.67" fill="#8585ff"/>
<rect x="567.50" y="685.05" width="3.74" height="3.67" fill="#9f9fff"/>
<rect x="567.50" y="688.72" width="3.74" height="3.67" fill="#5555ff"/>
<rect x="567.50" y="692.39" width="3.74" height="3.67" fill="#dfdfff"/>
<rect x="567.50" y="696.06" width="3.74" height="3.67" fill="#5c5cff"/>
<rect x="567.50" y="699.73" width="3.74" height="3.67" fill="#7979ff"/>
<rect x="571.23" y="655.70" width="3.74" height="3.67" fill="#ff8e8e"/>
<rect x="571.23" y="659.37" width="3.74" height="3.67" fill="#adadff"/>
<rect x="571.23" y="663.04" width="3.74" height="3.67" fill="#7a7aff"/>
<rect x="571.23" y="666.71" width="3.74" height="3.67" fill="#9090ff"/>
<rect x="571.23" y="670.38" width="3.74" height="3.67" fill="#5555ff"/>
<rect x="571.23" y="674.05" width="3.74" height="3.67" fill="#9e9eff"/>
<rect x="571.23" y="677.72" width="3.74" height="3.67" fill="#ffcdcd"/>
<rect x="571.23" y="681.38" width="3.74" height="3.67" fill="#7171ff"/>
<rect x="571.23" y="685.05" width="3.74" height="3.67" fill="#ffd3d3"/>
<rect x="571.23" y="688.72" width="3.74" height="3.67" fill="#8383ff"/>
<rect x="571.23" y="692.39" width="3.74" height="3.67" fill="#fff2f2"/>
<rect x="571.23" y="696.06" width="3.74" height="3.67" fill="#c8c8ff"/>
<rect x="571.23" y="699.73" width="3.74" height="3.67" fill="#adadff"/>
<rect x="574.97" y="655.70" width="3.74" height="3.67" fill="#5f5fff"/>
<rect x="574.97" y="659.37" width="3.74" height="3.67" fill="#3232ff"/>
<rect x="574.97" y="663.04" width="3.74" height="3.67" fill="#5e5eff"/>
<rect x="574.97" y="666.71" width="3.74" height="3.67" fill="#4e4eff"/>
<rect x="574.97" y="670.38" width="3.74" height="3.67" fill="#e6e6ff"/>
<rect x="574.97" y="674.05" width="3.74" height="3.67" fill="#a1a1ff"/>
<rect x="574.97" y="677.72" width="3.74" height="3.67" fill="#2d2dff"/>
<rect x="574.97" y="681.38" width="3.74" height="3.67" fill="#7a7aff"/>
<rect x="574.97" y="685.05" width="3.74" height="3.67" fill="#9595ff"/>
<rect x="574.97" y="688.72" width="3.74" height="3.67" fill="#3636ff"/>
<rect x="574.97" y="692.39" width="3.74" height="3.67" fill="#fff8f8"/>
<rect x="574.97" y="696.06" width="3.74" height="3.67" fill="#3737ff"/>
<rect x="574.97" y="699.73" width="3.74" height="3.67" fill="#9d9dff"/>
<rect x="578.71" y="659.37" width="3.74" height="3.67" fill="#d5d5ff"/>
<rect x="578.71" y="663.04" width="3.74" height="3.67" fill="#4040ff"/>
<rect x="578.71" y="666.71" width="3.74" height="3.67" fill="#3434ff"/>
<rect x="578.71" y="670.38" width="3.74" height="3.67" fill="#4949ff"/>
<rect x="578.71" y="674.05" width="3.74" height="3.67" fill="#9d9dff"/>
<rect x="578.71" y="677.72" width="3.74" height="3.67" fill="#2929ff"/>
<rect x="578.71" y="681.38" width="3.74" height="3.67" fill="#9f9fff"/>
<rect x="578.71" y="685.05" width="3.74" height="3.67" fill="#b9b9ff"/>
<rect x="578.71" y="688.72" width="3.74" height="3.67" fill="#fff7f7"/>
<rect x="578.71" y="692.39" width="3.74" height="3.67" fill="#b3b3ff"/>
<rect x="578.71" y="696.06" width="3.74" height="3.67" fill="#3333ff"/>
<rect x="578.71" y="699.73" width="3.74" height="3.67" fill="#5b5bff"/>
<rect x="582.45" y="659.37" width="3.74" height="3.67" fill="#b0b0ff"/>
<rect x="582.45" y="663.04" width="3.74" height="3.67" fill="#2d2dff"/>
<rect x="582.45" y="666.71" width="3.74" height="3.67" fill="#fff1f1"/>
<rect x="582.45" y="670.38" width="3.74" height="3.67" fill="#d4d4ff"/>
<rect x="582.45" y="674.05" width="3.74" height="3.67" fill="#4b4bff"/>
<rect x="582.45" y="677.72" width="3.74" height="3.67" fill="#7d7dff"/>
<rect x="582.45" y="681.38" width="3.74" height="3.67" fill="#8b8bff"/>
<rect x="582.45" y="685.05" width="3.74" height="3.67" fill="#ffe3e3"/>
<rect x="582.45" y="688.72" width="3.74" height="3.67" fill="#ffcbcb"/>
<rect x="582.45" y="692.39" width="3.74" height="3.67" fill="#9b9bff"/>
<rect x="582.45" y="696.06" width="3.74" height="3.67" fill="#6363ff"/>
<rect x="582.45" y="699.73" width="3.74" height="3.67" fill="#4242ff"/>
<rect x="586.19" y="659.37" width="3.74" height="3.67" fill="#b1b1ff"/>
<rect x="586.19" y="663.04" width="3.74" height="3.67" fill="#9393ff"/>
<rect x="586.19" y="666.71" width="3.74" height="3.67" fill="#b2b2ff"/>
<rect x="586.19" y="670.38" width="3.74" height="3.67" fill="#a0a0ff"/>
<rect x="586.19" y="674.05" width="3.74" height="3.67" fill="#5656ff"/>
<rect x="586.19" y="677.72" width="3.74" height="3.67" fill="#b2b2ff"/>
<rect x="586.19" y="681.38" width="3.74" height="3.67" fill="#7b7bff"/>
<rect x="586.19" y="685.05" width="3.74" height="3.67" fill="#e5e5ff"/>
<rect x="586.19" y="688.72" width="3.74" height="3.67" fill="#3131ff"/>
<rect x="586.19" y="692.39" width="3.74" height="3.67" fill="#2f2fff"/>
<rect x="586.19" y="696.06" width="3.74" height="3.67" fill="#4949ff"/>
<rect x="586.19" y="699.73" width="3.74" height="3.67" fill="#ff7e7e"/>
<rect x="589.93" y="655.70" width="3.74" height="3.67" fill="#6565ff"/>
<rect x="589.93" y="659.37" width="3.74" height="3.67" fill="#d1d1ff"/>
<rect x="589.93" y="663.04" width="3.74" height="3.67" fill="#2f2fff"/>
<rect x="589.93" y="666.71" width="3.74" height="3.67" fill="#4e4eff"/>
<rect x="589.93" y="670.38" width="3.74" height="3.67" fill="#5858ff"/>
<rect x="589.93" y="674.05" width="3.74" height="3.67" fill="#6464ff"/>
<rect x="589.93" y="677.72" width="3.74" height="3.67" fill="#4d4dff"/>
<rect x="589.93" y="681.38" width="3.74" height="3.67" fill="#8585ff"/>
<rect x="589.93" y="685.05" width="3.74" height="3.67" fill="#9494ff"/>
<rect x="589.93" y="688.72" width="3.74" height="3.67" fill="#6565ff"/>
<rect x="589.93" y="692.39" width="3.74" height="3.67" fill="#4242ff"/>
<rect x="589.93" y="696.06" width="3.74" height="3.67" fill="#8d8dff"/>
<rect x="589.93" y="699.73" width="3.74" height="3.67" fill="#ff5656"/>
<rect x="593.67" y="655.70" width="3.74" height="3.67" fill="#ff6868"/>
<rect x="593.67" y="659.37" width="3.74" height="3.67" fill="#9f9fff"/>
<rect x="593.67" y="663.04" width="3.74" height="3.67" fill="#7a7aff"/>
<rect x="593.67" y="666.71" width="3.74" height="3.67" fill="#4a4aff"/>
<rect x="593.67" y="670.38" width="3.74" height="3.67" fill="#2828ff"/>
<rect x="593.67" y="674.05" width="3.74" height="3.67" fill="#5656ff"/>
<rect x="593.67" y="677.72" width="3.74" height="3.67" fill="#4a4aff"/>
<rect x="593.67" y="681.38" width="3.74" height="3.67" fill="#ffeded"/>
<rect x="593.67" y="685.05" width="3.74" height="3.67" fill="#5b5bff"/>
<rect x="593.67" y="688.72" width="3.74" height="3.67" fill="#9797ff"/>
<rect x="593.67" y="692.39" width="3.74" height="3.67" fill="#3939ff"/>
<rect x="593.67" y="696.06" width="3.74" height="3.67" fill="#bbbbff"/>
<rect x="593.67" y="699.73" width="3.74" height="3.67" fill="#f2f2ff"/>
<rect x="597.41" y="659.37" width="3.74" height="3.67" fill="#9696ff"/>
<rect x="597.41" y="663.04" width="3.74" height="3.67" fill="#5656ff"/>
<rect x="597.41" y="666.71" width="3.74" height="3.67" fill="#9b9bff"/>
<rect x="597.41" y="670.38" width="3.74" height="3.67" fill="#9696ff"/>
<rect x="597.41" y="674.05" width="3.74" height="3.67" fill="#5757ff"/>
<rect x="597.41" y="677.72" width="3.74" height="3.67" fill="#4646ff"/>
<rect x="597.41" y="681.38" width="3.74" height="3.67" fill="#8b8bff"/>
<rect x="597.41" y="685.05" width="3.74" height="3.67" fill="#adadff"/>
<rect x="597.41" y="688.72" width="3.74" height="3.67" fill="#2e2eff"/>
<rect x="597.41" y="692.39" width="3.74" height="3.67" fill="#7171ff"/>
<rect x="597.41" y="696.06" width="3.74" height="3.67" fill="#b1b1ff"/>
<rect x="597.41" y="699.73" width="3.74" height="3.67" fill="#2929ff"/>
<rect x="601.15" y="659.37" width="3.74" height="3.67" fill="#d4d4ff"/>
<rect x="601.15" y="663.04" width="3.74" height="3.67" fill="#a0a0ff"/>
<rect x="601.15" y="666.71" width="3.74" height="3.67" fill="#7373ff"/>
<rect x="601.15" y="670.38" width="3.74" height="3.67" fill="#6464ff"/>
<rect x="601.15" y="674.05" width="3.74" height="3.67" fill="#8989ff"/>
<rect x="601.15" y="677.72" width="3.74" height="3.67" fill="#3030ff"/>
<rect x="601.15" y="681.38" width="3.74" height="3.67" fill="#9090ff"/>
<rect x="601.15" y="685.05" width="3.74" height="3.67" fill="#5858ff"/>
<rect x="601.15" y="688.72" width="3.74" height="3.67" fill="#3232ff"/>
<rect x="601.15" y="692.39" width="3.74" height="3.67" fill="#8484ff"/>
<rect x="601.15" y="696.06" width="3.74" height="3.67" fill="#7e7eff"/>
<rect x="601.15" y="699.73" width="3.74" height="3.67" fill="#a2a2ff"/>
<rect x="604.89" y="659.37" width="3.74" height="3.67" fill="#3232ff"/>
<rect x="604.89" y="663.04" width="3.74" height="3.67" fill="#7272ff"/>
<rect x="604.89" y="666.71" width="3.74" height="3.67" fill="#4747ff"/>
<rect x="604.89" y="670.38" width="3.74" height="3.67" fill="#5353ff"/>
<rect x="604.89" y="674.05" width="3.74" height="3.67" fill="#7272ff"/>
<rect x="604.89" y="677.72" width="3.74" height="3.67" fill="#5d5dff"/>
<rect x="604.89" y="681.38" width="3.74" height="3.67" fill="#6464ff"/>
<rect x="604.89" y="685.05" width="3.74" height="3.67" fill="#8484ff"/>
<rect x="604.89" y="688.72" width="3.74" height="3.67" fill="#9292ff"/>
<rect x="604.89" y="692.39" width="3.74" height="3.67" fill="#2b2bff"/>
<rect x="604.89" y="696.06" width="3.74" height="3.67" fill="#bbbbff"/>
<rect x="604.89" y="699.73" width="3.74" height="3.67" fill="#5d5dff"/>
<rect x="608.63" y="659.37" width="3.74" height="3.67" fill="#4848ff"/>
<rect x="608.63" y="663.04" width="3.74" height="3.67" fill="#d4d4ff"/>
<rect x="608.63" y="666.71" width="3.74" height="3.67" fill="#a6a6ff"/>
<rect x="608.63" y="670.38" width="3.74" height="3.67" fill="#afafff"/>
<rect x="608.63" y="674.05" width="3.74" height="3.67" fill="#9393ff"/>
<rect x="608.63" y="677.72" width="3.74" height="3.67" fill="#fff2f2"/>
<rect x="608.63" y="681.38" width="3.74" height="3.67" fill="#5454ff"/>
<rect x="608.63" y="685.05" width="3.74" height="3.67" fill="#a5a5ff"/>
<rect x="608.63" y="688.72" width="3.74" height="3.67" fill="#fffafa"/>
<rect x="608.63" y="692.39" width="3.74" height="3.67" fill="#5b5bff"/>
<rect x="608.63" y="696.06" width="3.74" height="3.67" fill="#ff0808"/>
<rect x="612.37" y="659.37" width="3.74" height="3.67" fill="#8f8fff"/>
<rect x="612.37" y="663.04" width="3.74" height="3.67" fill="#a1a1ff"/>
<rect x="612.37" y="666.71" width="3.74" height="3.67" fill="#ffcaca"/>
<rect x="612.37" y="670.38" width="3.74" height="3.67" fill="#4747ff"/>
<rect x="612.37" y="674.05" width="3.74" height="3.67" fill="#7f7fff"/>
<rect x="612.37" y="677.72" width="3.74" height="3.67" fill="#dbdbff"/>
<rect x="612.37" y="681.38" width="3.74" height="3.67" fill="#3b3bff"/>
<rect x="612.37" y="685.05" width="3.74" height="3.67" fill="#6565ff"/>
<rect x="612.37" y="688.72" width="3.74" height="3.67" fill="#6666ff"/>
<rect x="612.37" y="692.39" width="3.74" height="3.67" fill="#4747ff"/>
<rect x="612.37" y="696.06" width="3.74" height="3.67" fill="#7272ff"/>
<rect x="616.10" y="663.04" width="3.74" height="3.67" fill="#4c4cff"/>
<rect x="616.10" y="666.71" width="3.74" height="3.67" fill="#6c6cff"/>
<rect x="616.10" y="670.38" width="3.74" height="3.67" fill="#a3a3ff"/>
<rect x="616.10" y="674.05" width="3.74" height="3.67" fill="#5959ff"/>
<rect x="616.10" y="677.72" width="3.74" height="3.67" fill="#8888ff"/>
<rect x="616.10" y="681.38" width="3.74" height="3.67" fill="#5a5aff"/>
<rect x="616.10" y="685.05" width="3.74" height="3.67" fill="#ff3232"/>
<rect x="616.10" y="688.72" width="3.74" height="3.67" fill="#adadff"/>
<rect x="616.10" y="692.39" width="3.74" height="3.67" fill="#2e2eff"/>
<rect x="616.10" y="696.06" width="3.74" height="3.67" fill="#9595ff"/>
<rect x="619.84" y="663.04" width="3.74" height="3.67" fill="#ebebff"/>
<rect x="619.84" y="666.71" width="3.74" height="3.67" fill="#3a3aff"/>
<rect x="619.84" y="670.38" width="3.74" height="3.67" fill="#4141ff"/>
<rect x="619.84" y="674.05" width="3.74" height="3.67" fill="#fff6f6"/>
<rect x="619.84" y="677.72" width="3.74" height="3.67" fill="#ffc0c0"/>
<rect x="619.84" y="681.38" width="3.74" height="3.67" fill="#ffe2e2"/>
<rect x="619.84" y="685.05" width="3.74" height="3.67" fill="#4747ff"/>
<rect x="619.84" y="688.72" width="3.74" height="3.67" fill="#a8a8ff"/>
<rect x="619.84" y="692.39" width="3.74" height="3.67" fill="#6a6aff"/>
<rect x="623.58" y="663.04" width="3.74" height="3.67" fill="#8787ff"/>
<rect x="623.58" y="666.71" width="3.74" height="3.67" fill="#ff3b3b"/>
<rect x="623.58" y="670.38" width="3.74" height="3.67" fill="#dfdfff"/>
<rect x="623.58" y="674.05" width="3.74" height="3.67" fill="#d0d0ff"/>
<rect x="623.58" y="677.72" width="3.74" height="3.67" fill="#6262ff"/>
<rect x="623.58" y="681.38" width="3.74" height="3.67" fill="#6767ff"/>
<rect x="623.58" y="685.05" width="3.74" height="3.67" fill="#4545ff"/>
<rect x="623.58" y="688.72" width="3.74" height="3.67" fill="#9898ff"/>
<rect x="623.58" y="692.39" width="3.74" height="3.67" fill="#5252ff"/>
<rect x="627.32" y="666.71" width="3.74" height="3.67" fill="#ffc4c4"/>
<rect x="627.32" y="670.38" width="3.74" height="3.67" fill="#5b5bff"/>
<rect x="627.32" y="674.05" width="3.74" height="3.67" fill="#6969ff"/>
<rect x="627.32" y="677.72" width="3.74" height="3.67" fill="#4848ff"/>
<rect x="627.32" y="681.38" width="3.74" height="3.67" fill="#8585ff"/>
<rect x="627.32" y="685.05" width="3.74" height="3.67" fill="#dcdcff"/>
<rect x="627.32" y="688.72" width="3.74" height="3.67" fill="#6969ff"/>
<rect x="631.06" y="674.05" width="3.74" height="3.67" fill="#9595ff"/>
<rect x="631.06" y="677.72" width="3.74" height="3.67" fill="#6767ff"/>
<rect x="631.06" y="681.38" width="3.74" height="3.67" fill="#8686ff"/>
</g>
<text x="552.9" y="652.7" font-size="9.6" text-anchor="middle">Diffusivity map</text>
<line x1="460.80" y1="663.20" x2="462.80" y2="663.20" stroke="#111" stroke-width="0.7"/>
<text x="459.3" y="666.4" font-size="9" text-anchor="end">0.2</text>
<line x1="460.80" y1="679.10" x2="462.80" y2="679.10" stroke="#111" stroke-width="0.7"/>
<text x="459.3" y="682.3" font-size="9" text-anchor="end">0.0</text>
<line x1="460.80" y1="695.00" x2="462.80" y2="695.00" stroke="#111" stroke-width="0.7"/>
<text x="459.3" y="698.2" font-size="9" text-anchor="end">-0.2</text>
<line x1="476.30" y1="703.30" x2="476.30" y2="705.30" stroke="#111" stroke-width="0.7"/>
<text x="474.8" y="715.1" font-size="9" text-anchor="middle">-1.0</text>
<line x1="513.30" y1="703.30" x2="513.30" y2="705.30" stroke="#111" stroke-width="0.7"/>
<text x="511.8" y="715.1" font-size="9" text-anchor="middle">-0.5</text>
<line x1="550.30" y1="703.30" x2="550.30" y2="705.30" stroke="#111" stroke-width="0.7"/>
<text x="548.8" y="715.1" font-size="9" text-anchor="middle">0.0</text>
<line x1="587.30" y1="703.30" x2="587.30" y2="705.30" stroke="#111" stroke-width="0.7"/>
<text x="585.8" y="715.1" font-size="9" text-anchor="middle">0.5</text>
<line x1="624.30" y1="703.30" x2="624.30" y2="705.30" stroke="#111" stroke-width="0.7"/>
<text x="622.8" y="715.1" font-size="9" text-anchor="middle">1.0</text>
<text x="551.0" y="727.0" font-size="9.5" text-anchor="middle">(μm)</text>
<rect x="644.8" y="648.2" width="3" height="60.7" fill="url(#bwr)"/>
<line x1="647.80" y1="661.30" x2="649.60" y2="661.30" stroke="#111" stroke-width="0.7"/>
<text x="652.0" y="664.5" font-size="9">30</text>
<line x1="647.80" y1="677.30" x2="649.60" y2="677.30" stroke="#111" stroke-width="0.7"/>
<text x="652.0" y="680.5" font-size="9">20</text>
<line x1="647.80" y1="693.30" x2="649.60" y2="693.30" stroke="#111" stroke-width="0.7"/>
<text x="652.0" y="696.5" font-size="9">10</text>
<text x="677" y="680" font-size="9.9" text-anchor="middle" transform="rotate(-90 677 680)">D<tspan font-size="6.5" font-style="italic">L</tspan> (μm²/s)</text>
</g>
</svg>
</body></html>
